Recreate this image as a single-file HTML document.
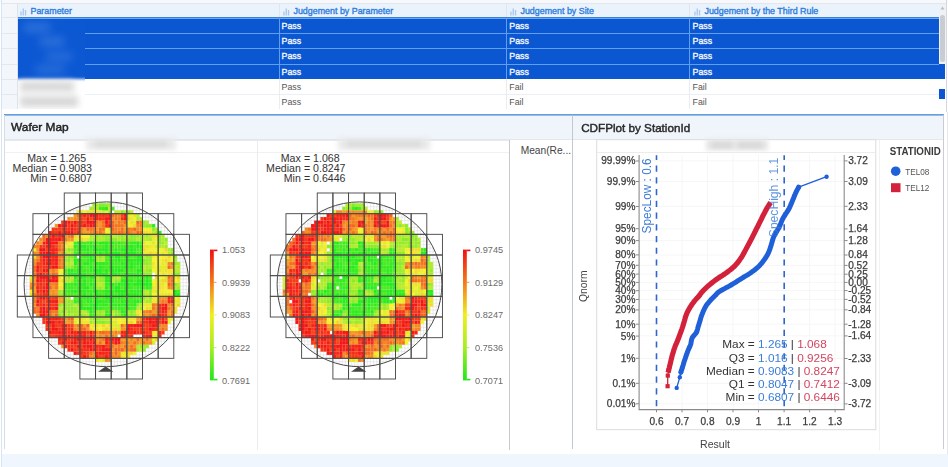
<!DOCTYPE html><html><head><meta charset="utf-8"><style>html,body{margin:0;padding:0;background:#fff;}body{width:948px;height:467px;overflow:hidden;position:relative;font-family:"Liberation Sans", sans-serif;}#wrap{position:absolute;left:0;top:0;width:948px;height:467px;overflow:hidden;filter:blur(0.4px);}</style></head><body><div id="wrap">
<div style="position:absolute;left:0px;top:0px;width:948px;height:3px;background:#f6f8fb;"></div>
<div style="position:absolute;left:1px;top:0px;width:1px;height:467px;background:#d6e4f5;"></div>
<div style="position:absolute;left:2px;top:3px;width:944px;height:1px;background:#e2e7ee;"></div>
<div style="position:absolute;left:2px;top:4px;width:15px;height:105px;background:#f3f6fa;"></div>
<div style="position:absolute;left:2px;top:17px;width:15px;height:1px;background:#e3e8ef;"></div>
<div style="position:absolute;left:2px;top:33px;width:15px;height:1px;background:#e3e8ef;"></div>
<div style="position:absolute;left:2px;top:48px;width:15px;height:1px;background:#e3e8ef;"></div>
<div style="position:absolute;left:2px;top:64px;width:15px;height:1px;background:#e3e8ef;"></div>
<div style="position:absolute;left:2px;top:79px;width:15px;height:1px;background:#e3e8ef;"></div>
<div style="position:absolute;left:2px;top:94px;width:15px;height:1px;background:#e3e8ef;"></div>
<div style="position:absolute;left:17px;top:4px;width:1px;height:105px;background:#dde3ea;"></div>
<div style="position:absolute;left:18px;top:4px;width:921px;height:13px;background:#eaf3fc;"></div>
<div style="position:absolute;left:279px;top:4px;width:1px;height:13px;background:#dfe6ee;"></div>
<div style="position:absolute;left:506px;top:4px;width:1px;height:13px;background:#dfe6ee;"></div>
<div style="position:absolute;left:689px;top:4px;width:1px;height:13px;background:#dfe6ee;"></div>
<div style="position:absolute;left:18px;top:17px;width:921px;height:62px;background:#0b57d2;"></div>
<div style="position:absolute;left:939px;top:64px;width:6px;height:15px;background:#0b57d2;"></div>
<div style="position:absolute;left:18px;top:16.6px;width:921px;height:1px;background:#3f7fd0;"></div>
<div style="position:absolute;left:18px;top:17.6px;width:921px;height:1.2px;background:#64a8f6;"></div>
<div style="position:absolute;left:85px;top:33px;width:854px;height:1px;background:#5f9ff2;"></div>
<div style="position:absolute;left:85px;top:48px;width:854px;height:1px;background:#5f9ff2;"></div>
<div style="position:absolute;left:85px;top:63.5px;width:854px;height:1px;background:#5f9ff2;"></div>
<div style="position:absolute;left:279px;top:18px;width:1px;height:61px;background:#5f9ff2;"></div>
<div style="position:absolute;left:506px;top:18px;width:1px;height:61px;background:#5f9ff2;"></div>
<div style="position:absolute;left:689px;top:18px;width:1px;height:61px;background:#5f9ff2;"></div>
<div style="position:absolute;left:18px;top:79px;width:921px;height:30px;background:#ffffff;"></div>
<div style="position:absolute;left:85px;top:94px;width:854px;height:1px;background:#eceff3;"></div>
<div style="position:absolute;left:279px;top:79px;width:1px;height:30px;background:#e9edf1;"></div>
<div style="position:absolute;left:506px;top:79px;width:1px;height:30px;background:#e9edf1;"></div>
<div style="position:absolute;left:689px;top:79px;width:1px;height:30px;background:#e9edf1;"></div>
<svg style="position:absolute;left:20px;top:8px" width="8" height="8"><rect x="0.3" y="3.5" width="1.3" height="4" fill="#a9c6ea"/><rect x="2.6" y="0.5" width="1.3" height="7" fill="#a9c6ea"/><rect x="4.9" y="2" width="1.3" height="5.5" fill="#a9c6ea"/></svg>
<div style="position:absolute;left:30.5px;top:7.15px;font-size:8.9px;line-height:8.9px;color:#2d7cdc;font-weight:normal;white-space:nowrap;-webkit-text-stroke:0.35px #2d7cdc">Parameter</div>
<svg style="position:absolute;left:283px;top:8px" width="8" height="8"><rect x="0.3" y="3.5" width="1.3" height="4" fill="#a9c6ea"/><rect x="2.6" y="0.5" width="1.3" height="7" fill="#a9c6ea"/><rect x="4.9" y="2" width="1.3" height="5.5" fill="#a9c6ea"/></svg>
<div style="position:absolute;left:293.5px;top:7.15px;font-size:8.9px;line-height:8.9px;color:#2d7cdc;font-weight:normal;white-space:nowrap;-webkit-text-stroke:0.35px #2d7cdc">Judgement by Parameter</div>
<svg style="position:absolute;left:510px;top:8px" width="8" height="8"><rect x="0.3" y="3.5" width="1.3" height="4" fill="#a9c6ea"/><rect x="2.6" y="0.5" width="1.3" height="7" fill="#a9c6ea"/><rect x="4.9" y="2" width="1.3" height="5.5" fill="#a9c6ea"/></svg>
<div style="position:absolute;left:520.5px;top:7.15px;font-size:8.9px;line-height:8.9px;color:#2d7cdc;font-weight:normal;white-space:nowrap;-webkit-text-stroke:0.35px #2d7cdc">Judgement by Site</div>
<svg style="position:absolute;left:694px;top:8px" width="8" height="8"><rect x="0.3" y="3.5" width="1.3" height="4" fill="#a9c6ea"/><rect x="2.6" y="0.5" width="1.3" height="7" fill="#a9c6ea"/><rect x="4.9" y="2" width="1.3" height="5.5" fill="#a9c6ea"/></svg>
<div style="position:absolute;left:704.5px;top:7.15px;font-size:8.9px;line-height:8.9px;color:#2d7cdc;font-weight:normal;white-space:nowrap;-webkit-text-stroke:0.35px #2d7cdc">Judgement by the Third Rule</div>
<div style="position:absolute;left:281.6px;top:22.24px;font-size:8.8px;line-height:8.8px;color:#f4f8ff;font-weight:normal;white-space:nowrap;-webkit-text-stroke:0.35px #f4f8ff">Pass</div>
<div style="position:absolute;left:509.3px;top:22.24px;font-size:8.8px;line-height:8.8px;color:#f4f8ff;font-weight:normal;white-space:nowrap;-webkit-text-stroke:0.35px #f4f8ff">Pass</div>
<div style="position:absolute;left:692.6px;top:22.24px;font-size:8.8px;line-height:8.8px;color:#f4f8ff;font-weight:normal;white-space:nowrap;-webkit-text-stroke:0.35px #f4f8ff">Pass</div>
<div style="position:absolute;left:281.6px;top:37.24px;font-size:8.8px;line-height:8.8px;color:#f4f8ff;font-weight:normal;white-space:nowrap;-webkit-text-stroke:0.35px #f4f8ff">Pass</div>
<div style="position:absolute;left:509.3px;top:37.24px;font-size:8.8px;line-height:8.8px;color:#f4f8ff;font-weight:normal;white-space:nowrap;-webkit-text-stroke:0.35px #f4f8ff">Pass</div>
<div style="position:absolute;left:692.6px;top:37.24px;font-size:8.8px;line-height:8.8px;color:#f4f8ff;font-weight:normal;white-space:nowrap;-webkit-text-stroke:0.35px #f4f8ff">Pass</div>
<div style="position:absolute;left:281.6px;top:52.34px;font-size:8.8px;line-height:8.8px;color:#f4f8ff;font-weight:normal;white-space:nowrap;-webkit-text-stroke:0.35px #f4f8ff">Pass</div>
<div style="position:absolute;left:509.3px;top:52.34px;font-size:8.8px;line-height:8.8px;color:#f4f8ff;font-weight:normal;white-space:nowrap;-webkit-text-stroke:0.35px #f4f8ff">Pass</div>
<div style="position:absolute;left:692.6px;top:52.34px;font-size:8.8px;line-height:8.8px;color:#f4f8ff;font-weight:normal;white-space:nowrap;-webkit-text-stroke:0.35px #f4f8ff">Pass</div>
<div style="position:absolute;left:281.6px;top:67.54px;font-size:8.8px;line-height:8.8px;color:#f4f8ff;font-weight:normal;white-space:nowrap;-webkit-text-stroke:0.35px #f4f8ff">Pass</div>
<div style="position:absolute;left:509.3px;top:67.54px;font-size:8.8px;line-height:8.8px;color:#f4f8ff;font-weight:normal;white-space:nowrap;-webkit-text-stroke:0.35px #f4f8ff">Pass</div>
<div style="position:absolute;left:692.6px;top:67.54px;font-size:8.8px;line-height:8.8px;color:#f4f8ff;font-weight:normal;white-space:nowrap;-webkit-text-stroke:0.35px #f4f8ff">Pass</div>
<div style="position:absolute;left:281.6px;top:82.84px;font-size:8.8px;line-height:8.8px;color:#555555;font-weight:normal;white-space:nowrap;">Pass</div>
<div style="position:absolute;left:509.3px;top:82.84px;font-size:8.8px;line-height:8.8px;color:#555555;font-weight:normal;white-space:nowrap;">Fail</div>
<div style="position:absolute;left:692.6px;top:82.84px;font-size:8.8px;line-height:8.8px;color:#555555;font-weight:normal;white-space:nowrap;">Fail</div>
<div style="position:absolute;left:281.6px;top:97.84px;font-size:8.8px;line-height:8.8px;color:#555555;font-weight:normal;white-space:nowrap;">Pass</div>
<div style="position:absolute;left:509.3px;top:97.84px;font-size:8.8px;line-height:8.8px;color:#555555;font-weight:normal;white-space:nowrap;">Fail</div>
<div style="position:absolute;left:692.6px;top:97.84px;font-size:8.8px;line-height:8.8px;color:#555555;font-weight:normal;white-space:nowrap;">Fail</div>
<div style="position:absolute;left:17.5px;top:18.5px;width:67.5px;height:90px;overflow:hidden;background:#fff"><div style="position:absolute;left:-8px;top:-8px;width:84px;height:68.5px;background:#0c58d3;filter:blur(1.6px)"></div><div style="position:absolute;left:6px;top:4px;width:26px;height:9px;background:#4a86e2;filter:blur(4px);opacity:.55"></div><div style="position:absolute;left:22px;top:18px;width:24px;height:9px;background:#4a86e2;filter:blur(4px);opacity:.55"></div><div style="position:absolute;left:28px;top:33px;width:26px;height:9px;background:#4a86e2;filter:blur(4px);opacity:.45"></div><div style="position:absolute;left:18px;top:46px;width:28px;height:9px;background:#4a86e2;filter:blur(4px);opacity:.45"></div><div style="position:absolute;left:2px;top:62px;width:54px;height:11px;background:#dadada;filter:blur(3px)"></div><div style="position:absolute;left:2px;top:77px;width:58px;height:11px;background:#d8d8d8;filter:blur(3px)"></div></div>
<div style="position:absolute;left:939px;top:4px;width:7px;height:60px;background:#eef1f5;"></div>
<div style="position:absolute;left:939px;top:79px;width:7px;height:30px;background:#ffffff;"></div>
<svg style="position:absolute;left:939px;top:5px" width="7" height="6"><path d="M1.5 4.5 L3.5 1.5 L5.5 4.5 Z" fill="#b9bec6"/></svg>
<div style="position:absolute;left:939.6px;top:14.5px;width:5px;height:47px;background:#c9ccd1;border-radius:2.5px"></div>
<div style="position:absolute;left:939.3px;top:89px;width:5.8px;height:10px;background:#0b57d2;"></div>
<div style="position:absolute;left:946px;top:0px;width:1px;height:112px;background:#d5d9de;"></div>
<div style="position:absolute;left:3.5px;top:115.4px;width:940px;height:24px;background:#f0f5fb;"></div>
<div style="position:absolute;left:3.5px;top:114.3px;width:940.5px;height:1.1px;background:#6e9bd2;"></div>
<div style="position:absolute;left:3.5px;top:115.4px;width:940.5px;height:1px;background:#8cc0f2;"></div>
<div style="position:absolute;left:3.5px;top:138.8px;width:940px;height:0.8px;background:#e3e7ec;"></div>
<div style="position:absolute;left:3.5px;top:115px;width:1px;height:334px;background:#d7dde5;"></div>
<div style="position:absolute;left:572px;top:115px;width:1.4px;height:334px;background:#c3c8ce;"></div>
<div style="position:absolute;left:943.2px;top:115px;width:1px;height:334px;background:#c9cdd3;"></div>
<div style="position:absolute;left:879px;top:140px;width:1px;height:311px;background:#f1f2f3;"></div>
<div style="position:absolute;left:947px;top:112px;width:1px;height:355px;background:#e6e8eb;"></div>
<div style="position:absolute;left:2px;top:453.7px;width:946px;height:14px;background:#f0f6fd;"></div>
<div style="position:absolute;left:4.5px;top:139.5px;width:567.5px;height:310px;background:#ffffff;"></div>
<div style="position:absolute;left:4.5px;top:139.5px;width:505.5px;height:1px;background:#e6eaef;"></div>
<div style="position:absolute;left:4.5px;top:151.8px;width:505px;height:1px;background:#eff1f3;"></div>
<div style="position:absolute;left:257px;top:139.5px;width:1px;height:310px;background:#eaedf0;"></div>
<div style="position:absolute;left:509.3px;top:139.5px;width:1.2px;height:310px;background:#c9c9c9;"></div>
<div style="position:absolute;left:86px;top:138px;width:90px;height:12px;background:#e9e9e9;filter:blur(2.5px)"></div><div style="position:absolute;left:95px;top:141px;width:72px;height:6px;background:#dcdcdc;filter:blur(2px)"></div>
<div style="position:absolute;left:338px;top:138px;width:92px;height:12px;background:#e9e9e9;filter:blur(2.5px)"></div><div style="position:absolute;left:347px;top:141px;width:74px;height:6px;background:#dcdcdc;filter:blur(2px)"></div>
<div style="position:absolute;left:520.7px;top:145.77px;font-size:10.2px;line-height:10.2px;color:#444444;font-weight:normal;white-space:nowrap;">Mean(Re...</div>
<div style="position:absolute;right:900.7px;top:152.81px;font-size:10.6px;line-height:10.6px;color:#333333;font-weight:normal;white-space:nowrap;text-align:right;">Max</div>
<div style="position:absolute;left:47.5px;top:152.81px;font-size:10.6px;line-height:10.6px;color:#333333;font-weight:normal;white-space:nowrap;">&nbsp;=&nbsp;1.265</div>
<div style="position:absolute;right:900.7px;top:162.91px;font-size:10.6px;line-height:10.6px;color:#333333;font-weight:normal;white-space:nowrap;text-align:right;">Median</div>
<div style="position:absolute;left:47.5px;top:162.91px;font-size:10.6px;line-height:10.6px;color:#333333;font-weight:normal;white-space:nowrap;">&nbsp;=&nbsp;0.9083</div>
<div style="position:absolute;right:900.7px;top:173.01px;font-size:10.6px;line-height:10.6px;color:#333333;font-weight:normal;white-space:nowrap;text-align:right;">Min</div>
<div style="position:absolute;left:47.5px;top:173.01px;font-size:10.6px;line-height:10.6px;color:#333333;font-weight:normal;white-space:nowrap;">&nbsp;=&nbsp;0.6807</div>
<div style="position:absolute;right:647.2px;top:152.81px;font-size:10.6px;line-height:10.6px;color:#333333;font-weight:normal;white-space:nowrap;text-align:right;">Max</div>
<div style="position:absolute;left:301.0px;top:152.81px;font-size:10.6px;line-height:10.6px;color:#333333;font-weight:normal;white-space:nowrap;">&nbsp;=&nbsp;1.068</div>
<div style="position:absolute;right:647.2px;top:162.91px;font-size:10.6px;line-height:10.6px;color:#333333;font-weight:normal;white-space:nowrap;text-align:right;">Median</div>
<div style="position:absolute;left:301.0px;top:162.91px;font-size:10.6px;line-height:10.6px;color:#333333;font-weight:normal;white-space:nowrap;">&nbsp;=&nbsp;0.8247</div>
<div style="position:absolute;right:647.2px;top:173.01px;font-size:10.6px;line-height:10.6px;color:#333333;font-weight:normal;white-space:nowrap;text-align:right;">Min</div>
<div style="position:absolute;left:301.0px;top:173.01px;font-size:10.6px;line-height:10.6px;color:#333333;font-weight:normal;white-space:nowrap;">&nbsp;=&nbsp;0.6446</div>
<svg style="position:absolute;left:0;top:0" width="948" height="467"><defs><linearGradient id="cb" x1="0" y1="0" x2="0" y2="1"><stop offset="0" stop-color="#f01010"/><stop offset="0.25" stop-color="#f37a1a"/><stop offset="0.5" stop-color="#f0ee1e"/><stop offset="0.75" stop-color="#a6ee22"/><stop offset="1" stop-color="#1ee81a"/></linearGradient><filter id="bl2" x="-50%" y="-50%" width="200%" height="200%"><feGaussianBlur stdDeviation="2"/></filter></defs><clipPath id="wc11"><circle cx="106.50" cy="284.30" r="82.4"/></clipPath><path clip-path="url(#wc11)" stroke="#cdcdcd" stroke-opacity="0.9" stroke-width="0.45" fill="none" d="M17.30 193.0V379.0M20.43 193.0V379.0M23.56 193.0V379.0M26.69 193.0V379.0M29.82 193.0V379.0M32.95 193.0V379.0M36.08 193.0V379.0M39.21 193.0V379.0M42.34 193.0V379.0M45.47 193.0V379.0M48.60 193.0V379.0M51.73 193.0V379.0M54.86 193.0V379.0M57.99 193.0V379.0M61.12 193.0V379.0M64.25 193.0V379.0M67.38 193.0V379.0M70.51 193.0V379.0M73.64 193.0V379.0M76.77 193.0V379.0M79.90 193.0V379.0M83.03 193.0V379.0M86.16 193.0V379.0M89.29 193.0V379.0M92.42 193.0V379.0M95.55 193.0V379.0M98.68 193.0V379.0M101.81 193.0V379.0M104.94 193.0V379.0M108.07 193.0V379.0M111.20 193.0V379.0M114.33 193.0V379.0M117.46 193.0V379.0M120.59 193.0V379.0M123.72 193.0V379.0M126.85 193.0V379.0M129.98 193.0V379.0M133.11 193.0V379.0M136.24 193.0V379.0M139.37 193.0V379.0M142.50 193.0V379.0M145.63 193.0V379.0M148.76 193.0V379.0M151.89 193.0V379.0M155.02 193.0V379.0M158.15 193.0V379.0M161.28 193.0V379.0M164.41 193.0V379.0M167.54 193.0V379.0M170.67 193.0V379.0M173.80 193.0V379.0M176.93 193.0V379.0M180.06 193.0V379.0M183.19 193.0V379.0M186.32 193.0V379.0M189.45 193.0V379.0M17.3 193.00H189.5M17.3 196.44H189.5M17.3 199.89H189.5M17.3 203.33H189.5M17.3 206.78H189.5M17.3 210.22H189.5M17.3 213.67H189.5M17.3 217.11H189.5M17.3 220.56H189.5M17.3 224.00H189.5M17.3 227.44H189.5M17.3 230.89H189.5M17.3 234.33H189.5M17.3 237.78H189.5M17.3 241.22H189.5M17.3 244.67H189.5M17.3 248.11H189.5M17.3 251.56H189.5M17.3 255.00H189.5M17.3 258.45H189.5M17.3 261.89H189.5M17.3 265.33H189.5M17.3 268.78H189.5M17.3 272.22H189.5M17.3 275.67H189.5M17.3 279.11H189.5M17.3 282.56H189.5M17.3 286.00H189.5M17.3 289.45H189.5M17.3 292.89H189.5M17.3 296.34H189.5M17.3 299.78H189.5M17.3 303.22H189.5M17.3 306.67H189.5M17.3 310.11H189.5M17.3 313.56H189.5M17.3 317.00H189.5M17.3 320.45H189.5M17.3 323.89H189.5M17.3 327.34H189.5M17.3 330.78H189.5M17.3 334.22H189.5M17.3 337.67H189.5M17.3 341.11H189.5M17.3 344.56H189.5M17.3 348.00H189.5M17.3 351.45H189.5M17.3 354.89H189.5M17.3 358.34H189.5M17.3 361.78H189.5M17.3 365.23H189.5M17.3 368.67H189.5M17.3 372.11H189.5M17.3 375.56H189.5M17.3 379.00H189.5"/><path fill="#f4ec24" d="M76.8 210.2h3.35v3.66h-3.35zM104.9 230.9h3.35v3.66h-3.35zM108.1 230.9h3.35v3.66h-3.35zM130.0 213.7h3.35v3.66h-3.35zM126.8 224.0h3.35v3.66h-3.35zM130.0 224.0h3.35v3.66h-3.35zM142.5 227.4h3.35v3.66h-3.35zM148.8 227.4h3.35v3.66h-3.35zM33.0 248.1h3.35v3.66h-3.35zM76.8 237.8h3.35v3.66h-3.35zM67.4 241.2h3.35v3.66h-3.35zM79.9 234.3h3.35v3.66h-3.35zM151.9 244.7h3.35v3.66h-3.35zM145.6 248.1h3.35v3.66h-3.35zM164.4 251.6h3.35v3.66h-3.35zM58.0 268.8h3.35v3.66h-3.35zM151.9 255.0h3.35v3.66h-3.35zM155.0 255.0h3.35v3.66h-3.35zM151.9 265.3h3.35v3.66h-3.35zM161.3 255.0h3.35v3.66h-3.35zM164.4 255.0h3.35v3.66h-3.35zM164.4 272.2h3.35v3.66h-3.35zM164.4 286.0h3.35v3.66h-3.35zM158.2 289.4h3.35v3.66h-3.35zM161.3 289.4h3.35v3.66h-3.35zM173.8 275.7h3.35v3.66h-3.35zM173.8 303.2h3.35v3.66h-3.35zM89.3 323.9h3.35v3.66h-3.35zM92.4 327.3h3.35v3.66h-3.35zM98.7 323.9h3.35v3.66h-3.35zM104.9 323.9h3.35v3.66h-3.35zM111.2 317.0h3.35v3.66h-3.35zM120.6 317.0h3.35v3.66h-3.35zM120.6 320.4h3.35v3.66h-3.35zM151.9 330.8h3.35v3.66h-3.35zM155.0 330.8h3.35v3.66h-3.35zM151.9 334.2h3.35v3.66h-3.35zM170.7 317.0h3.35v3.66h-3.35zM123.7 354.9h3.35v3.66h-3.35z"/><path fill="#9cec24" d="M92.4 203.3h3.35v3.66h-3.35zM108.1 203.3h3.35v3.66h-3.35zM108.1 210.2h3.35v3.66h-3.35zM70.5 248.1h3.35v3.66h-3.35zM92.4 237.8h3.35v3.66h-3.35zM101.8 234.3h3.35v3.66h-3.35zM145.6 234.3h3.35v3.66h-3.35zM161.3 241.2h3.35v3.66h-3.35zM164.4 244.7h3.35v3.66h-3.35zM98.7 258.4h3.35v3.66h-3.35zM148.8 255.0h3.35v3.66h-3.35zM145.6 258.4h3.35v3.66h-3.35zM148.8 258.4h3.35v3.66h-3.35zM145.6 268.8h3.35v3.66h-3.35zM58.0 289.4h3.35v3.66h-3.35zM58.0 292.9h3.35v3.66h-3.35zM95.5 286.0h3.35v3.66h-3.35zM111.2 275.7h3.35v3.66h-3.35zM117.5 279.1h3.35v3.66h-3.35zM142.5 292.9h3.35v3.66h-3.35zM73.6 310.1h3.35v3.66h-3.35zM76.8 310.1h3.35v3.66h-3.35zM67.4 313.6h3.35v3.66h-3.35zM76.8 313.6h3.35v3.66h-3.35zM148.8 296.3h3.35v3.66h-3.35zM89.3 320.4h3.35v3.66h-3.35zM104.9 320.4h3.35v3.66h-3.35zM142.5 344.6h3.35v3.66h-3.35zM145.6 344.6h3.35v3.66h-3.35z"/><path fill="#a4ec24" d="M89.3 206.8h3.35v3.66h-3.35zM92.4 206.8h3.35v3.66h-3.35zM95.5 203.3h3.35v3.66h-3.35zM70.5 251.6h3.35v3.66h-3.35zM89.3 234.3h3.35v3.66h-3.35zM95.5 237.8h3.35v3.66h-3.35zM117.5 234.3h3.35v3.66h-3.35zM123.7 237.8h3.35v3.66h-3.35zM126.8 234.3h3.35v3.66h-3.35zM139.4 234.3h3.35v3.66h-3.35zM148.8 237.8h3.35v3.66h-3.35zM158.2 244.7h3.35v3.66h-3.35zM64.2 255.0h3.35v3.66h-3.35zM67.4 261.9h3.35v3.66h-3.35zM95.5 255.0h3.35v3.66h-3.35zM95.5 258.4h3.35v3.66h-3.35zM148.8 261.9h3.35v3.66h-3.35zM145.6 265.3h3.35v3.66h-3.35zM176.9 261.9h3.35v3.66h-3.35zM61.1 289.4h3.35v3.66h-3.35zM70.5 279.1h3.35v3.66h-3.35zM95.5 279.1h3.35v3.66h-3.35zM142.5 289.4h3.35v3.66h-3.35zM176.9 286.0h3.35v3.66h-3.35zM61.1 303.2h3.35v3.66h-3.35zM58.0 310.1h3.35v3.66h-3.35zM64.2 296.3h3.35v3.66h-3.35zM83.0 313.6h3.35v3.66h-3.35zM95.5 310.1h3.35v3.66h-3.35zM101.8 313.6h3.35v3.66h-3.35zM126.8 310.1h3.35v3.66h-3.35zM133.1 310.1h3.35v3.66h-3.35zM145.6 299.8h3.35v3.66h-3.35zM148.8 299.8h3.35v3.66h-3.35zM98.7 317.0h3.35v3.66h-3.35zM136.2 348.0h3.35v3.66h-3.35z"/><path fill="#f4dc24" d="M79.9 210.2h3.35v3.66h-3.35zM86.2 210.2h3.35v3.66h-3.35zM133.1 213.7h3.35v3.66h-3.35zM130.0 220.6h3.35v3.66h-3.35zM142.5 230.9h3.35v3.66h-3.35zM145.6 230.9h3.35v3.66h-3.35zM76.8 234.3h3.35v3.66h-3.35zM151.9 234.3h3.35v3.66h-3.35zM155.0 234.3h3.35v3.66h-3.35zM142.5 244.7h3.35v3.66h-3.35zM142.5 248.1h3.35v3.66h-3.35zM155.0 251.6h3.35v3.66h-3.35zM158.2 268.8h3.35v3.66h-3.35zM164.4 268.8h3.35v3.66h-3.35zM161.3 272.2h3.35v3.66h-3.35zM170.7 272.2h3.35v3.66h-3.35zM29.8 292.9h3.35v3.66h-3.35zM58.0 275.7h3.35v3.66h-3.35zM158.2 282.6h3.35v3.66h-3.35zM158.2 286.0h3.35v3.66h-3.35zM167.5 292.9h3.35v3.66h-3.35zM145.6 306.7h3.35v3.66h-3.35zM173.8 306.7h3.35v3.66h-3.35zM79.9 317.0h3.35v3.66h-3.35zM79.9 320.4h3.35v3.66h-3.35zM92.4 323.9h3.35v3.66h-3.35zM95.5 323.9h3.35v3.66h-3.35zM108.1 323.9h3.35v3.66h-3.35zM111.2 327.3h3.35v3.66h-3.35zM126.8 320.4h3.35v3.66h-3.35zM130.0 351.4h3.35v3.66h-3.35zM126.8 354.9h3.35v3.66h-3.35z"/><path fill="#ecf424" d="M83.0 210.2h3.35v3.66h-3.35zM104.9 210.2h3.35v3.66h-3.35zM104.9 227.4h3.35v3.66h-3.35zM133.1 217.1h3.35v3.66h-3.35zM126.8 220.6h3.35v3.66h-3.35zM145.6 227.4h3.35v3.66h-3.35zM70.5 241.2h3.35v3.66h-3.35zM64.2 244.7h3.35v3.66h-3.35zM155.0 237.8h3.35v3.66h-3.35zM148.8 241.2h3.35v3.66h-3.35zM148.8 248.1h3.35v3.66h-3.35zM151.9 248.1h3.35v3.66h-3.35zM155.0 248.1h3.35v3.66h-3.35zM158.2 248.1h3.35v3.66h-3.35zM161.3 248.1h3.35v3.66h-3.35zM158.2 251.6h3.35v3.66h-3.35zM61.1 268.8h3.35v3.66h-3.35zM58.0 272.2h3.35v3.66h-3.35zM155.0 265.3h3.35v3.66h-3.35zM155.0 268.8h3.35v3.66h-3.35zM155.0 272.2h3.35v3.66h-3.35zM170.7 255.0h3.35v3.66h-3.35zM158.2 258.4h3.35v3.66h-3.35zM158.2 261.9h3.35v3.66h-3.35zM158.2 272.2h3.35v3.66h-3.35zM29.8 289.4h3.35v3.66h-3.35zM61.1 275.7h3.35v3.66h-3.35zM58.0 282.6h3.35v3.66h-3.35zM61.1 282.6h3.35v3.66h-3.35zM151.9 282.6h3.35v3.66h-3.35zM155.0 292.9h3.35v3.66h-3.35zM161.3 275.7h3.35v3.66h-3.35zM164.4 282.6h3.35v3.66h-3.35zM164.4 289.4h3.35v3.66h-3.35zM170.7 289.4h3.35v3.66h-3.35zM139.4 313.6h3.35v3.66h-3.35zM173.8 296.3h3.35v3.66h-3.35zM76.8 320.4h3.35v3.66h-3.35zM86.2 317.0h3.35v3.66h-3.35zM133.1 320.4h3.35v3.66h-3.35zM167.5 320.4h3.35v3.66h-3.35zM133.1 351.4h3.35v3.66h-3.35zM151.9 337.7h3.35v3.66h-3.35z"/><path fill="#dcec24" d="M89.3 210.2h3.35v3.66h-3.35zM101.8 210.2h3.35v3.66h-3.35zM108.1 227.4h3.35v3.66h-3.35zM126.8 213.7h3.35v3.66h-3.35zM86.2 237.8h3.35v3.66h-3.35zM142.5 241.2h3.35v3.66h-3.35zM151.9 241.2h3.35v3.66h-3.35zM161.3 251.6h3.35v3.66h-3.35zM158.2 265.3h3.35v3.66h-3.35zM161.3 265.3h3.35v3.66h-3.35zM164.4 265.3h3.35v3.66h-3.35zM164.4 275.7h3.35v3.66h-3.35zM158.2 279.1h3.35v3.66h-3.35zM161.3 282.6h3.35v3.66h-3.35zM155.0 299.8h3.35v3.66h-3.35zM148.8 306.7h3.35v3.66h-3.35zM73.6 320.4h3.35v3.66h-3.35zM108.1 327.3h3.35v3.66h-3.35zM111.2 320.4h3.35v3.66h-3.35zM114.3 320.4h3.35v3.66h-3.35zM111.2 323.9h3.35v3.66h-3.35zM114.3 323.9h3.35v3.66h-3.35zM117.5 323.9h3.35v3.66h-3.35zM117.5 327.3h3.35v3.66h-3.35zM126.8 317.0h3.35v3.66h-3.35zM151.9 341.1h3.35v3.66h-3.35z"/><path fill="#f4d424" d="M92.4 210.2h3.35v3.66h-3.35zM126.8 217.1h3.35v3.66h-3.35zM133.1 224.0h3.35v3.66h-3.35zM73.6 234.3h3.35v3.66h-3.35zM64.2 241.2h3.35v3.66h-3.35zM79.9 237.8h3.35v3.66h-3.35zM148.8 251.6h3.35v3.66h-3.35zM164.4 248.1h3.35v3.66h-3.35zM33.0 255.0h3.35v3.66h-3.35zM167.5 255.0h3.35v3.66h-3.35zM164.4 258.4h3.35v3.66h-3.35zM29.8 279.1h3.35v3.66h-3.35zM61.1 279.1h3.35v3.66h-3.35zM155.0 275.7h3.35v3.66h-3.35zM161.3 279.1h3.35v3.66h-3.35zM164.4 279.1h3.35v3.66h-3.35zM176.9 275.7h3.35v3.66h-3.35zM136.2 313.6h3.35v3.66h-3.35zM176.9 303.2h3.35v3.66h-3.35zM101.8 323.9h3.35v3.66h-3.35zM104.9 327.3h3.35v3.66h-3.35zM114.3 327.3h3.35v3.66h-3.35zM130.0 320.4h3.35v3.66h-3.35zM126.8 351.4h3.35v3.66h-3.35zM155.0 337.7h3.35v3.66h-3.35z"/><path fill="#84ec24" d="M98.7 203.3h3.35v3.66h-3.35zM101.8 203.3h3.35v3.66h-3.35zM120.6 210.2h3.35v3.66h-3.35zM67.4 248.1h3.35v3.66h-3.35zM108.1 234.3h3.35v3.66h-3.35zM108.1 237.8h3.35v3.66h-3.35zM130.0 234.3h3.35v3.66h-3.35zM170.7 248.1h3.35v3.66h-3.35zM67.4 258.4h3.35v3.66h-3.35zM98.7 255.0h3.35v3.66h-3.35zM142.5 258.4h3.35v3.66h-3.35zM148.8 268.8h3.35v3.66h-3.35zM173.8 272.2h3.35v3.66h-3.35zM114.3 279.1h3.35v3.66h-3.35zM148.8 289.4h3.35v3.66h-3.35zM148.8 292.9h3.35v3.66h-3.35zM58.0 303.2h3.35v3.66h-3.35zM58.0 313.6h3.35v3.66h-3.35zM67.4 299.8h3.35v3.66h-3.35zM67.4 310.1h3.35v3.66h-3.35zM117.5 310.1h3.35v3.66h-3.35zM114.3 313.6h3.35v3.66h-3.35zM130.0 310.1h3.35v3.66h-3.35zM130.0 313.6h3.35v3.66h-3.35zM95.5 320.4h3.35v3.66h-3.35zM101.8 320.4h3.35v3.66h-3.35z"/><path fill="#94ec24" d="M104.9 203.3h3.35v3.66h-3.35zM142.5 224.0h3.35v3.66h-3.35zM155.0 230.9h3.35v3.66h-3.35zM95.5 234.3h3.35v3.66h-3.35zM120.6 237.8h3.35v3.66h-3.35zM136.2 234.3h3.35v3.66h-3.35zM133.1 237.8h3.35v3.66h-3.35zM139.4 237.8h3.35v3.66h-3.35zM64.2 258.4h3.35v3.66h-3.35zM67.4 265.3h3.35v3.66h-3.35zM142.5 261.9h3.35v3.66h-3.35zM145.6 261.9h3.35v3.66h-3.35zM145.6 272.2h3.35v3.66h-3.35zM148.8 272.2h3.35v3.66h-3.35zM61.1 292.9h3.35v3.66h-3.35zM67.4 275.7h3.35v3.66h-3.35zM98.7 275.7h3.35v3.66h-3.35zM98.7 279.1h3.35v3.66h-3.35zM101.8 279.1h3.35v3.66h-3.35zM98.7 286.0h3.35v3.66h-3.35zM64.2 299.8h3.35v3.66h-3.35zM70.5 299.8h3.35v3.66h-3.35zM64.2 303.2h3.35v3.66h-3.35zM70.5 303.2h3.35v3.66h-3.35zM76.8 303.2h3.35v3.66h-3.35zM64.2 306.7h3.35v3.66h-3.35zM67.4 306.7h3.35v3.66h-3.35zM73.6 306.7h3.35v3.66h-3.35zM70.5 310.1h3.35v3.66h-3.35zM73.6 313.6h3.35v3.66h-3.35zM86.2 310.1h3.35v3.66h-3.35zM98.7 310.1h3.35v3.66h-3.35zM98.7 313.6h3.35v3.66h-3.35zM114.3 310.1h3.35v3.66h-3.35zM139.4 306.7h3.35v3.66h-3.35zM126.8 313.6h3.35v3.66h-3.35zM133.1 313.6h3.35v3.66h-3.35zM142.5 296.3h3.35v3.66h-3.35zM92.4 317.0h3.35v3.66h-3.35zM95.5 317.0h3.35v3.66h-3.35zM108.1 320.4h3.35v3.66h-3.35zM139.4 344.6h3.35v3.66h-3.35zM142.5 348.0h3.35v3.66h-3.35z"/><path fill="#b4ec24" d="M95.5 206.8h3.35v3.66h-3.35zM123.7 210.2h3.35v3.66h-3.35zM139.4 217.1h3.35v3.66h-3.35zM92.4 234.3h3.35v3.66h-3.35zM89.3 237.8h3.35v3.66h-3.35zM101.8 237.8h3.35v3.66h-3.35zM114.3 234.3h3.35v3.66h-3.35zM136.2 237.8h3.35v3.66h-3.35zM145.6 237.8h3.35v3.66h-3.35zM161.3 237.8h3.35v3.66h-3.35zM161.3 244.7h3.35v3.66h-3.35zM167.5 251.6h3.35v3.66h-3.35zM70.5 258.4h3.35v3.66h-3.35zM64.2 261.9h3.35v3.66h-3.35zM101.8 258.4h3.35v3.66h-3.35zM148.8 265.3h3.35v3.66h-3.35zM142.5 268.8h3.35v3.66h-3.35zM176.9 282.6h3.35v3.66h-3.35zM67.4 296.3h3.35v3.66h-3.35zM73.6 303.2h3.35v3.66h-3.35zM64.2 310.1h3.35v3.66h-3.35zM70.5 313.6h3.35v3.66h-3.35zM86.2 313.6h3.35v3.66h-3.35zM111.2 310.1h3.35v3.66h-3.35zM89.3 317.0h3.35v3.66h-3.35zM92.4 320.4h3.35v3.66h-3.35zM104.9 317.0h3.35v3.66h-3.35zM136.2 344.6h3.35v3.66h-3.35z"/><path fill="#3cec1c" d="M98.7 206.8h3.35v3.66h-3.35zM101.8 206.8h3.35v3.66h-3.35zM73.6 241.2h3.35v3.66h-3.35zM73.6 251.6h3.35v3.66h-3.35zM79.9 241.2h3.35v3.66h-3.35zM83.0 241.2h3.35v3.66h-3.35zM86.2 244.7h3.35v3.66h-3.35zM92.4 251.6h3.35v3.66h-3.35zM108.1 241.2h3.35v3.66h-3.35zM133.1 244.7h3.35v3.66h-3.35zM126.8 248.1h3.35v3.66h-3.35zM139.4 248.1h3.35v3.66h-3.35zM76.8 265.3h3.35v3.66h-3.35zM83.0 255.0h3.35v3.66h-3.35zM86.2 255.0h3.35v3.66h-3.35zM92.4 255.0h3.35v3.66h-3.35zM79.9 258.4h3.35v3.66h-3.35zM92.4 265.3h3.35v3.66h-3.35zM79.9 268.8h3.35v3.66h-3.35zM108.1 261.9h3.35v3.66h-3.35zM101.8 265.3h3.35v3.66h-3.35zM111.2 258.4h3.35v3.66h-3.35zM120.6 258.4h3.35v3.66h-3.35zM123.7 258.4h3.35v3.66h-3.35zM120.6 265.3h3.35v3.66h-3.35zM126.8 261.9h3.35v3.66h-3.35zM133.1 261.9h3.35v3.66h-3.35zM133.1 265.3h3.35v3.66h-3.35zM130.0 268.8h3.35v3.66h-3.35zM67.4 282.6h3.35v3.66h-3.35zM70.5 282.6h3.35v3.66h-3.35zM76.8 282.6h3.35v3.66h-3.35zM67.4 286.0h3.35v3.66h-3.35zM70.5 286.0h3.35v3.66h-3.35zM79.9 286.0h3.35v3.66h-3.35zM86.2 289.4h3.35v3.66h-3.35zM89.3 289.4h3.35v3.66h-3.35zM79.9 292.9h3.35v3.66h-3.35zM101.8 289.4h3.35v3.66h-3.35zM98.7 292.9h3.35v3.66h-3.35zM120.6 282.6h3.35v3.66h-3.35zM130.0 282.6h3.35v3.66h-3.35zM130.0 286.0h3.35v3.66h-3.35zM142.5 279.1h3.35v3.66h-3.35zM148.8 279.1h3.35v3.66h-3.35zM76.8 299.8h3.35v3.66h-3.35zM79.9 296.3h3.35v3.66h-3.35zM98.7 303.2h3.35v3.66h-3.35zM104.9 310.1h3.35v3.66h-3.35zM114.3 296.3h3.35v3.66h-3.35zM117.5 306.7h3.35v3.66h-3.35zM120.6 306.7h3.35v3.66h-3.35zM123.7 310.1h3.35v3.66h-3.35zM130.0 296.3h3.35v3.66h-3.35zM130.0 299.8h3.35v3.66h-3.35zM126.8 303.2h3.35v3.66h-3.35zM130.0 303.2h3.35v3.66h-3.35z"/><path fill="#24ec1c" d="M104.9 206.8h3.35v3.66h-3.35zM151.9 224.0h3.35v3.66h-3.35zM158.2 230.9h3.35v3.66h-3.35zM76.8 241.2h3.35v3.66h-3.35zM76.8 251.6h3.35v3.66h-3.35zM89.3 241.2h3.35v3.66h-3.35zM79.9 244.7h3.35v3.66h-3.35zM83.0 244.7h3.35v3.66h-3.35zM92.4 244.7h3.35v3.66h-3.35zM86.2 248.1h3.35v3.66h-3.35zM92.4 248.1h3.35v3.66h-3.35zM98.7 241.2h3.35v3.66h-3.35zM95.5 248.1h3.35v3.66h-3.35zM104.9 248.1h3.35v3.66h-3.35zM98.7 251.6h3.35v3.66h-3.35zM104.9 251.6h3.35v3.66h-3.35zM123.7 248.1h3.35v3.66h-3.35zM111.2 251.6h3.35v3.66h-3.35zM114.3 251.6h3.35v3.66h-3.35zM117.5 251.6h3.35v3.66h-3.35zM123.7 251.6h3.35v3.66h-3.35zM136.2 241.2h3.35v3.66h-3.35zM130.0 244.7h3.35v3.66h-3.35zM136.2 244.7h3.35v3.66h-3.35zM130.0 248.1h3.35v3.66h-3.35zM126.8 251.6h3.35v3.66h-3.35zM130.0 251.6h3.35v3.66h-3.35zM133.1 251.6h3.35v3.66h-3.35zM139.4 251.6h3.35v3.66h-3.35zM76.8 258.4h3.35v3.66h-3.35zM73.6 261.9h3.35v3.66h-3.35zM67.4 268.8h3.35v3.66h-3.35zM76.8 268.8h3.35v3.66h-3.35zM67.4 272.2h3.35v3.66h-3.35zM70.5 272.2h3.35v3.66h-3.35zM73.6 272.2h3.35v3.66h-3.35zM76.8 272.2h3.35v3.66h-3.35zM89.3 255.0h3.35v3.66h-3.35zM89.3 258.4h3.35v3.66h-3.35zM92.4 258.4h3.35v3.66h-3.35zM83.0 261.9h3.35v3.66h-3.35zM86.2 261.9h3.35v3.66h-3.35zM79.9 265.3h3.35v3.66h-3.35zM89.3 265.3h3.35v3.66h-3.35zM92.4 268.8h3.35v3.66h-3.35zM79.9 272.2h3.35v3.66h-3.35zM83.0 272.2h3.35v3.66h-3.35zM108.1 255.0h3.35v3.66h-3.35zM95.5 261.9h3.35v3.66h-3.35zM98.7 265.3h3.35v3.66h-3.35zM95.5 268.8h3.35v3.66h-3.35zM98.7 268.8h3.35v3.66h-3.35zM104.9 268.8h3.35v3.66h-3.35zM95.5 272.2h3.35v3.66h-3.35zM98.7 272.2h3.35v3.66h-3.35zM101.8 272.2h3.35v3.66h-3.35zM104.9 272.2h3.35v3.66h-3.35zM114.3 255.0h3.35v3.66h-3.35zM117.5 255.0h3.35v3.66h-3.35zM117.5 258.4h3.35v3.66h-3.35zM111.2 265.3h3.35v3.66h-3.35zM123.7 265.3h3.35v3.66h-3.35zM111.2 268.8h3.35v3.66h-3.35zM117.5 268.8h3.35v3.66h-3.35zM120.6 268.8h3.35v3.66h-3.35zM111.2 272.2h3.35v3.66h-3.35zM114.3 272.2h3.35v3.66h-3.35zM123.7 272.2h3.35v3.66h-3.35zM136.2 255.0h3.35v3.66h-3.35zM139.4 255.0h3.35v3.66h-3.35zM126.8 258.4h3.35v3.66h-3.35zM130.0 258.4h3.35v3.66h-3.35zM136.2 258.4h3.35v3.66h-3.35zM139.4 258.4h3.35v3.66h-3.35zM130.0 261.9h3.35v3.66h-3.35zM139.4 261.9h3.35v3.66h-3.35zM130.0 265.3h3.35v3.66h-3.35zM139.4 265.3h3.35v3.66h-3.35zM136.2 268.8h3.35v3.66h-3.35zM139.4 268.8h3.35v3.66h-3.35zM136.2 272.2h3.35v3.66h-3.35zM73.6 275.7h3.35v3.66h-3.35zM64.2 282.6h3.35v3.66h-3.35zM73.6 289.4h3.35v3.66h-3.35zM79.9 275.7h3.35v3.66h-3.35zM89.3 275.7h3.35v3.66h-3.35zM92.4 275.7h3.35v3.66h-3.35zM83.0 279.1h3.35v3.66h-3.35zM83.0 282.6h3.35v3.66h-3.35zM89.3 282.6h3.35v3.66h-3.35zM83.0 286.0h3.35v3.66h-3.35zM86.2 286.0h3.35v3.66h-3.35zM92.4 286.0h3.35v3.66h-3.35zM92.4 289.4h3.35v3.66h-3.35zM83.0 292.9h3.35v3.66h-3.35zM104.9 279.1h3.35v3.66h-3.35zM108.1 279.1h3.35v3.66h-3.35zM104.9 289.4h3.35v3.66h-3.35zM108.1 289.4h3.35v3.66h-3.35zM104.9 292.9h3.35v3.66h-3.35zM120.6 279.1h3.35v3.66h-3.35zM123.7 279.1h3.35v3.66h-3.35zM111.2 282.6h3.35v3.66h-3.35zM117.5 282.6h3.35v3.66h-3.35zM123.7 282.6h3.35v3.66h-3.35zM114.3 286.0h3.35v3.66h-3.35zM117.5 286.0h3.35v3.66h-3.35zM123.7 286.0h3.35v3.66h-3.35zM114.3 289.4h3.35v3.66h-3.35zM117.5 289.4h3.35v3.66h-3.35zM120.6 289.4h3.35v3.66h-3.35zM123.7 289.4h3.35v3.66h-3.35zM120.6 292.9h3.35v3.66h-3.35zM130.0 279.1h3.35v3.66h-3.35zM136.2 279.1h3.35v3.66h-3.35zM139.4 279.1h3.35v3.66h-3.35zM126.8 282.6h3.35v3.66h-3.35zM133.1 282.6h3.35v3.66h-3.35zM136.2 282.6h3.35v3.66h-3.35zM139.4 282.6h3.35v3.66h-3.35zM139.4 289.4h3.35v3.66h-3.35zM126.8 292.9h3.35v3.66h-3.35zM133.1 292.9h3.35v3.66h-3.35zM145.6 275.7h3.35v3.66h-3.35zM145.6 279.1h3.35v3.66h-3.35zM142.5 282.6h3.35v3.66h-3.35zM145.6 282.6h3.35v3.66h-3.35zM173.8 289.4h3.35v3.66h-3.35zM173.8 292.9h3.35v3.66h-3.35zM176.9 292.9h3.35v3.66h-3.35zM86.2 296.3h3.35v3.66h-3.35zM79.9 299.8h3.35v3.66h-3.35zM89.3 299.8h3.35v3.66h-3.35zM79.9 303.2h3.35v3.66h-3.35zM92.4 303.2h3.35v3.66h-3.35zM79.9 306.7h3.35v3.66h-3.35zM86.2 306.7h3.35v3.66h-3.35zM89.3 306.7h3.35v3.66h-3.35zM95.5 296.3h3.35v3.66h-3.35zM104.9 296.3h3.35v3.66h-3.35zM108.1 296.3h3.35v3.66h-3.35zM95.5 299.8h3.35v3.66h-3.35zM98.7 299.8h3.35v3.66h-3.35zM108.1 299.8h3.35v3.66h-3.35zM95.5 303.2h3.35v3.66h-3.35zM108.1 313.6h3.35v3.66h-3.35zM111.2 296.3h3.35v3.66h-3.35zM117.5 296.3h3.35v3.66h-3.35zM120.6 299.8h3.35v3.66h-3.35zM117.5 303.2h3.35v3.66h-3.35zM123.7 303.2h3.35v3.66h-3.35zM123.7 313.6h3.35v3.66h-3.35zM136.2 299.8h3.35v3.66h-3.35z"/><path fill="#bcec24" d="M108.1 206.8h3.35v3.66h-3.35zM114.3 210.2h3.35v3.66h-3.35zM117.5 210.2h3.35v3.66h-3.35zM130.0 210.2h3.35v3.66h-3.35zM136.2 213.7h3.35v3.66h-3.35zM151.9 230.9h3.35v3.66h-3.35zM64.2 248.1h3.35v3.66h-3.35zM67.4 251.6h3.35v3.66h-3.35zM111.2 234.3h3.35v3.66h-3.35zM148.8 234.3h3.35v3.66h-3.35zM142.5 237.8h3.35v3.66h-3.35zM164.4 241.2h3.35v3.66h-3.35zM70.5 261.9h3.35v3.66h-3.35zM142.5 265.3h3.35v3.66h-3.35zM173.8 265.3h3.35v3.66h-3.35zM176.9 268.8h3.35v3.66h-3.35zM70.5 275.7h3.35v3.66h-3.35zM98.7 282.6h3.35v3.66h-3.35zM117.5 275.7h3.35v3.66h-3.35zM145.6 289.4h3.35v3.66h-3.35zM145.6 292.9h3.35v3.66h-3.35zM58.0 306.7h3.35v3.66h-3.35zM61.1 306.7h3.35v3.66h-3.35zM64.2 313.6h3.35v3.66h-3.35zM83.0 310.1h3.35v3.66h-3.35zM111.2 313.6h3.35v3.66h-3.35zM136.2 306.7h3.35v3.66h-3.35zM145.6 296.3h3.35v3.66h-3.35zM142.5 299.8h3.35v3.66h-3.35zM139.4 348.0h3.35v3.66h-3.35z"/><path fill="#f4e424" d="M95.5 210.2h3.35v3.66h-3.35zM148.8 230.9h3.35v3.66h-3.35zM83.0 237.8h3.35v3.66h-3.35zM148.8 244.7h3.35v3.66h-3.35zM145.6 251.6h3.35v3.66h-3.35zM151.9 251.6h3.35v3.66h-3.35zM151.9 261.9h3.35v3.66h-3.35zM161.3 258.4h3.35v3.66h-3.35zM161.3 261.9h3.35v3.66h-3.35zM167.5 268.8h3.35v3.66h-3.35zM170.7 268.8h3.35v3.66h-3.35zM167.5 272.2h3.35v3.66h-3.35zM58.0 279.1h3.35v3.66h-3.35zM58.0 286.0h3.35v3.66h-3.35zM61.1 286.0h3.35v3.66h-3.35zM155.0 279.1h3.35v3.66h-3.35zM155.0 282.6h3.35v3.66h-3.35zM151.9 286.0h3.35v3.66h-3.35zM155.0 286.0h3.35v3.66h-3.35zM151.9 289.4h3.35v3.66h-3.35zM161.3 286.0h3.35v3.66h-3.35zM161.3 292.9h3.35v3.66h-3.35zM170.7 292.9h3.35v3.66h-3.35zM136.2 310.1h3.35v3.66h-3.35zM151.9 296.3h3.35v3.66h-3.35zM155.0 296.3h3.35v3.66h-3.35zM151.9 299.8h3.35v3.66h-3.35zM145.6 303.2h3.35v3.66h-3.35zM148.8 303.2h3.35v3.66h-3.35zM176.9 296.3h3.35v3.66h-3.35zM173.8 299.8h3.35v3.66h-3.35zM173.8 310.1h3.35v3.66h-3.35zM83.0 320.4h3.35v3.66h-3.35zM86.2 320.4h3.35v3.66h-3.35zM89.3 327.3h3.35v3.66h-3.35zM95.5 327.3h3.35v3.66h-3.35zM123.7 320.4h3.35v3.66h-3.35zM130.0 317.0h3.35v3.66h-3.35zM133.1 317.0h3.35v3.66h-3.35zM155.0 334.2h3.35v3.66h-3.35zM123.7 351.4h3.35v3.66h-3.35zM120.6 354.9h3.35v3.66h-3.35zM95.5 358.3h3.35v3.66h-3.35z"/><path fill="#e4ec24" d="M98.7 210.2h3.35v3.66h-3.35zM130.0 217.1h3.35v3.66h-3.35zM133.1 220.6h3.35v3.66h-3.35zM73.6 237.8h3.35v3.66h-3.35zM67.4 244.7h3.35v3.66h-3.35zM70.5 244.7h3.35v3.66h-3.35zM151.9 237.8h3.35v3.66h-3.35zM142.5 251.6h3.35v3.66h-3.35zM61.1 272.2h3.35v3.66h-3.35zM167.5 258.4h3.35v3.66h-3.35zM164.4 261.9h3.35v3.66h-3.35zM161.3 268.8h3.35v3.66h-3.35zM158.2 292.9h3.35v3.66h-3.35zM164.4 292.9h3.35v3.66h-3.35zM176.9 279.1h3.35v3.66h-3.35zM139.4 310.1h3.35v3.66h-3.35zM142.5 303.2h3.35v3.66h-3.35zM176.9 299.8h3.35v3.66h-3.35zM73.6 317.0h3.35v3.66h-3.35zM76.8 317.0h3.35v3.66h-3.35zM83.0 317.0h3.35v3.66h-3.35zM101.8 327.3h3.35v3.66h-3.35zM114.3 317.0h3.35v3.66h-3.35zM123.7 317.0h3.35v3.66h-3.35zM167.5 317.0h3.35v3.66h-3.35zM120.6 351.4h3.35v3.66h-3.35zM101.8 358.3h3.35v3.66h-3.35z"/><path fill="#44ec1c" d="M111.2 206.8h3.35v3.66h-3.35zM76.8 244.7h3.35v3.66h-3.35zM86.2 241.2h3.35v3.66h-3.35zM89.3 248.1h3.35v3.66h-3.35zM79.9 251.6h3.35v3.66h-3.35zM83.0 251.6h3.35v3.66h-3.35zM89.3 251.6h3.35v3.66h-3.35zM95.5 241.2h3.35v3.66h-3.35zM101.8 244.7h3.35v3.66h-3.35zM108.1 248.1h3.35v3.66h-3.35zM95.5 251.6h3.35v3.66h-3.35zM120.6 241.2h3.35v3.66h-3.35zM111.2 244.7h3.35v3.66h-3.35zM117.5 244.7h3.35v3.66h-3.35zM111.2 248.1h3.35v3.66h-3.35zM117.5 248.1h3.35v3.66h-3.35zM120.6 251.6h3.35v3.66h-3.35zM139.4 241.2h3.35v3.66h-3.35zM136.2 251.6h3.35v3.66h-3.35zM79.9 255.0h3.35v3.66h-3.35zM79.9 261.9h3.35v3.66h-3.35zM83.0 265.3h3.35v3.66h-3.35zM86.2 268.8h3.35v3.66h-3.35zM86.2 272.2h3.35v3.66h-3.35zM89.3 272.2h3.35v3.66h-3.35zM95.5 265.3h3.35v3.66h-3.35zM104.9 265.3h3.35v3.66h-3.35zM101.8 268.8h3.35v3.66h-3.35zM108.1 268.8h3.35v3.66h-3.35zM111.2 255.0h3.35v3.66h-3.35zM114.3 261.9h3.35v3.66h-3.35zM117.5 261.9h3.35v3.66h-3.35zM120.6 272.2h3.35v3.66h-3.35zM133.1 255.0h3.35v3.66h-3.35zM136.2 265.3h3.35v3.66h-3.35zM64.2 289.4h3.35v3.66h-3.35zM67.4 289.4h3.35v3.66h-3.35zM64.2 292.9h3.35v3.66h-3.35zM70.5 292.9h3.35v3.66h-3.35zM79.9 279.1h3.35v3.66h-3.35zM92.4 279.1h3.35v3.66h-3.35zM98.7 289.4h3.35v3.66h-3.35zM123.7 275.7h3.35v3.66h-3.35zM114.3 282.6h3.35v3.66h-3.35zM111.2 286.0h3.35v3.66h-3.35zM114.3 292.9h3.35v3.66h-3.35zM126.8 275.7h3.35v3.66h-3.35zM130.0 275.7h3.35v3.66h-3.35zM133.1 279.1h3.35v3.66h-3.35zM126.8 289.4h3.35v3.66h-3.35zM142.5 275.7h3.35v3.66h-3.35zM148.8 286.0h3.35v3.66h-3.35zM176.9 289.4h3.35v3.66h-3.35zM73.6 296.3h3.35v3.66h-3.35zM76.8 296.3h3.35v3.66h-3.35zM92.4 313.6h3.35v3.66h-3.35zM101.8 296.3h3.35v3.66h-3.35zM114.3 299.8h3.35v3.66h-3.35zM117.5 299.8h3.35v3.66h-3.35zM111.2 306.7h3.35v3.66h-3.35zM123.7 306.7h3.35v3.66h-3.35zM126.8 296.3h3.35v3.66h-3.35zM133.1 296.3h3.35v3.66h-3.35zM139.4 296.3h3.35v3.66h-3.35zM139.4 299.8h3.35v3.66h-3.35z"/><path fill="#8cec24" d="M126.8 210.2h3.35v3.66h-3.35zM142.5 220.6h3.35v3.66h-3.35zM145.6 224.0h3.35v3.66h-3.35zM148.8 224.0h3.35v3.66h-3.35zM151.9 227.4h3.35v3.66h-3.35zM104.9 234.3h3.35v3.66h-3.35zM104.9 237.8h3.35v3.66h-3.35zM120.6 234.3h3.35v3.66h-3.35zM111.2 237.8h3.35v3.66h-3.35zM114.3 237.8h3.35v3.66h-3.35zM133.1 234.3h3.35v3.66h-3.35zM126.8 237.8h3.35v3.66h-3.35zM130.0 237.8h3.35v3.66h-3.35zM158.2 234.3h3.35v3.66h-3.35zM158.2 237.8h3.35v3.66h-3.35zM164.4 237.8h3.35v3.66h-3.35zM158.2 241.2h3.35v3.66h-3.35zM170.7 251.6h3.35v3.66h-3.35zM67.4 255.0h3.35v3.66h-3.35zM70.5 255.0h3.35v3.66h-3.35zM64.2 265.3h3.35v3.66h-3.35zM70.5 265.3h3.35v3.66h-3.35zM145.6 255.0h3.35v3.66h-3.35zM142.5 272.2h3.35v3.66h-3.35zM173.8 255.0h3.35v3.66h-3.35zM173.8 261.9h3.35v3.66h-3.35zM176.9 272.2h3.35v3.66h-3.35zM101.8 275.7h3.35v3.66h-3.35zM173.8 282.6h3.35v3.66h-3.35zM61.1 310.1h3.35v3.66h-3.35zM67.4 303.2h3.35v3.66h-3.35zM70.5 306.7h3.35v3.66h-3.35zM79.9 313.6h3.35v3.66h-3.35zM95.5 313.6h3.35v3.66h-3.35zM117.5 313.6h3.35v3.66h-3.35zM136.2 303.2h3.35v3.66h-3.35zM98.7 320.4h3.35v3.66h-3.35z"/><path fill="#f43c14" d="M61.1 220.6h3.35v3.66h-3.35zM54.9 227.4h3.35v3.66h-3.35zM58.0 227.4h3.35v3.66h-3.35zM61.1 230.9h3.35v3.66h-3.35zM76.8 224.0h3.35v3.66h-3.35zM76.8 227.4h3.35v3.66h-3.35zM79.9 217.1h3.35v3.66h-3.35zM83.0 220.6h3.35v3.66h-3.35zM42.3 244.7h3.35v3.66h-3.35zM45.5 248.1h3.35v3.66h-3.35zM39.2 255.0h3.35v3.66h-3.35zM39.2 258.4h3.35v3.66h-3.35zM36.1 261.9h3.35v3.66h-3.35zM39.2 261.9h3.35v3.66h-3.35zM39.2 265.3h3.35v3.66h-3.35zM45.5 272.2h3.35v3.66h-3.35zM42.3 282.6h3.35v3.66h-3.35zM39.2 292.9h3.35v3.66h-3.35zM36.1 296.3h3.35v3.66h-3.35zM45.5 303.2h3.35v3.66h-3.35zM45.5 313.6h3.35v3.66h-3.35zM48.6 296.3h3.35v3.66h-3.35zM51.7 296.3h3.35v3.66h-3.35zM61.1 317.0h3.35v3.66h-3.35zM48.6 323.9h3.35v3.66h-3.35zM58.0 323.9h3.35v3.66h-3.35zM51.7 334.2h3.35v3.66h-3.35zM67.4 323.9h3.35v3.66h-3.35zM92.4 334.2h3.35v3.66h-3.35zM133.1 327.3h3.35v3.66h-3.35zM136.2 327.3h3.35v3.66h-3.35zM145.6 323.9h3.35v3.66h-3.35zM142.5 327.3h3.35v3.66h-3.35zM145.6 327.3h3.35v3.66h-3.35zM148.8 330.8h3.35v3.66h-3.35zM158.2 320.4h3.35v3.66h-3.35zM161.3 330.8h3.35v3.66h-3.35zM67.4 337.7h3.35v3.66h-3.35zM64.2 341.1h3.35v3.66h-3.35zM67.4 341.1h3.35v3.66h-3.35zM73.6 344.6h3.35v3.66h-3.35zM73.6 348.0h3.35v3.66h-3.35zM76.8 348.0h3.35v3.66h-3.35zM79.9 341.1h3.35v3.66h-3.35zM79.9 344.6h3.35v3.66h-3.35zM86.2 351.4h3.35v3.66h-3.35zM79.9 354.9h3.35v3.66h-3.35zM108.1 341.1h3.35v3.66h-3.35zM104.9 344.6h3.35v3.66h-3.35zM108.1 344.6h3.35v3.66h-3.35zM95.5 348.0h3.35v3.66h-3.35zM98.7 354.9h3.35v3.66h-3.35zM101.8 354.9h3.35v3.66h-3.35zM111.2 341.1h3.35v3.66h-3.35z"/><path fill="#f4941c" d="M54.9 224.0h3.35v3.66h-3.35zM73.6 213.7h3.35v3.66h-3.35zM98.7 220.6h3.35v3.66h-3.35zM98.7 224.0h3.35v3.66h-3.35zM101.8 230.9h3.35v3.66h-3.35zM114.3 220.6h3.35v3.66h-3.35zM123.7 224.0h3.35v3.66h-3.35zM139.4 227.4h3.35v3.66h-3.35zM133.1 230.9h3.35v3.66h-3.35zM36.1 248.1h3.35v3.66h-3.35zM70.5 237.8h3.35v3.66h-3.35zM33.0 258.4h3.35v3.66h-3.35zM48.6 268.8h3.35v3.66h-3.35zM170.7 265.3h3.35v3.66h-3.35zM33.0 279.1h3.35v3.66h-3.35zM51.7 286.0h3.35v3.66h-3.35zM48.6 289.4h3.35v3.66h-3.35zM48.6 292.9h3.35v3.66h-3.35zM54.9 292.9h3.35v3.66h-3.35zM61.1 299.8h3.35v3.66h-3.35zM51.7 313.6h3.35v3.66h-3.35zM155.0 306.7h3.35v3.66h-3.35zM155.0 310.1h3.35v3.66h-3.35zM161.3 296.3h3.35v3.66h-3.35zM164.4 296.3h3.35v3.66h-3.35zM64.2 317.0h3.35v3.66h-3.35zM73.6 323.9h3.35v3.66h-3.35zM86.2 327.3h3.35v3.66h-3.35zM120.6 327.3h3.35v3.66h-3.35zM123.7 327.3h3.35v3.66h-3.35zM111.2 330.8h3.35v3.66h-3.35zM117.5 330.8h3.35v3.66h-3.35zM61.1 344.6h3.35v3.66h-3.35zM95.5 337.7h3.35v3.66h-3.35zM95.5 341.1h3.35v3.66h-3.35zM123.7 337.7h3.35v3.66h-3.35zM114.3 344.6h3.35v3.66h-3.35zM111.2 348.0h3.35v3.66h-3.35zM123.7 348.0h3.35v3.66h-3.35zM117.5 351.4h3.35v3.66h-3.35zM130.0 341.1h3.35v3.66h-3.35zM136.2 341.1h3.35v3.66h-3.35zM133.1 344.6h3.35v3.66h-3.35zM142.5 337.7h3.35v3.66h-3.35zM108.1 358.3h3.35v3.66h-3.35z"/><path fill="#f41414" d="M58.0 224.0h3.35v3.66h-3.35zM48.6 230.9h3.35v3.66h-3.35zM58.0 230.9h3.35v3.66h-3.35zM64.2 220.6h3.35v3.66h-3.35zM73.6 220.6h3.35v3.66h-3.35zM64.2 224.0h3.35v3.66h-3.35zM70.5 224.0h3.35v3.66h-3.35zM70.5 230.9h3.35v3.66h-3.35zM89.3 213.7h3.35v3.66h-3.35zM92.4 213.7h3.35v3.66h-3.35zM86.2 217.1h3.35v3.66h-3.35zM86.2 220.6h3.35v3.66h-3.35zM89.3 220.6h3.35v3.66h-3.35zM92.4 220.6h3.35v3.66h-3.35zM83.0 224.0h3.35v3.66h-3.35zM89.3 224.0h3.35v3.66h-3.35zM108.1 213.7h3.35v3.66h-3.35zM104.9 217.1h3.35v3.66h-3.35zM108.1 217.1h3.35v3.66h-3.35zM104.9 220.6h3.35v3.66h-3.35zM108.1 224.0h3.35v3.66h-3.35zM123.7 213.7h3.35v3.66h-3.35zM123.7 217.1h3.35v3.66h-3.35zM45.5 237.8h3.35v3.66h-3.35zM45.5 241.2h3.35v3.66h-3.35zM39.2 248.1h3.35v3.66h-3.35zM42.3 248.1h3.35v3.66h-3.35zM45.5 251.6h3.35v3.66h-3.35zM51.7 234.3h3.35v3.66h-3.35zM61.1 234.3h3.35v3.66h-3.35zM48.6 237.8h3.35v3.66h-3.35zM58.0 237.8h3.35v3.66h-3.35zM48.6 241.2h3.35v3.66h-3.35zM51.7 241.2h3.35v3.66h-3.35zM54.9 241.2h3.35v3.66h-3.35zM48.6 244.7h3.35v3.66h-3.35zM48.6 251.6h3.35v3.66h-3.35zM42.3 255.0h3.35v3.66h-3.35zM45.5 255.0h3.35v3.66h-3.35zM36.1 265.3h3.35v3.66h-3.35zM42.3 268.8h3.35v3.66h-3.35zM39.2 272.2h3.35v3.66h-3.35zM48.6 258.4h3.35v3.66h-3.35zM48.6 261.9h3.35v3.66h-3.35zM51.7 265.3h3.35v3.66h-3.35zM54.9 265.3h3.35v3.66h-3.35zM39.2 275.7h3.35v3.66h-3.35zM42.3 275.7h3.35v3.66h-3.35zM45.5 275.7h3.35v3.66h-3.35zM36.1 279.1h3.35v3.66h-3.35zM45.5 282.6h3.35v3.66h-3.35zM45.5 286.0h3.35v3.66h-3.35zM42.3 289.4h3.35v3.66h-3.35zM51.7 275.7h3.35v3.66h-3.35zM48.6 279.1h3.35v3.66h-3.35zM51.7 279.1h3.35v3.66h-3.35zM54.9 279.1h3.35v3.66h-3.35zM42.3 296.3h3.35v3.66h-3.35zM36.1 299.8h3.35v3.66h-3.35zM42.3 306.7h3.35v3.66h-3.35zM42.3 310.1h3.35v3.66h-3.35zM39.2 313.6h3.35v3.66h-3.35zM42.3 313.6h3.35v3.66h-3.35zM54.9 299.8h3.35v3.66h-3.35zM54.9 306.7h3.35v3.66h-3.35zM164.4 303.2h3.35v3.66h-3.35zM161.3 306.7h3.35v3.66h-3.35zM164.4 306.7h3.35v3.66h-3.35zM45.5 320.4h3.35v3.66h-3.35zM48.6 320.4h3.35v3.66h-3.35zM51.7 320.4h3.35v3.66h-3.35zM51.7 323.9h3.35v3.66h-3.35zM61.1 323.9h3.35v3.66h-3.35zM51.7 327.3h3.35v3.66h-3.35zM54.9 327.3h3.35v3.66h-3.35zM61.1 327.3h3.35v3.66h-3.35zM48.6 330.8h3.35v3.66h-3.35zM61.1 330.8h3.35v3.66h-3.35zM61.1 334.2h3.35v3.66h-3.35zM70.5 330.8h3.35v3.66h-3.35zM76.8 330.8h3.35v3.66h-3.35zM67.4 334.2h3.35v3.66h-3.35zM89.3 330.8h3.35v3.66h-3.35zM126.8 323.9h3.35v3.66h-3.35zM133.1 323.9h3.35v3.66h-3.35zM136.2 323.9h3.35v3.66h-3.35zM139.4 323.9h3.35v3.66h-3.35zM126.8 327.3h3.35v3.66h-3.35zM133.1 330.8h3.35v3.66h-3.35zM148.8 317.0h3.35v3.66h-3.35zM155.0 317.0h3.35v3.66h-3.35zM148.8 320.4h3.35v3.66h-3.35zM155.0 320.4h3.35v3.66h-3.35zM151.9 323.9h3.35v3.66h-3.35zM148.8 327.3h3.35v3.66h-3.35zM148.8 334.2h3.35v3.66h-3.35zM164.4 320.4h3.35v3.66h-3.35zM61.1 341.1h3.35v3.66h-3.35zM64.2 337.7h3.35v3.66h-3.35zM76.8 337.7h3.35v3.66h-3.35zM73.6 341.1h3.35v3.66h-3.35zM76.8 344.6h3.35v3.66h-3.35zM70.5 348.0h3.35v3.66h-3.35zM73.6 351.4h3.35v3.66h-3.35zM83.0 337.7h3.35v3.66h-3.35zM89.3 337.7h3.35v3.66h-3.35zM83.0 341.1h3.35v3.66h-3.35zM92.4 341.1h3.35v3.66h-3.35zM86.2 344.6h3.35v3.66h-3.35zM89.3 344.6h3.35v3.66h-3.35zM89.3 348.0h3.35v3.66h-3.35zM83.0 354.9h3.35v3.66h-3.35zM101.8 344.6h3.35v3.66h-3.35zM101.8 348.0h3.35v3.66h-3.35zM104.9 348.0h3.35v3.66h-3.35zM108.1 348.0h3.35v3.66h-3.35zM95.5 354.9h3.35v3.66h-3.35zM104.9 354.9h3.35v3.66h-3.35zM114.3 337.7h3.35v3.66h-3.35zM117.5 337.7h3.35v3.66h-3.35zM114.3 341.1h3.35v3.66h-3.35z"/><path fill="#f41c14" d="M61.1 224.0h3.35v3.66h-3.35zM67.4 220.6h3.35v3.66h-3.35zM70.5 227.4h3.35v3.66h-3.35zM64.2 230.9h3.35v3.66h-3.35zM67.4 230.9h3.35v3.66h-3.35zM83.0 213.7h3.35v3.66h-3.35zM92.4 224.0h3.35v3.66h-3.35zM95.5 213.7h3.35v3.66h-3.35zM42.3 241.2h3.35v3.66h-3.35zM42.3 251.6h3.35v3.66h-3.35zM51.7 237.8h3.35v3.66h-3.35zM54.9 237.8h3.35v3.66h-3.35zM48.6 248.1h3.35v3.66h-3.35zM51.7 248.1h3.35v3.66h-3.35zM51.7 251.6h3.35v3.66h-3.35zM42.3 258.4h3.35v3.66h-3.35zM45.5 261.9h3.35v3.66h-3.35zM45.5 268.8h3.35v3.66h-3.35zM48.6 255.0h3.35v3.66h-3.35zM54.9 255.0h3.35v3.66h-3.35zM54.9 258.4h3.35v3.66h-3.35zM54.9 261.9h3.35v3.66h-3.35zM36.1 275.7h3.35v3.66h-3.35zM45.5 279.1h3.35v3.66h-3.35zM36.1 289.4h3.35v3.66h-3.35zM39.2 296.3h3.35v3.66h-3.35zM48.6 299.8h3.35v3.66h-3.35zM51.7 299.8h3.35v3.66h-3.35zM48.6 306.7h3.35v3.66h-3.35zM170.7 299.8h3.35v3.66h-3.35zM158.2 313.6h3.35v3.66h-3.35zM48.6 317.0h3.35v3.66h-3.35zM54.9 317.0h3.35v3.66h-3.35zM58.0 330.8h3.35v3.66h-3.35zM64.2 323.9h3.35v3.66h-3.35zM64.2 334.2h3.35v3.66h-3.35zM83.0 330.8h3.35v3.66h-3.35zM83.0 334.2h3.35v3.66h-3.35zM89.3 334.2h3.35v3.66h-3.35zM120.6 334.2h3.35v3.66h-3.35zM130.0 323.9h3.35v3.66h-3.35zM126.8 330.8h3.35v3.66h-3.35zM145.6 317.0h3.35v3.66h-3.35zM151.9 320.4h3.35v3.66h-3.35zM155.0 323.9h3.35v3.66h-3.35zM142.5 330.8h3.35v3.66h-3.35zM145.6 334.2h3.35v3.66h-3.35zM161.3 317.0h3.35v3.66h-3.35zM161.3 320.4h3.35v3.66h-3.35zM158.2 330.8h3.35v3.66h-3.35zM158.2 334.2h3.35v3.66h-3.35zM73.6 337.7h3.35v3.66h-3.35zM70.5 341.1h3.35v3.66h-3.35zM64.2 344.6h3.35v3.66h-3.35zM86.2 341.1h3.35v3.66h-3.35zM83.0 344.6h3.35v3.66h-3.35zM92.4 348.0h3.35v3.66h-3.35zM104.9 337.7h3.35v3.66h-3.35zM104.9 341.1h3.35v3.66h-3.35zM98.7 351.4h3.35v3.66h-3.35zM108.1 351.4h3.35v3.66h-3.35zM111.2 337.7h3.35v3.66h-3.35zM117.5 341.1h3.35v3.66h-3.35z"/><path fill="#f43414" d="M51.7 227.4h3.35v3.66h-3.35zM61.1 227.4h3.35v3.66h-3.35zM54.9 230.9h3.35v3.66h-3.35zM70.5 220.6h3.35v3.66h-3.35zM76.8 220.6h3.35v3.66h-3.35zM67.4 224.0h3.35v3.66h-3.35zM64.2 227.4h3.35v3.66h-3.35zM67.4 227.4h3.35v3.66h-3.35zM73.6 227.4h3.35v3.66h-3.35zM79.9 213.7h3.35v3.66h-3.35zM98.7 213.7h3.35v3.66h-3.35zM104.9 213.7h3.35v3.66h-3.35zM101.8 217.1h3.35v3.66h-3.35zM108.1 220.6h3.35v3.66h-3.35zM39.2 244.7h3.35v3.66h-3.35zM48.6 234.3h3.35v3.66h-3.35zM54.9 234.3h3.35v3.66h-3.35zM61.1 237.8h3.35v3.66h-3.35zM54.9 251.6h3.35v3.66h-3.35zM42.3 265.3h3.35v3.66h-3.35zM45.5 265.3h3.35v3.66h-3.35zM42.3 272.2h3.35v3.66h-3.35zM36.1 282.6h3.35v3.66h-3.35zM39.2 286.0h3.35v3.66h-3.35zM39.2 289.4h3.35v3.66h-3.35zM39.2 299.8h3.35v3.66h-3.35zM45.5 299.8h3.35v3.66h-3.35zM39.2 303.2h3.35v3.66h-3.35zM45.5 306.7h3.35v3.66h-3.35zM51.7 303.2h3.35v3.66h-3.35zM158.2 310.1h3.35v3.66h-3.35zM164.4 313.6h3.35v3.66h-3.35zM42.3 317.0h3.35v3.66h-3.35zM42.3 320.4h3.35v3.66h-3.35zM45.5 323.9h3.35v3.66h-3.35zM54.9 320.4h3.35v3.66h-3.35zM54.9 323.9h3.35v3.66h-3.35zM48.6 327.3h3.35v3.66h-3.35zM58.0 327.3h3.35v3.66h-3.35zM48.6 334.2h3.35v3.66h-3.35zM67.4 327.3h3.35v3.66h-3.35zM67.4 330.8h3.35v3.66h-3.35zM86.2 330.8h3.35v3.66h-3.35zM92.4 330.8h3.35v3.66h-3.35zM139.4 327.3h3.35v3.66h-3.35zM139.4 330.8h3.35v3.66h-3.35zM126.8 334.2h3.35v3.66h-3.35zM142.5 317.0h3.35v3.66h-3.35zM142.5 323.9h3.35v3.66h-3.35zM145.6 330.8h3.35v3.66h-3.35zM158.2 317.0h3.35v3.66h-3.35zM58.0 341.1h3.35v3.66h-3.35zM70.5 337.7h3.35v3.66h-3.35zM76.8 341.1h3.35v3.66h-3.35zM70.5 344.6h3.35v3.66h-3.35zM76.8 351.4h3.35v3.66h-3.35zM83.0 351.4h3.35v3.66h-3.35zM86.2 354.9h3.35v3.66h-3.35z"/><path fill="#f42c14" d="M51.7 230.9h3.35v3.66h-3.35zM73.6 224.0h3.35v3.66h-3.35zM86.2 213.7h3.35v3.66h-3.35zM79.9 220.6h3.35v3.66h-3.35zM79.9 224.0h3.35v3.66h-3.35zM86.2 224.0h3.35v3.66h-3.35zM101.8 213.7h3.35v3.66h-3.35zM98.7 217.1h3.35v3.66h-3.35zM104.9 224.0h3.35v3.66h-3.35zM120.6 217.1h3.35v3.66h-3.35zM51.7 244.7h3.35v3.66h-3.35zM45.5 258.4h3.35v3.66h-3.35zM36.1 272.2h3.35v3.66h-3.35zM51.7 261.9h3.35v3.66h-3.35zM48.6 265.3h3.35v3.66h-3.35zM42.3 279.1h3.35v3.66h-3.35zM39.2 282.6h3.35v3.66h-3.35zM42.3 292.9h3.35v3.66h-3.35zM45.5 292.9h3.35v3.66h-3.35zM45.5 296.3h3.35v3.66h-3.35zM54.9 296.3h3.35v3.66h-3.35zM48.6 303.2h3.35v3.66h-3.35zM54.9 303.2h3.35v3.66h-3.35zM51.7 306.7h3.35v3.66h-3.35zM170.7 296.3h3.35v3.66h-3.35zM158.2 303.2h3.35v3.66h-3.35zM158.2 306.7h3.35v3.66h-3.35zM164.4 310.1h3.35v3.66h-3.35zM161.3 313.6h3.35v3.66h-3.35zM45.5 327.3h3.35v3.66h-3.35zM58.0 317.0h3.35v3.66h-3.35zM61.1 320.4h3.35v3.66h-3.35zM54.9 334.2h3.35v3.66h-3.35zM64.2 327.3h3.35v3.66h-3.35zM70.5 327.3h3.35v3.66h-3.35zM64.2 330.8h3.35v3.66h-3.35zM70.5 334.2h3.35v3.66h-3.35zM130.0 327.3h3.35v3.66h-3.35zM136.2 330.8h3.35v3.66h-3.35zM130.0 334.2h3.35v3.66h-3.35zM142.5 320.4h3.35v3.66h-3.35zM145.6 320.4h3.35v3.66h-3.35zM148.8 323.9h3.35v3.66h-3.35zM155.0 327.3h3.35v3.66h-3.35zM142.5 334.2h3.35v3.66h-3.35zM61.1 337.7h3.35v3.66h-3.35zM67.4 344.6h3.35v3.66h-3.35zM67.4 348.0h3.35v3.66h-3.35zM79.9 337.7h3.35v3.66h-3.35zM86.2 337.7h3.35v3.66h-3.35zM89.3 341.1h3.35v3.66h-3.35zM92.4 344.6h3.35v3.66h-3.35zM79.9 348.0h3.35v3.66h-3.35zM83.0 348.0h3.35v3.66h-3.35zM86.2 348.0h3.35v3.66h-3.35zM79.9 351.4h3.35v3.66h-3.35zM108.1 337.7h3.35v3.66h-3.35zM95.5 344.6h3.35v3.66h-3.35zM98.7 344.6h3.35v3.66h-3.35zM98.7 348.0h3.35v3.66h-3.35z"/><path fill="#f46c1c" d="M76.8 213.7h3.35v3.66h-3.35zM101.8 220.6h3.35v3.66h-3.35zM98.7 227.4h3.35v3.66h-3.35zM98.7 230.9h3.35v3.66h-3.35zM111.2 213.7h3.35v3.66h-3.35zM120.6 227.4h3.35v3.66h-3.35zM117.5 230.9h3.35v3.66h-3.35zM120.6 230.9h3.35v3.66h-3.35zM126.8 230.9h3.35v3.66h-3.35zM139.4 230.9h3.35v3.66h-3.35zM42.3 237.8h3.35v3.66h-3.35zM61.1 241.2h3.35v3.66h-3.35zM33.0 268.8h3.35v3.66h-3.35zM58.0 258.4h3.35v3.66h-3.35zM58.0 265.3h3.35v3.66h-3.35zM167.5 265.3h3.35v3.66h-3.35zM167.5 275.7h3.35v3.66h-3.35zM170.7 279.1h3.35v3.66h-3.35zM33.0 306.7h3.35v3.66h-3.35zM36.1 310.1h3.35v3.66h-3.35zM170.7 310.1h3.35v3.66h-3.35zM170.7 313.6h3.35v3.66h-3.35zM98.7 330.8h3.35v3.66h-3.35zM120.6 323.9h3.35v3.66h-3.35zM136.2 320.4h3.35v3.66h-3.35zM98.7 341.1h3.35v3.66h-3.35zM123.7 344.6h3.35v3.66h-3.35zM117.5 348.0h3.35v3.66h-3.35zM133.1 341.1h3.35v3.66h-3.35zM130.0 344.6h3.35v3.66h-3.35zM130.0 348.0h3.35v3.66h-3.35zM133.1 348.0h3.35v3.66h-3.35zM145.6 337.7h3.35v3.66h-3.35zM142.5 341.1h3.35v3.66h-3.35z"/><path fill="#f48c1c" d="M67.4 217.1h3.35v3.66h-3.35zM73.6 217.1h3.35v3.66h-3.35zM111.2 217.1h3.35v3.66h-3.35zM117.5 227.4h3.35v3.66h-3.35zM123.7 230.9h3.35v3.66h-3.35zM136.2 227.4h3.35v3.66h-3.35zM45.5 234.3h3.35v3.66h-3.35zM39.2 237.8h3.35v3.66h-3.35zM36.1 251.6h3.35v3.66h-3.35zM61.1 244.7h3.35v3.66h-3.35zM64.2 234.3h3.35v3.66h-3.35zM36.1 255.0h3.35v3.66h-3.35zM48.6 272.2h3.35v3.66h-3.35zM167.5 261.9h3.35v3.66h-3.35zM29.8 282.6h3.35v3.66h-3.35zM33.0 275.7h3.35v3.66h-3.35zM51.7 289.4h3.35v3.66h-3.35zM51.7 292.9h3.35v3.66h-3.35zM167.5 286.0h3.35v3.66h-3.35zM170.7 286.0h3.35v3.66h-3.35zM33.0 303.2h3.35v3.66h-3.35zM36.1 313.6h3.35v3.66h-3.35zM158.2 296.3h3.35v3.66h-3.35zM158.2 299.8h3.35v3.66h-3.35zM73.6 327.3h3.35v3.66h-3.35zM76.8 327.3h3.35v3.66h-3.35zM95.5 330.8h3.35v3.66h-3.35zM108.1 334.2h3.35v3.66h-3.35zM114.3 334.2h3.35v3.66h-3.35zM139.4 317.0h3.35v3.66h-3.35zM89.3 354.9h3.35v3.66h-3.35zM92.4 354.9h3.35v3.66h-3.35zM111.2 351.4h3.35v3.66h-3.35zM126.8 344.6h3.35v3.66h-3.35zM145.6 341.1h3.35v3.66h-3.35zM148.8 341.1h3.35v3.66h-3.35zM104.9 358.3h3.35v3.66h-3.35z"/><path fill="#f49c1c" d="M70.5 217.1h3.35v3.66h-3.35zM83.0 227.4h3.35v3.66h-3.35zM83.0 230.9h3.35v3.66h-3.35zM86.2 230.9h3.35v3.66h-3.35zM95.5 227.4h3.35v3.66h-3.35zM123.7 227.4h3.35v3.66h-3.35zM39.2 241.2h3.35v3.66h-3.35zM58.0 251.6h3.35v3.66h-3.35zM67.4 237.8h3.35v3.66h-3.35zM54.9 268.8h3.35v3.66h-3.35zM33.0 286.0h3.35v3.66h-3.35zM33.0 289.4h3.35v3.66h-3.35zM54.9 289.4h3.35v3.66h-3.35zM58.0 296.3h3.35v3.66h-3.35zM61.1 296.3h3.35v3.66h-3.35zM58.0 299.8h3.35v3.66h-3.35zM151.9 310.1h3.35v3.66h-3.35zM145.6 313.6h3.35v3.66h-3.35zM167.5 310.1h3.35v3.66h-3.35zM167.5 313.6h3.35v3.66h-3.35zM64.2 320.4h3.35v3.66h-3.35zM67.4 320.4h3.35v3.66h-3.35zM83.0 323.9h3.35v3.66h-3.35zM95.5 334.2h3.35v3.66h-3.35zM101.8 334.2h3.35v3.66h-3.35zM123.7 323.9h3.35v3.66h-3.35zM136.2 317.0h3.35v3.66h-3.35zM101.8 341.1h3.35v3.66h-3.35zM120.6 337.7h3.35v3.66h-3.35zM120.6 344.6h3.35v3.66h-3.35zM126.8 337.7h3.35v3.66h-3.35zM133.1 337.7h3.35v3.66h-3.35zM139.4 337.7h3.35v3.66h-3.35zM139.4 341.1h3.35v3.66h-3.35zM148.8 337.7h3.35v3.66h-3.35z"/><path fill="#f4841c" d="M76.8 217.1h3.35v3.66h-3.35zM79.9 230.9h3.35v3.66h-3.35zM89.3 230.9h3.35v3.66h-3.35zM95.5 224.0h3.35v3.66h-3.35zM95.5 230.9h3.35v3.66h-3.35zM117.5 213.7h3.35v3.66h-3.35zM120.6 220.6h3.35v3.66h-3.35zM136.2 224.0h3.35v3.66h-3.35zM130.0 230.9h3.35v3.66h-3.35zM36.1 241.2h3.35v3.66h-3.35zM33.0 251.6h3.35v3.66h-3.35zM61.1 251.6h3.35v3.66h-3.35zM33.0 261.9h3.35v3.66h-3.35zM61.1 258.4h3.35v3.66h-3.35zM61.1 261.9h3.35v3.66h-3.35zM51.7 282.6h3.35v3.66h-3.35zM167.5 279.1h3.35v3.66h-3.35zM155.0 303.2h3.35v3.66h-3.35zM145.6 310.1h3.35v3.66h-3.35zM142.5 313.6h3.35v3.66h-3.35zM148.8 313.6h3.35v3.66h-3.35zM164.4 299.8h3.35v3.66h-3.35zM167.5 303.2h3.35v3.66h-3.35zM170.7 306.7h3.35v3.66h-3.35zM98.7 334.2h3.35v3.66h-3.35zM161.3 323.9h3.35v3.66h-3.35zM164.4 323.9h3.35v3.66h-3.35zM158.2 327.3h3.35v3.66h-3.35zM164.4 327.3h3.35v3.66h-3.35zM92.4 351.4h3.35v3.66h-3.35zM98.7 337.7h3.35v3.66h-3.35zM123.7 341.1h3.35v3.66h-3.35zM111.2 354.9h3.35v3.66h-3.35zM114.3 354.9h3.35v3.66h-3.35zM117.5 354.9h3.35v3.66h-3.35zM130.0 337.7h3.35v3.66h-3.35zM126.8 341.1h3.35v3.66h-3.35zM126.8 348.0h3.35v3.66h-3.35z"/><path fill="#f44414" d="M73.6 230.9h3.35v3.66h-3.35zM83.0 217.1h3.35v3.66h-3.35zM89.3 217.1h3.35v3.66h-3.35zM120.6 213.7h3.35v3.66h-3.35zM54.9 244.7h3.35v3.66h-3.35zM39.2 268.8h3.35v3.66h-3.35zM36.1 292.9h3.35v3.66h-3.35zM48.6 275.7h3.35v3.66h-3.35zM42.3 299.8h3.35v3.66h-3.35zM70.5 323.9h3.35v3.66h-3.35zM86.2 334.2h3.35v3.66h-3.35zM164.4 317.0h3.35v3.66h-3.35z"/><path fill="#f42414" d="M76.8 230.9h3.35v3.66h-3.35zM92.4 217.1h3.35v3.66h-3.35zM95.5 217.1h3.35v3.66h-3.35zM45.5 244.7h3.35v3.66h-3.35zM39.2 251.6h3.35v3.66h-3.35zM58.0 234.3h3.35v3.66h-3.35zM54.9 248.1h3.35v3.66h-3.35zM42.3 261.9h3.35v3.66h-3.35zM36.1 268.8h3.35v3.66h-3.35zM51.7 255.0h3.35v3.66h-3.35zM51.7 258.4h3.35v3.66h-3.35zM39.2 279.1h3.35v3.66h-3.35zM36.1 286.0h3.35v3.66h-3.35zM42.3 286.0h3.35v3.66h-3.35zM45.5 289.4h3.35v3.66h-3.35zM54.9 275.7h3.35v3.66h-3.35zM36.1 303.2h3.35v3.66h-3.35zM42.3 303.2h3.35v3.66h-3.35zM39.2 306.7h3.35v3.66h-3.35zM39.2 310.1h3.35v3.66h-3.35zM45.5 310.1h3.35v3.66h-3.35zM167.5 296.3h3.35v3.66h-3.35zM167.5 299.8h3.35v3.66h-3.35zM161.3 303.2h3.35v3.66h-3.35zM161.3 310.1h3.35v3.66h-3.35zM45.5 317.0h3.35v3.66h-3.35zM51.7 317.0h3.35v3.66h-3.35zM58.0 320.4h3.35v3.66h-3.35zM51.7 330.8h3.35v3.66h-3.35zM54.9 330.8h3.35v3.66h-3.35zM58.0 334.2h3.35v3.66h-3.35zM73.6 330.8h3.35v3.66h-3.35zM73.6 334.2h3.35v3.66h-3.35zM76.8 334.2h3.35v3.66h-3.35zM79.9 330.8h3.35v3.66h-3.35zM79.9 334.2h3.35v3.66h-3.35zM120.6 330.8h3.35v3.66h-3.35zM123.7 330.8h3.35v3.66h-3.35zM123.7 334.2h3.35v3.66h-3.35zM130.0 330.8h3.35v3.66h-3.35zM151.9 317.0h3.35v3.66h-3.35zM151.9 327.3h3.35v3.66h-3.35zM58.0 337.7h3.35v3.66h-3.35zM92.4 337.7h3.35v3.66h-3.35zM95.5 351.4h3.35v3.66h-3.35zM101.8 351.4h3.35v3.66h-3.35zM104.9 351.4h3.35v3.66h-3.35zM108.1 354.9h3.35v3.66h-3.35z"/><path fill="#f47c1c" d="M79.9 227.4h3.35v3.66h-3.35zM95.5 220.6h3.35v3.66h-3.35zM117.5 217.1h3.35v3.66h-3.35zM114.3 227.4h3.35v3.66h-3.35zM111.2 230.9h3.35v3.66h-3.35zM114.3 230.9h3.35v3.66h-3.35zM139.4 220.6h3.35v3.66h-3.35zM139.4 224.0h3.35v3.66h-3.35zM130.0 227.4h3.35v3.66h-3.35zM33.0 244.7h3.35v3.66h-3.35zM36.1 244.7h3.35v3.66h-3.35zM67.4 234.3h3.35v3.66h-3.35zM64.2 237.8h3.35v3.66h-3.35zM58.0 261.9h3.35v3.66h-3.35zM61.1 265.3h3.35v3.66h-3.35zM51.7 268.8h3.35v3.66h-3.35zM170.7 261.9h3.35v3.66h-3.35zM29.8 286.0h3.35v3.66h-3.35zM48.6 282.6h3.35v3.66h-3.35zM170.7 275.7h3.35v3.66h-3.35zM33.0 296.3h3.35v3.66h-3.35zM36.1 306.7h3.35v3.66h-3.35zM51.7 310.1h3.35v3.66h-3.35zM142.5 310.1h3.35v3.66h-3.35zM155.0 313.6h3.35v3.66h-3.35zM70.5 320.4h3.35v3.66h-3.35zM114.3 330.8h3.35v3.66h-3.35zM111.2 334.2h3.35v3.66h-3.35zM158.2 323.9h3.35v3.66h-3.35zM120.6 341.1h3.35v3.66h-3.35zM117.5 344.6h3.35v3.66h-3.35z"/><path fill="#f4641c" d="M86.2 227.4h3.35v3.66h-3.35zM111.2 220.6h3.35v3.66h-3.35zM123.7 220.6h3.35v3.66h-3.35zM111.2 224.0h3.35v3.66h-3.35zM111.2 227.4h3.35v3.66h-3.35zM136.2 220.6h3.35v3.66h-3.35zM133.1 227.4h3.35v3.66h-3.35zM136.2 230.9h3.35v3.66h-3.35zM42.3 234.3h3.35v3.66h-3.35zM58.0 248.1h3.35v3.66h-3.35zM70.5 234.3h3.35v3.66h-3.35zM33.0 265.3h3.35v3.66h-3.35zM51.7 272.2h3.35v3.66h-3.35zM48.6 286.0h3.35v3.66h-3.35zM167.5 282.6h3.35v3.66h-3.35zM33.0 310.1h3.35v3.66h-3.35zM48.6 310.1h3.35v3.66h-3.35zM48.6 313.6h3.35v3.66h-3.35zM54.9 313.6h3.35v3.66h-3.35zM151.9 313.6h3.35v3.66h-3.35zM170.7 303.2h3.35v3.66h-3.35zM70.5 317.0h3.35v3.66h-3.35zM79.9 323.9h3.35v3.66h-3.35zM86.2 323.9h3.35v3.66h-3.35zM79.9 327.3h3.35v3.66h-3.35zM83.0 327.3h3.35v3.66h-3.35zM101.8 330.8h3.35v3.66h-3.35zM104.9 334.2h3.35v3.66h-3.35zM139.4 320.4h3.35v3.66h-3.35zM161.3 327.3h3.35v3.66h-3.35zM89.3 351.4h3.35v3.66h-3.35zM114.3 348.0h3.35v3.66h-3.35zM120.6 348.0h3.35v3.66h-3.35zM114.3 351.4h3.35v3.66h-3.35zM136.2 337.7h3.35v3.66h-3.35z"/><path fill="#f4741c" d="M89.3 227.4h3.35v3.66h-3.35zM92.4 227.4h3.35v3.66h-3.35zM92.4 230.9h3.35v3.66h-3.35zM101.8 224.0h3.35v3.66h-3.35zM101.8 227.4h3.35v3.66h-3.35zM114.3 213.7h3.35v3.66h-3.35zM114.3 217.1h3.35v3.66h-3.35zM117.5 220.6h3.35v3.66h-3.35zM114.3 224.0h3.35v3.66h-3.35zM117.5 224.0h3.35v3.66h-3.35zM120.6 224.0h3.35v3.66h-3.35zM126.8 227.4h3.35v3.66h-3.35zM58.0 241.2h3.35v3.66h-3.35zM58.0 244.7h3.35v3.66h-3.35zM61.1 248.1h3.35v3.66h-3.35zM36.1 258.4h3.35v3.66h-3.35zM33.0 272.2h3.35v3.66h-3.35zM58.0 255.0h3.35v3.66h-3.35zM61.1 255.0h3.35v3.66h-3.35zM54.9 272.2h3.35v3.66h-3.35zM33.0 282.6h3.35v3.66h-3.35zM33.0 292.9h3.35v3.66h-3.35zM54.9 282.6h3.35v3.66h-3.35zM54.9 286.0h3.35v3.66h-3.35zM170.7 282.6h3.35v3.66h-3.35zM33.0 299.8h3.35v3.66h-3.35zM54.9 310.1h3.35v3.66h-3.35zM151.9 303.2h3.35v3.66h-3.35zM151.9 306.7h3.35v3.66h-3.35zM148.8 310.1h3.35v3.66h-3.35zM161.3 299.8h3.35v3.66h-3.35zM167.5 306.7h3.35v3.66h-3.35zM67.4 317.0h3.35v3.66h-3.35zM76.8 323.9h3.35v3.66h-3.35zM104.9 330.8h3.35v3.66h-3.35zM108.1 330.8h3.35v3.66h-3.35zM101.8 337.7h3.35v3.66h-3.35zM111.2 344.6h3.35v3.66h-3.35z"/><path fill="#acec24" d="M136.2 217.1h3.35v3.66h-3.35zM145.6 220.6h3.35v3.66h-3.35zM155.0 227.4h3.35v3.66h-3.35zM64.2 251.6h3.35v3.66h-3.35zM98.7 234.3h3.35v3.66h-3.35zM98.7 237.8h3.35v3.66h-3.35zM123.7 234.3h3.35v3.66h-3.35zM117.5 237.8h3.35v3.66h-3.35zM142.5 234.3h3.35v3.66h-3.35zM161.3 234.3h3.35v3.66h-3.35zM167.5 248.1h3.35v3.66h-3.35zM101.8 255.0h3.35v3.66h-3.35zM142.5 255.0h3.35v3.66h-3.35zM173.8 258.4h3.35v3.66h-3.35zM176.9 265.3h3.35v3.66h-3.35zM173.8 268.8h3.35v3.66h-3.35zM64.2 275.7h3.35v3.66h-3.35zM64.2 279.1h3.35v3.66h-3.35zM67.4 279.1h3.35v3.66h-3.35zM95.5 275.7h3.35v3.66h-3.35zM95.5 282.6h3.35v3.66h-3.35zM101.8 282.6h3.35v3.66h-3.35zM101.8 286.0h3.35v3.66h-3.35zM114.3 275.7h3.35v3.66h-3.35zM111.2 279.1h3.35v3.66h-3.35zM173.8 286.0h3.35v3.66h-3.35zM61.1 313.6h3.35v3.66h-3.35zM76.8 306.7h3.35v3.66h-3.35zM79.9 310.1h3.35v3.66h-3.35zM101.8 310.1h3.35v3.66h-3.35zM139.4 303.2h3.35v3.66h-3.35zM101.8 317.0h3.35v3.66h-3.35zM108.1 317.0h3.35v3.66h-3.35z"/><path fill="#2cec1c" d="M73.6 244.7h3.35v3.66h-3.35zM83.0 248.1h3.35v3.66h-3.35zM86.2 251.6h3.35v3.66h-3.35zM101.8 241.2h3.35v3.66h-3.35zM104.9 241.2h3.35v3.66h-3.35zM104.9 244.7h3.35v3.66h-3.35zM98.7 248.1h3.35v3.66h-3.35zM101.8 248.1h3.35v3.66h-3.35zM111.2 241.2h3.35v3.66h-3.35zM114.3 248.1h3.35v3.66h-3.35zM120.6 248.1h3.35v3.66h-3.35zM139.4 244.7h3.35v3.66h-3.35zM133.1 248.1h3.35v3.66h-3.35zM73.6 258.4h3.35v3.66h-3.35zM70.5 268.8h3.35v3.66h-3.35zM98.7 261.9h3.35v3.66h-3.35zM101.8 261.9h3.35v3.66h-3.35zM108.1 265.3h3.35v3.66h-3.35zM123.7 255.0h3.35v3.66h-3.35zM114.3 258.4h3.35v3.66h-3.35zM120.6 261.9h3.35v3.66h-3.35zM114.3 268.8h3.35v3.66h-3.35zM117.5 272.2h3.35v3.66h-3.35zM126.8 255.0h3.35v3.66h-3.35zM133.1 258.4h3.35v3.66h-3.35zM136.2 261.9h3.35v3.66h-3.35zM126.8 265.3h3.35v3.66h-3.35zM126.8 272.2h3.35v3.66h-3.35zM130.0 272.2h3.35v3.66h-3.35zM73.6 282.6h3.35v3.66h-3.35zM70.5 289.4h3.35v3.66h-3.35zM79.9 282.6h3.35v3.66h-3.35zM92.4 282.6h3.35v3.66h-3.35zM79.9 289.4h3.35v3.66h-3.35zM83.0 289.4h3.35v3.66h-3.35zM89.3 292.9h3.35v3.66h-3.35zM104.9 275.7h3.35v3.66h-3.35zM108.1 275.7h3.35v3.66h-3.35zM108.1 282.6h3.35v3.66h-3.35zM104.9 286.0h3.35v3.66h-3.35zM95.5 289.4h3.35v3.66h-3.35zM95.5 292.9h3.35v3.66h-3.35zM117.5 292.9h3.35v3.66h-3.35zM136.2 275.7h3.35v3.66h-3.35zM126.8 279.1h3.35v3.66h-3.35zM126.8 286.0h3.35v3.66h-3.35zM139.4 286.0h3.35v3.66h-3.35zM130.0 289.4h3.35v3.66h-3.35zM136.2 289.4h3.35v3.66h-3.35zM136.2 292.9h3.35v3.66h-3.35zM148.8 282.6h3.35v3.66h-3.35zM145.6 286.0h3.35v3.66h-3.35zM89.3 296.3h3.35v3.66h-3.35zM86.2 299.8h3.35v3.66h-3.35zM89.3 303.2h3.35v3.66h-3.35zM83.0 306.7h3.35v3.66h-3.35zM89.3 310.1h3.35v3.66h-3.35zM104.9 303.2h3.35v3.66h-3.35zM95.5 306.7h3.35v3.66h-3.35zM111.2 299.8h3.35v3.66h-3.35zM120.6 310.1h3.35v3.66h-3.35zM133.1 299.8h3.35v3.66h-3.35zM133.1 303.2h3.35v3.66h-3.35zM126.8 306.7h3.35v3.66h-3.35z"/><path fill="#4cec1c" d="M73.6 248.1h3.35v3.66h-3.35zM92.4 241.2h3.35v3.66h-3.35zM95.5 244.7h3.35v3.66h-3.35zM98.7 244.7h3.35v3.66h-3.35zM108.1 244.7h3.35v3.66h-3.35zM101.8 251.6h3.35v3.66h-3.35zM114.3 241.2h3.35v3.66h-3.35zM123.7 241.2h3.35v3.66h-3.35zM114.3 244.7h3.35v3.66h-3.35zM120.6 244.7h3.35v3.66h-3.35zM126.8 241.2h3.35v3.66h-3.35zM136.2 248.1h3.35v3.66h-3.35zM73.6 255.0h3.35v3.66h-3.35zM76.8 261.9h3.35v3.66h-3.35zM64.2 268.8h3.35v3.66h-3.35zM73.6 268.8h3.35v3.66h-3.35zM64.2 272.2h3.35v3.66h-3.35zM83.0 258.4h3.35v3.66h-3.35zM92.4 261.9h3.35v3.66h-3.35zM86.2 265.3h3.35v3.66h-3.35zM104.9 255.0h3.35v3.66h-3.35zM104.9 258.4h3.35v3.66h-3.35zM120.6 255.0h3.35v3.66h-3.35zM123.7 268.8h3.35v3.66h-3.35zM130.0 255.0h3.35v3.66h-3.35zM126.8 268.8h3.35v3.66h-3.35zM133.1 268.8h3.35v3.66h-3.35zM73.6 279.1h3.35v3.66h-3.35zM73.6 286.0h3.35v3.66h-3.35zM67.4 292.9h3.35v3.66h-3.35zM76.8 292.9h3.35v3.66h-3.35zM86.2 275.7h3.35v3.66h-3.35zM86.2 279.1h3.35v3.66h-3.35zM86.2 282.6h3.35v3.66h-3.35zM89.3 286.0h3.35v3.66h-3.35zM86.2 292.9h3.35v3.66h-3.35zM108.1 286.0h3.35v3.66h-3.35zM101.8 292.9h3.35v3.66h-3.35zM120.6 286.0h3.35v3.66h-3.35zM133.1 275.7h3.35v3.66h-3.35zM139.4 275.7h3.35v3.66h-3.35zM133.1 286.0h3.35v3.66h-3.35zM148.8 275.7h3.35v3.66h-3.35zM142.5 286.0h3.35v3.66h-3.35zM92.4 296.3h3.35v3.66h-3.35zM83.0 299.8h3.35v3.66h-3.35zM92.4 299.8h3.35v3.66h-3.35zM83.0 303.2h3.35v3.66h-3.35zM86.2 303.2h3.35v3.66h-3.35zM92.4 310.1h3.35v3.66h-3.35zM98.7 296.3h3.35v3.66h-3.35zM108.1 303.2h3.35v3.66h-3.35zM101.8 306.7h3.35v3.66h-3.35zM104.9 306.7h3.35v3.66h-3.35zM108.1 306.7h3.35v3.66h-3.35zM108.1 310.1h3.35v3.66h-3.35zM123.7 296.3h3.35v3.66h-3.35zM114.3 306.7h3.35v3.66h-3.35zM120.6 313.6h3.35v3.66h-3.35zM136.2 296.3h3.35v3.66h-3.35zM130.0 306.7h3.35v3.66h-3.35zM133.1 306.7h3.35v3.66h-3.35z"/><path fill="#34ec1c" d="M76.8 248.1h3.35v3.66h-3.35zM89.3 244.7h3.35v3.66h-3.35zM79.9 248.1h3.35v3.66h-3.35zM108.1 251.6h3.35v3.66h-3.35zM117.5 241.2h3.35v3.66h-3.35zM123.7 244.7h3.35v3.66h-3.35zM130.0 241.2h3.35v3.66h-3.35zM133.1 241.2h3.35v3.66h-3.35zM126.8 244.7h3.35v3.66h-3.35zM86.2 258.4h3.35v3.66h-3.35zM89.3 261.9h3.35v3.66h-3.35zM83.0 268.8h3.35v3.66h-3.35zM89.3 268.8h3.35v3.66h-3.35zM92.4 272.2h3.35v3.66h-3.35zM108.1 258.4h3.35v3.66h-3.35zM104.9 261.9h3.35v3.66h-3.35zM111.2 261.9h3.35v3.66h-3.35zM123.7 261.9h3.35v3.66h-3.35zM114.3 265.3h3.35v3.66h-3.35zM117.5 265.3h3.35v3.66h-3.35zM133.1 272.2h3.35v3.66h-3.35zM139.4 272.2h3.35v3.66h-3.35zM76.8 279.1h3.35v3.66h-3.35zM64.2 286.0h3.35v3.66h-3.35zM76.8 286.0h3.35v3.66h-3.35zM76.8 289.4h3.35v3.66h-3.35zM83.0 275.7h3.35v3.66h-3.35zM89.3 279.1h3.35v3.66h-3.35zM104.9 282.6h3.35v3.66h-3.35zM108.1 292.9h3.35v3.66h-3.35zM111.2 289.4h3.35v3.66h-3.35zM111.2 292.9h3.35v3.66h-3.35zM123.7 292.9h3.35v3.66h-3.35zM136.2 286.0h3.35v3.66h-3.35zM133.1 289.4h3.35v3.66h-3.35zM130.0 292.9h3.35v3.66h-3.35zM139.4 292.9h3.35v3.66h-3.35zM73.6 299.8h3.35v3.66h-3.35zM83.0 296.3h3.35v3.66h-3.35zM92.4 306.7h3.35v3.66h-3.35zM89.3 313.6h3.35v3.66h-3.35zM101.8 299.8h3.35v3.66h-3.35zM104.9 299.8h3.35v3.66h-3.35zM101.8 303.2h3.35v3.66h-3.35zM98.7 306.7h3.35v3.66h-3.35zM104.9 313.6h3.35v3.66h-3.35zM120.6 296.3h3.35v3.66h-3.35zM123.7 299.8h3.35v3.66h-3.35zM111.2 303.2h3.35v3.66h-3.35zM114.3 303.2h3.35v3.66h-3.35zM120.6 303.2h3.35v3.66h-3.35zM126.8 299.8h3.35v3.66h-3.35z"/><path fill="#f4f424" d="M83.0 234.3h3.35v3.66h-3.35zM86.2 234.3h3.35v3.66h-3.35zM145.6 241.2h3.35v3.66h-3.35zM155.0 241.2h3.35v3.66h-3.35zM151.9 258.4h3.35v3.66h-3.35zM155.0 258.4h3.35v3.66h-3.35zM155.0 261.9h3.35v3.66h-3.35zM151.9 268.8h3.35v3.66h-3.35zM158.2 255.0h3.35v3.66h-3.35zM170.7 258.4h3.35v3.66h-3.35zM151.9 279.1h3.35v3.66h-3.35zM151.9 292.9h3.35v3.66h-3.35zM158.2 275.7h3.35v3.66h-3.35zM167.5 289.4h3.35v3.66h-3.35zM173.8 279.1h3.35v3.66h-3.35zM142.5 306.7h3.35v3.66h-3.35zM98.7 327.3h3.35v3.66h-3.35zM117.5 317.0h3.35v3.66h-3.35zM117.5 320.4h3.35v3.66h-3.35zM98.7 358.3h3.35v3.66h-3.35z"/><path fill="#d4ec24" d="M145.6 244.7h3.35v3.66h-3.35zM155.0 244.7h3.35v3.66h-3.35zM155.0 289.4h3.35v3.66h-3.35z"/><path fill="#54ec1c" d="M73.6 265.3h3.35v3.66h-3.35zM108.1 272.2h3.35v3.66h-3.35zM76.8 275.7h3.35v3.66h-3.35zM73.6 292.9h3.35v3.66h-3.35zM92.4 292.9h3.35v3.66h-3.35zM120.6 275.7h3.35v3.66h-3.35z"/><path fill="#e4f424" d="M29.8 275.7h3.35v3.66h-3.35z"/><path clip-path="url(#wc11)" stroke="#ffffff" stroke-opacity="0.28" stroke-width="0.4" fill="none" d="M17.30 193.0V379.0M20.43 193.0V379.0M23.56 193.0V379.0M26.69 193.0V379.0M29.82 193.0V379.0M32.95 193.0V379.0M36.08 193.0V379.0M39.21 193.0V379.0M42.34 193.0V379.0M45.47 193.0V379.0M48.60 193.0V379.0M51.73 193.0V379.0M54.86 193.0V379.0M57.99 193.0V379.0M61.12 193.0V379.0M64.25 193.0V379.0M67.38 193.0V379.0M70.51 193.0V379.0M73.64 193.0V379.0M76.77 193.0V379.0M79.90 193.0V379.0M83.03 193.0V379.0M86.16 193.0V379.0M89.29 193.0V379.0M92.42 193.0V379.0M95.55 193.0V379.0M98.68 193.0V379.0M101.81 193.0V379.0M104.94 193.0V379.0M108.07 193.0V379.0M111.20 193.0V379.0M114.33 193.0V379.0M117.46 193.0V379.0M120.59 193.0V379.0M123.72 193.0V379.0M126.85 193.0V379.0M129.98 193.0V379.0M133.11 193.0V379.0M136.24 193.0V379.0M139.37 193.0V379.0M142.50 193.0V379.0M145.63 193.0V379.0M148.76 193.0V379.0M151.89 193.0V379.0M155.02 193.0V379.0M158.15 193.0V379.0M161.28 193.0V379.0M164.41 193.0V379.0M167.54 193.0V379.0M170.67 193.0V379.0M173.80 193.0V379.0M176.93 193.0V379.0M180.06 193.0V379.0M183.19 193.0V379.0M186.32 193.0V379.0M189.45 193.0V379.0M17.3 193.00H189.5M17.3 196.44H189.5M17.3 199.89H189.5M17.3 203.33H189.5M17.3 206.78H189.5M17.3 210.22H189.5M17.3 213.67H189.5M17.3 217.11H189.5M17.3 220.56H189.5M17.3 224.00H189.5M17.3 227.44H189.5M17.3 230.89H189.5M17.3 234.33H189.5M17.3 237.78H189.5M17.3 241.22H189.5M17.3 244.67H189.5M17.3 248.11H189.5M17.3 251.56H189.5M17.3 255.00H189.5M17.3 258.45H189.5M17.3 261.89H189.5M17.3 265.33H189.5M17.3 268.78H189.5M17.3 272.22H189.5M17.3 275.67H189.5M17.3 279.11H189.5M17.3 282.56H189.5M17.3 286.00H189.5M17.3 289.45H189.5M17.3 292.89H189.5M17.3 296.34H189.5M17.3 299.78H189.5M17.3 303.22H189.5M17.3 306.67H189.5M17.3 310.11H189.5M17.3 313.56H189.5M17.3 317.00H189.5M17.3 320.45H189.5M17.3 323.89H189.5M17.3 327.34H189.5M17.3 330.78H189.5M17.3 334.22H189.5M17.3 337.67H189.5M17.3 341.11H189.5M17.3 344.56H189.5M17.3 348.00H189.5M17.3 351.45H189.5M17.3 354.89H189.5M17.3 358.34H189.5M17.3 361.78H189.5M17.3 365.23H189.5M17.3 368.67H189.5M17.3 372.11H189.5M17.3 375.56H189.5M17.3 379.00H189.5"/><g fill="none" stroke="#4c4c4c" stroke-width="0.95"><rect x="64.25" y="193.00" width="15.65" height="20.67"/><rect x="79.90" y="193.00" width="15.65" height="20.67"/><rect x="95.55" y="193.00" width="15.65" height="20.67"/><rect x="111.20" y="193.00" width="15.65" height="20.67"/><rect x="126.85" y="193.00" width="15.65" height="20.67"/><rect x="32.95" y="213.67" width="15.65" height="20.67"/><rect x="48.60" y="213.67" width="15.65" height="20.67"/><rect x="64.25" y="213.67" width="15.65" height="20.67"/><rect x="79.90" y="213.67" width="15.65" height="20.67"/><rect x="95.55" y="213.67" width="15.65" height="20.67"/><rect x="111.20" y="213.67" width="15.65" height="20.67"/><rect x="126.85" y="213.67" width="15.65" height="20.67"/><rect x="142.50" y="213.67" width="15.65" height="20.67"/><rect x="158.15" y="213.67" width="15.65" height="20.67"/><rect x="32.95" y="234.33" width="15.65" height="20.67"/><rect x="48.60" y="234.33" width="15.65" height="20.67"/><rect x="64.25" y="234.33" width="15.65" height="20.67"/><rect x="79.90" y="234.33" width="15.65" height="20.67"/><rect x="95.55" y="234.33" width="15.65" height="20.67"/><rect x="111.20" y="234.33" width="15.65" height="20.67"/><rect x="126.85" y="234.33" width="15.65" height="20.67"/><rect x="142.50" y="234.33" width="15.65" height="20.67"/><rect x="158.15" y="234.33" width="15.65" height="20.67"/><rect x="173.80" y="234.33" width="15.65" height="20.67"/><rect x="17.30" y="255.00" width="15.65" height="20.67"/><rect x="32.95" y="255.00" width="15.65" height="20.67"/><rect x="48.60" y="255.00" width="15.65" height="20.67"/><rect x="64.25" y="255.00" width="15.65" height="20.67"/><rect x="79.90" y="255.00" width="15.65" height="20.67"/><rect x="95.55" y="255.00" width="15.65" height="20.67"/><rect x="111.20" y="255.00" width="15.65" height="20.67"/><rect x="126.85" y="255.00" width="15.65" height="20.67"/><rect x="142.50" y="255.00" width="15.65" height="20.67"/><rect x="158.15" y="255.00" width="15.65" height="20.67"/><rect x="173.80" y="255.00" width="15.65" height="20.67"/><rect x="17.30" y="275.67" width="15.65" height="20.67"/><rect x="32.95" y="275.67" width="15.65" height="20.67"/><rect x="48.60" y="275.67" width="15.65" height="20.67"/><rect x="64.25" y="275.67" width="15.65" height="20.67"/><rect x="79.90" y="275.67" width="15.65" height="20.67"/><rect x="95.55" y="275.67" width="15.65" height="20.67"/><rect x="111.20" y="275.67" width="15.65" height="20.67"/><rect x="126.85" y="275.67" width="15.65" height="20.67"/><rect x="142.50" y="275.67" width="15.65" height="20.67"/><rect x="158.15" y="275.67" width="15.65" height="20.67"/><rect x="173.80" y="275.67" width="15.65" height="20.67"/><rect x="17.30" y="296.34" width="15.65" height="20.67"/><rect x="32.95" y="296.34" width="15.65" height="20.67"/><rect x="48.60" y="296.34" width="15.65" height="20.67"/><rect x="64.25" y="296.34" width="15.65" height="20.67"/><rect x="79.90" y="296.34" width="15.65" height="20.67"/><rect x="95.55" y="296.34" width="15.65" height="20.67"/><rect x="111.20" y="296.34" width="15.65" height="20.67"/><rect x="126.85" y="296.34" width="15.65" height="20.67"/><rect x="142.50" y="296.34" width="15.65" height="20.67"/><rect x="158.15" y="296.34" width="15.65" height="20.67"/><rect x="173.80" y="296.34" width="15.65" height="20.67"/><rect x="32.95" y="317.00" width="15.65" height="20.67"/><rect x="48.60" y="317.00" width="15.65" height="20.67"/><rect x="64.25" y="317.00" width="15.65" height="20.67"/><rect x="79.90" y="317.00" width="15.65" height="20.67"/><rect x="95.55" y="317.00" width="15.65" height="20.67"/><rect x="111.20" y="317.00" width="15.65" height="20.67"/><rect x="126.85" y="317.00" width="15.65" height="20.67"/><rect x="142.50" y="317.00" width="15.65" height="20.67"/><rect x="158.15" y="317.00" width="15.65" height="20.67"/><rect x="173.80" y="317.00" width="15.65" height="20.67"/><rect x="48.60" y="337.67" width="15.65" height="20.67"/><rect x="64.25" y="337.67" width="15.65" height="20.67"/><rect x="79.90" y="337.67" width="15.65" height="20.67"/><rect x="95.55" y="337.67" width="15.65" height="20.67"/><rect x="111.20" y="337.67" width="15.65" height="20.67"/><rect x="126.85" y="337.67" width="15.65" height="20.67"/><rect x="142.50" y="337.67" width="15.65" height="20.67"/><rect x="158.15" y="337.67" width="15.65" height="20.67"/><rect x="79.90" y="358.34" width="15.65" height="20.67"/><rect x="95.55" y="358.34" width="15.65" height="20.67"/><rect x="111.20" y="358.34" width="15.65" height="20.67"/><rect x="126.85" y="358.34" width="15.65" height="20.67"/></g><circle cx="106.50" cy="284.30" r="82.4" fill="none" stroke="#4a4a4a" stroke-width="1"/><path d="M98.00 371.8 L105.70 366.4 L113.40 371.8 Z" fill="#444"/><rect x="210" y="249.6" width="3.8" height="130.8" fill="url(#cb)"/><rect x="213.8" y="249.6" width="3.6" height="1.6" fill="#f01010"/><rect x="213.8" y="378.8" width="3.6" height="1.6" fill="#1ee81a"/><text x="222" y="252.9" font-size="9.2" fill="#6a6a6a" font-family="Liberation Sans, sans-serif">1.053</text><rect x="213.8" y="281.8" width="2.6" height="1" fill="#f37a1a" opacity="0.8"/><text x="222" y="285.6" font-size="9.2" fill="#6a6a6a" font-family="Liberation Sans, sans-serif">0.9939</text><rect x="213.8" y="314.5" width="2.6" height="1" fill="#f0ee1e" opacity="0.8"/><text x="222" y="318.3" font-size="9.2" fill="#6a6a6a" font-family="Liberation Sans, sans-serif">0.9083</text><rect x="213.8" y="347.2" width="2.6" height="1" fill="#a6ee22" opacity="0.8"/><text x="222" y="351.0" font-size="9.2" fill="#6a6a6a" font-family="Liberation Sans, sans-serif">0.8222</text><text x="222" y="383.7" font-size="9.2" fill="#6a6a6a" font-family="Liberation Sans, sans-serif">0.7691</text><clipPath id="wc23"><circle cx="359.50" cy="284.30" r="82.4"/></clipPath><path clip-path="url(#wc23)" stroke="#cdcdcd" stroke-opacity="0.9" stroke-width="0.45" fill="none" d="M270.30 193.0V379.0M273.43 193.0V379.0M276.56 193.0V379.0M279.69 193.0V379.0M282.82 193.0V379.0M285.95 193.0V379.0M289.08 193.0V379.0M292.21 193.0V379.0M295.34 193.0V379.0M298.47 193.0V379.0M301.60 193.0V379.0M304.73 193.0V379.0M307.86 193.0V379.0M310.99 193.0V379.0M314.12 193.0V379.0M317.25 193.0V379.0M320.38 193.0V379.0M323.51 193.0V379.0M326.64 193.0V379.0M329.77 193.0V379.0M332.90 193.0V379.0M336.03 193.0V379.0M339.16 193.0V379.0M342.29 193.0V379.0M345.42 193.0V379.0M348.55 193.0V379.0M351.68 193.0V379.0M354.81 193.0V379.0M357.94 193.0V379.0M361.07 193.0V379.0M364.20 193.0V379.0M367.33 193.0V379.0M370.46 193.0V379.0M373.59 193.0V379.0M376.72 193.0V379.0M379.85 193.0V379.0M382.98 193.0V379.0M386.11 193.0V379.0M389.24 193.0V379.0M392.37 193.0V379.0M395.50 193.0V379.0M398.63 193.0V379.0M401.76 193.0V379.0M404.89 193.0V379.0M408.02 193.0V379.0M411.15 193.0V379.0M414.28 193.0V379.0M417.41 193.0V379.0M420.54 193.0V379.0M423.67 193.0V379.0M426.80 193.0V379.0M429.93 193.0V379.0M433.06 193.0V379.0M436.19 193.0V379.0M439.32 193.0V379.0M442.45 193.0V379.0M270.3 193.00H442.5M270.3 196.44H442.5M270.3 199.89H442.5M270.3 203.33H442.5M270.3 206.78H442.5M270.3 210.22H442.5M270.3 213.67H442.5M270.3 217.11H442.5M270.3 220.56H442.5M270.3 224.00H442.5M270.3 227.44H442.5M270.3 230.89H442.5M270.3 234.33H442.5M270.3 237.78H442.5M270.3 241.22H442.5M270.3 244.67H442.5M270.3 248.11H442.5M270.3 251.56H442.5M270.3 255.00H442.5M270.3 258.45H442.5M270.3 261.89H442.5M270.3 265.33H442.5M270.3 268.78H442.5M270.3 272.22H442.5M270.3 275.67H442.5M270.3 279.11H442.5M270.3 282.56H442.5M270.3 286.00H442.5M270.3 289.45H442.5M270.3 292.89H442.5M270.3 296.34H442.5M270.3 299.78H442.5M270.3 303.22H442.5M270.3 306.67H442.5M270.3 310.11H442.5M270.3 313.56H442.5M270.3 317.00H442.5M270.3 320.45H442.5M270.3 323.89H442.5M270.3 327.34H442.5M270.3 330.78H442.5M270.3 334.22H442.5M270.3 337.67H442.5M270.3 341.11H442.5M270.3 344.56H442.5M270.3 348.00H442.5M270.3 351.45H442.5M270.3 354.89H442.5M270.3 358.34H442.5M270.3 361.78H442.5M270.3 365.23H442.5M270.3 368.67H442.5M270.3 372.11H442.5M270.3 375.56H442.5M270.3 379.00H442.5"/><path fill="#bcec24" d="M345.4 203.3h3.35v3.66h-3.35zM398.6 220.6h3.35v3.66h-3.35zM401.8 224.0h3.35v3.66h-3.35zM408.0 227.4h3.35v3.66h-3.35zM329.8 241.2h3.35v3.66h-3.35zM351.7 234.3h3.35v3.66h-3.35zM357.9 237.8h3.35v3.66h-3.35zM361.1 237.8h3.35v3.66h-3.35zM379.9 251.6h3.35v3.66h-3.35zM401.8 244.7h3.35v3.66h-3.35zM398.6 248.1h3.35v3.66h-3.35zM401.8 248.1h3.35v3.66h-3.35zM417.4 237.8h3.35v3.66h-3.35zM320.4 265.3h3.35v3.66h-3.35zM357.9 261.9h3.35v3.66h-3.35zM401.8 265.3h3.35v3.66h-3.35zM317.2 282.6h3.35v3.66h-3.35zM320.4 286.0h3.35v3.66h-3.35zM364.2 292.9h3.35v3.66h-3.35zM398.6 275.7h3.35v3.66h-3.35zM401.8 282.6h3.35v3.66h-3.35zM398.6 286.0h3.35v3.66h-3.35zM401.8 286.0h3.35v3.66h-3.35zM326.6 303.2h3.35v3.66h-3.35zM332.9 306.7h3.35v3.66h-3.35zM342.3 320.4h3.35v3.66h-3.35zM361.1 317.0h3.35v3.66h-3.35zM361.1 320.4h3.35v3.66h-3.35zM392.4 348.0h3.35v3.66h-3.35z"/><path fill="#8cec24" d="M342.3 206.8h3.35v3.66h-3.35zM373.6 210.2h3.35v3.66h-3.35zM398.6 224.0h3.35v3.66h-3.35zM404.9 224.0h3.35v3.66h-3.35zM326.6 244.7h3.35v3.66h-3.35zM329.8 244.7h3.35v3.66h-3.35zM329.8 251.6h3.35v3.66h-3.35zM348.6 234.3h3.35v3.66h-3.35zM348.6 241.2h3.35v3.66h-3.35zM367.3 244.7h3.35v3.66h-3.35zM370.5 244.7h3.35v3.66h-3.35zM373.6 244.7h3.35v3.66h-3.35zM376.7 244.7h3.35v3.66h-3.35zM395.5 251.6h3.35v3.66h-3.35zM398.6 251.6h3.35v3.66h-3.35zM401.8 251.6h3.35v3.66h-3.35zM329.8 255.0h3.35v3.66h-3.35zM317.2 265.3h3.35v3.66h-3.35zM323.5 265.3h3.35v3.66h-3.35zM317.2 272.2h3.35v3.66h-3.35zM323.5 272.2h3.35v3.66h-3.35zM395.5 265.3h3.35v3.66h-3.35zM395.5 268.8h3.35v3.66h-3.35zM398.6 272.2h3.35v3.66h-3.35zM314.1 292.9h3.35v3.66h-3.35zM317.2 275.7h3.35v3.66h-3.35zM326.6 275.7h3.35v3.66h-3.35zM348.6 286.0h3.35v3.66h-3.35zM348.6 289.4h3.35v3.66h-3.35zM354.8 292.9h3.35v3.66h-3.35zM370.5 289.4h3.35v3.66h-3.35zM401.8 279.1h3.35v3.66h-3.35zM426.8 282.6h3.35v3.66h-3.35zM329.8 296.3h3.35v3.66h-3.35zM326.6 299.8h3.35v3.66h-3.35zM329.8 299.8h3.35v3.66h-3.35zM326.6 306.7h3.35v3.66h-3.35zM339.2 306.7h3.35v3.66h-3.35zM351.7 299.8h3.35v3.66h-3.35zM373.6 310.1h3.35v3.66h-3.35zM389.2 344.6h3.35v3.66h-3.35zM389.2 348.0h3.35v3.66h-3.35z"/><path fill="#9cec24" d="M345.4 206.8h3.35v3.66h-3.35zM361.1 203.3h3.35v3.66h-3.35zM348.6 206.8h3.35v3.66h-3.35zM361.1 206.8h3.35v3.66h-3.35zM411.1 230.9h3.35v3.66h-3.35zM364.2 244.7h3.35v3.66h-3.35zM392.4 241.2h3.35v3.66h-3.35zM386.1 251.6h3.35v3.66h-3.35zM395.5 237.8h3.35v3.66h-3.35zM408.0 237.8h3.35v3.66h-3.35zM395.5 241.2h3.35v3.66h-3.35zM395.5 244.7h3.35v3.66h-3.35zM411.1 244.7h3.35v3.66h-3.35zM326.6 261.9h3.35v3.66h-3.35zM329.8 265.3h3.35v3.66h-3.35zM320.4 268.8h3.35v3.66h-3.35zM357.9 265.3h3.35v3.66h-3.35zM398.6 258.4h3.35v3.66h-3.35zM426.8 258.4h3.35v3.66h-3.35zM311.0 292.9h3.35v3.66h-3.35zM323.5 275.7h3.35v3.66h-3.35zM326.6 279.1h3.35v3.66h-3.35zM354.8 289.4h3.35v3.66h-3.35zM373.6 275.7h3.35v3.66h-3.35zM395.5 275.7h3.35v3.66h-3.35zM398.6 279.1h3.35v3.66h-3.35zM395.5 282.6h3.35v3.66h-3.35zM395.5 286.0h3.35v3.66h-3.35zM429.9 282.6h3.35v3.66h-3.35zM329.8 306.7h3.35v3.66h-3.35zM329.8 310.1h3.35v3.66h-3.35zM348.6 299.8h3.35v3.66h-3.35zM342.3 317.0h3.35v3.66h-3.35zM345.4 317.0h3.35v3.66h-3.35zM354.8 317.0h3.35v3.66h-3.35z"/><path fill="#dcec24" d="M332.9 210.2h3.35v3.66h-3.35zM320.4 241.2h3.35v3.66h-3.35zM323.5 251.6h3.35v3.66h-3.35zM339.2 234.3h3.35v3.66h-3.35zM332.9 237.8h3.35v3.66h-3.35zM379.9 244.7h3.35v3.66h-3.35zM414.3 251.6h3.35v3.66h-3.35zM314.1 258.4h3.35v3.66h-3.35zM317.2 258.4h3.35v3.66h-3.35zM417.4 258.4h3.35v3.66h-3.35zM282.8 279.1h3.35v3.66h-3.35zM282.8 286.0h3.35v3.66h-3.35zM408.0 282.6h3.35v3.66h-3.35zM404.9 286.0h3.35v3.66h-3.35zM408.0 286.0h3.35v3.66h-3.35zM404.9 292.9h3.35v3.66h-3.35zM417.4 286.0h3.35v3.66h-3.35zM417.4 289.4h3.35v3.66h-3.35zM420.5 289.4h3.35v3.66h-3.35zM414.3 292.9h3.35v3.66h-3.35zM417.4 292.9h3.35v3.66h-3.35zM423.7 292.9h3.35v3.66h-3.35zM429.9 275.7h3.35v3.66h-3.35zM320.4 313.6h3.35v3.66h-3.35zM323.5 313.6h3.35v3.66h-3.35zM379.9 313.6h3.35v3.66h-3.35zM401.8 296.3h3.35v3.66h-3.35zM395.5 299.8h3.35v3.66h-3.35zM429.9 299.8h3.35v3.66h-3.35zM426.8 306.7h3.35v3.66h-3.35zM329.8 317.0h3.35v3.66h-3.35zM339.2 320.4h3.35v3.66h-3.35zM342.3 327.3h3.35v3.66h-3.35zM351.7 323.9h3.35v3.66h-3.35zM357.9 327.3h3.35v3.66h-3.35zM361.1 327.3h3.35v3.66h-3.35zM370.5 327.3h3.35v3.66h-3.35zM383.0 317.0h3.35v3.66h-3.35zM404.9 330.8h3.35v3.66h-3.35zM408.0 334.2h3.35v3.66h-3.35zM420.5 317.0h3.35v3.66h-3.35zM383.0 351.4h3.35v3.66h-3.35z"/><path fill="#f4841c" d="M336.0 210.2h3.35v3.66h-3.35zM339.2 210.2h3.35v3.66h-3.35zM345.4 210.2h3.35v3.66h-3.35zM364.2 210.2h3.35v3.66h-3.35zM304.7 227.4h3.35v3.66h-3.35zM307.9 230.9h3.35v3.66h-3.35zM345.4 224.0h3.35v3.66h-3.35zM345.4 227.4h3.35v3.66h-3.35zM354.8 220.6h3.35v3.66h-3.35zM354.8 224.0h3.35v3.66h-3.35zM364.2 213.7h3.35v3.66h-3.35zM367.3 217.1h3.35v3.66h-3.35zM379.9 230.9h3.35v3.66h-3.35zM311.0 244.7h3.35v3.66h-3.35zM423.7 258.4h3.35v3.66h-3.35zM301.6 286.0h3.35v3.66h-3.35zM307.9 289.4h3.35v3.66h-3.35zM301.6 292.9h3.35v3.66h-3.35zM414.3 275.7h3.35v3.66h-3.35zM314.1 310.1h3.35v3.66h-3.35zM404.9 299.8h3.35v3.66h-3.35zM398.6 306.7h3.35v3.66h-3.35zM404.9 310.1h3.35v3.66h-3.35zM326.6 327.3h3.35v3.66h-3.35zM357.9 330.8h3.35v3.66h-3.35zM364.2 330.8h3.35v3.66h-3.35zM367.3 330.8h3.35v3.66h-3.35zM364.2 334.2h3.35v3.66h-3.35zM367.3 334.2h3.35v3.66h-3.35zM392.4 320.4h3.35v3.66h-3.35zM414.3 327.3h3.35v3.66h-3.35zM417.4 327.3h3.35v3.66h-3.35zM314.1 344.6h3.35v3.66h-3.35zM342.3 351.4h3.35v3.66h-3.35zM342.3 354.9h3.35v3.66h-3.35zM351.7 337.7h3.35v3.66h-3.35zM351.7 341.1h3.35v3.66h-3.35zM373.6 341.1h3.35v3.66h-3.35zM376.7 348.0h3.35v3.66h-3.35zM383.0 341.1h3.35v3.66h-3.35z"/><path fill="#f49c1c" d="M342.3 210.2h3.35v3.66h-3.35zM342.3 230.9h3.35v3.66h-3.35zM357.9 217.1h3.35v3.66h-3.35zM354.8 227.4h3.35v3.66h-3.35zM364.2 217.1h3.35v3.66h-3.35zM364.2 220.6h3.35v3.66h-3.35zM370.5 227.4h3.35v3.66h-3.35zM376.7 230.9h3.35v3.66h-3.35zM392.4 217.1h3.35v3.66h-3.35zM311.0 241.2h3.35v3.66h-3.35zM314.1 251.6h3.35v3.66h-3.35zM329.8 234.3h3.35v3.66h-3.35zM383.0 234.3h3.35v3.66h-3.35zM386.1 237.8h3.35v3.66h-3.35zM285.9 258.4h3.35v3.66h-3.35zM292.2 258.4h3.35v3.66h-3.35zM285.9 261.9h3.35v3.66h-3.35zM292.2 265.3h3.35v3.66h-3.35zM304.7 272.2h3.35v3.66h-3.35zM417.4 275.7h3.35v3.66h-3.35zM285.9 310.1h3.35v3.66h-3.35zM289.1 310.1h3.35v3.66h-3.35zM314.1 299.8h3.35v3.66h-3.35zM311.0 313.6h3.35v3.66h-3.35zM395.5 303.2h3.35v3.66h-3.35zM317.2 320.4h3.35v3.66h-3.35zM323.5 320.4h3.35v3.66h-3.35zM326.6 323.9h3.35v3.66h-3.35zM329.8 323.9h3.35v3.66h-3.35zM339.2 327.3h3.35v3.66h-3.35zM351.7 330.8h3.35v3.66h-3.35zM361.1 334.2h3.35v3.66h-3.35zM373.6 323.9h3.35v3.66h-3.35zM392.4 317.0h3.35v3.66h-3.35zM411.1 323.9h3.35v3.66h-3.35zM345.4 354.9h3.35v3.66h-3.35zM354.8 341.1h3.35v3.66h-3.35zM364.2 354.9h3.35v3.66h-3.35z"/><path fill="#acec24" d="M348.6 203.3h3.35v3.66h-3.35zM376.7 210.2h3.35v3.66h-3.35zM395.5 220.6h3.35v3.66h-3.35zM329.8 248.1h3.35v3.66h-3.35zM357.9 234.3h3.35v3.66h-3.35zM361.1 234.3h3.35v3.66h-3.35zM351.7 244.7h3.35v3.66h-3.35zM364.2 241.2h3.35v3.66h-3.35zM389.2 244.7h3.35v3.66h-3.35zM379.9 248.1h3.35v3.66h-3.35zM386.1 248.1h3.35v3.66h-3.35zM398.6 234.3h3.35v3.66h-3.35zM408.0 234.3h3.35v3.66h-3.35zM398.6 237.8h3.35v3.66h-3.35zM398.6 244.7h3.35v3.66h-3.35zM411.1 241.2h3.35v3.66h-3.35zM326.6 258.4h3.35v3.66h-3.35zM323.5 261.9h3.35v3.66h-3.35zM317.2 268.8h3.35v3.66h-3.35zM361.1 272.2h3.35v3.66h-3.35zM395.5 258.4h3.35v3.66h-3.35zM429.9 261.9h3.35v3.66h-3.35zM429.9 265.3h3.35v3.66h-3.35zM320.4 279.1h3.35v3.66h-3.35zM320.4 282.6h3.35v3.66h-3.35zM354.8 279.1h3.35v3.66h-3.35zM351.7 282.6h3.35v3.66h-3.35zM354.8 286.0h3.35v3.66h-3.35zM364.2 289.4h3.35v3.66h-3.35zM370.5 292.9h3.35v3.66h-3.35zM395.5 279.1h3.35v3.66h-3.35zM320.4 296.3h3.35v3.66h-3.35zM329.8 303.2h3.35v3.66h-3.35zM326.6 310.1h3.35v3.66h-3.35zM332.9 303.2h3.35v3.66h-3.35zM342.3 313.6h3.35v3.66h-3.35zM376.7 310.1h3.35v3.66h-3.35zM379.9 303.2h3.35v3.66h-3.35zM386.1 303.2h3.35v3.66h-3.35zM386.1 306.7h3.35v3.66h-3.35zM348.6 317.0h3.35v3.66h-3.35zM351.7 317.0h3.35v3.66h-3.35zM398.6 344.6h3.35v3.66h-3.35z"/><path fill="#84ec24" d="M351.7 203.3h3.35v3.66h-3.35zM404.9 227.4h3.35v3.66h-3.35zM404.9 230.9h3.35v3.66h-3.35zM345.4 237.8h3.35v3.66h-3.35zM351.7 241.2h3.35v3.66h-3.35zM401.8 237.8h3.35v3.66h-3.35zM404.9 237.8h3.35v3.66h-3.35zM408.0 241.2h3.35v3.66h-3.35zM408.0 244.7h3.35v3.66h-3.35zM411.1 234.3h3.35v3.66h-3.35zM414.3 237.8h3.35v3.66h-3.35zM329.8 258.4h3.35v3.66h-3.35zM357.9 268.8h3.35v3.66h-3.35zM395.5 261.9h3.35v3.66h-3.35zM398.6 261.9h3.35v3.66h-3.35zM311.0 289.4h3.35v3.66h-3.35zM351.7 279.1h3.35v3.66h-3.35zM357.9 286.0h3.35v3.66h-3.35zM329.8 313.6h3.35v3.66h-3.35zM342.3 310.1h3.35v3.66h-3.35zM345.4 310.1h3.35v3.66h-3.35zM345.4 313.6h3.35v3.66h-3.35zM395.5 348.0h3.35v3.66h-3.35z"/><path fill="#a4ec24" d="M354.8 203.3h3.35v3.66h-3.35zM357.9 203.3h3.35v3.66h-3.35zM395.5 217.1h3.35v3.66h-3.35zM395.5 224.0h3.35v3.66h-3.35zM342.3 234.3h3.35v3.66h-3.35zM345.4 234.3h3.35v3.66h-3.35zM342.3 237.8h3.35v3.66h-3.35zM354.8 241.2h3.35v3.66h-3.35zM348.6 244.7h3.35v3.66h-3.35zM367.3 241.2h3.35v3.66h-3.35zM370.5 241.2h3.35v3.66h-3.35zM373.6 241.2h3.35v3.66h-3.35zM383.0 248.1h3.35v3.66h-3.35zM395.5 234.3h3.35v3.66h-3.35zM401.8 234.3h3.35v3.66h-3.35zM404.9 241.2h3.35v3.66h-3.35zM411.1 237.8h3.35v3.66h-3.35zM326.6 255.0h3.35v3.66h-3.35zM329.8 261.9h3.35v3.66h-3.35zM326.6 265.3h3.35v3.66h-3.35zM323.5 268.8h3.35v3.66h-3.35zM361.1 265.3h3.35v3.66h-3.35zM361.1 268.8h3.35v3.66h-3.35zM357.9 272.2h3.35v3.66h-3.35zM401.8 255.0h3.35v3.66h-3.35zM401.8 258.4h3.35v3.66h-3.35zM401.8 268.8h3.35v3.66h-3.35zM426.8 255.0h3.35v3.66h-3.35zM426.8 261.9h3.35v3.66h-3.35zM426.8 265.3h3.35v3.66h-3.35zM429.9 272.2h3.35v3.66h-3.35zM323.5 279.1h3.35v3.66h-3.35zM329.8 279.1h3.35v3.66h-3.35zM351.7 275.7h3.35v3.66h-3.35zM354.8 275.7h3.35v3.66h-3.35zM348.6 279.1h3.35v3.66h-3.35zM348.6 282.6h3.35v3.66h-3.35zM361.1 286.0h3.35v3.66h-3.35zM348.6 292.9h3.35v3.66h-3.35zM351.7 292.9h3.35v3.66h-3.35zM323.5 296.3h3.35v3.66h-3.35zM320.4 299.8h3.35v3.66h-3.35zM323.5 299.8h3.35v3.66h-3.35zM336.0 303.2h3.35v3.66h-3.35zM336.0 306.7h3.35v3.66h-3.35zM348.6 296.3h3.35v3.66h-3.35zM354.8 296.3h3.35v3.66h-3.35zM354.8 299.8h3.35v3.66h-3.35zM373.6 313.6h3.35v3.66h-3.35zM376.7 313.6h3.35v3.66h-3.35zM345.4 320.4h3.35v3.66h-3.35zM357.9 320.4h3.35v3.66h-3.35zM392.4 344.6h3.35v3.66h-3.35z"/><path fill="#3cec1c" d="M351.7 206.8h3.35v3.66h-3.35zM342.3 241.2h3.35v3.66h-3.35zM339.2 244.7h3.35v3.66h-3.35zM361.1 248.1h3.35v3.66h-3.35zM364.2 248.1h3.35v3.66h-3.35zM392.4 248.1h3.35v3.66h-3.35zM329.8 268.8h3.35v3.66h-3.35zM342.3 255.0h3.35v3.66h-3.35zM342.3 258.4h3.35v3.66h-3.35zM351.7 258.4h3.35v3.66h-3.35zM373.6 255.0h3.35v3.66h-3.35zM364.2 261.9h3.35v3.66h-3.35zM373.6 265.3h3.35v3.66h-3.35zM373.6 268.8h3.35v3.66h-3.35zM376.7 268.8h3.35v3.66h-3.35zM383.0 255.0h3.35v3.66h-3.35zM386.1 255.0h3.35v3.66h-3.35zM389.2 258.4h3.35v3.66h-3.35zM379.9 272.2h3.35v3.66h-3.35zM326.6 282.6h3.35v3.66h-3.35zM317.2 289.4h3.35v3.66h-3.35zM326.6 289.4h3.35v3.66h-3.35zM326.6 292.9h3.35v3.66h-3.35zM329.8 292.9h3.35v3.66h-3.35zM345.4 282.6h3.35v3.66h-3.35zM332.9 286.0h3.35v3.66h-3.35zM332.9 289.4h3.35v3.66h-3.35zM332.9 292.9h3.35v3.66h-3.35zM339.2 292.9h3.35v3.66h-3.35zM345.4 292.9h3.35v3.66h-3.35zM357.9 275.7h3.35v3.66h-3.35zM361.1 279.1h3.35v3.66h-3.35zM361.1 289.4h3.35v3.66h-3.35zM361.1 292.9h3.35v3.66h-3.35zM370.5 279.1h3.35v3.66h-3.35zM367.3 282.6h3.35v3.66h-3.35zM370.5 282.6h3.35v3.66h-3.35zM376.7 282.6h3.35v3.66h-3.35zM386.1 275.7h3.35v3.66h-3.35zM389.2 275.7h3.35v3.66h-3.35zM392.4 279.1h3.35v3.66h-3.35zM383.0 289.4h3.35v3.66h-3.35zM379.9 292.9h3.35v3.66h-3.35zM392.4 292.9h3.35v3.66h-3.35zM395.5 289.4h3.35v3.66h-3.35zM398.6 289.4h3.35v3.66h-3.35zM401.8 289.4h3.35v3.66h-3.35zM336.0 296.3h3.35v3.66h-3.35zM336.0 299.8h3.35v3.66h-3.35zM351.7 306.7h3.35v3.66h-3.35zM357.9 306.7h3.35v3.66h-3.35zM348.6 310.1h3.35v3.66h-3.35zM357.9 310.1h3.35v3.66h-3.35zM364.2 299.8h3.35v3.66h-3.35zM376.7 299.8h3.35v3.66h-3.35zM364.2 306.7h3.35v3.66h-3.35z"/><path fill="#24ec1c" d="M354.8 206.8h3.35v3.66h-3.35zM336.0 241.2h3.35v3.66h-3.35zM332.9 248.1h3.35v3.66h-3.35zM332.9 251.6h3.35v3.66h-3.35zM336.0 251.6h3.35v3.66h-3.35zM339.2 251.6h3.35v3.66h-3.35zM345.4 251.6h3.35v3.66h-3.35zM357.9 241.2h3.35v3.66h-3.35zM357.9 251.6h3.35v3.66h-3.35zM361.1 251.6h3.35v3.66h-3.35zM370.5 251.6h3.35v3.66h-3.35zM376.7 251.6h3.35v3.66h-3.35zM389.2 251.6h3.35v3.66h-3.35zM420.5 251.6h3.35v3.66h-3.35zM423.7 251.6h3.35v3.66h-3.35zM326.6 272.2h3.35v3.66h-3.35zM339.2 255.0h3.35v3.66h-3.35zM345.4 255.0h3.35v3.66h-3.35zM332.9 258.4h3.35v3.66h-3.35zM345.4 258.4h3.35v3.66h-3.35zM336.0 261.9h3.35v3.66h-3.35zM336.0 265.3h3.35v3.66h-3.35zM332.9 268.8h3.35v3.66h-3.35zM342.3 268.8h3.35v3.66h-3.35zM351.7 255.0h3.35v3.66h-3.35zM348.6 258.4h3.35v3.66h-3.35zM354.8 258.4h3.35v3.66h-3.35zM357.9 258.4h3.35v3.66h-3.35zM354.8 261.9h3.35v3.66h-3.35zM348.6 265.3h3.35v3.66h-3.35zM351.7 265.3h3.35v3.66h-3.35zM367.3 255.0h3.35v3.66h-3.35zM367.3 258.4h3.35v3.66h-3.35zM370.5 258.4h3.35v3.66h-3.35zM373.6 261.9h3.35v3.66h-3.35zM364.2 265.3h3.35v3.66h-3.35zM370.5 272.2h3.35v3.66h-3.35zM373.6 272.2h3.35v3.66h-3.35zM392.4 255.0h3.35v3.66h-3.35zM392.4 258.4h3.35v3.66h-3.35zM379.9 261.9h3.35v3.66h-3.35zM379.9 265.3h3.35v3.66h-3.35zM392.4 265.3h3.35v3.66h-3.35zM389.2 272.2h3.35v3.66h-3.35zM326.6 286.0h3.35v3.66h-3.35zM323.5 289.4h3.35v3.66h-3.35zM320.4 292.9h3.35v3.66h-3.35zM342.3 275.7h3.35v3.66h-3.35zM345.4 275.7h3.35v3.66h-3.35zM332.9 282.6h3.35v3.66h-3.35zM336.0 292.9h3.35v3.66h-3.35zM342.3 292.9h3.35v3.66h-3.35zM364.2 275.7h3.35v3.66h-3.35zM364.2 282.6h3.35v3.66h-3.35zM364.2 286.0h3.35v3.66h-3.35zM370.5 286.0h3.35v3.66h-3.35zM373.6 289.4h3.35v3.66h-3.35zM379.9 275.7h3.35v3.66h-3.35zM383.0 275.7h3.35v3.66h-3.35zM379.9 279.1h3.35v3.66h-3.35zM383.0 279.1h3.35v3.66h-3.35zM379.9 282.6h3.35v3.66h-3.35zM386.1 282.6h3.35v3.66h-3.35zM389.2 282.6h3.35v3.66h-3.35zM392.4 282.6h3.35v3.66h-3.35zM392.4 286.0h3.35v3.66h-3.35zM389.2 289.4h3.35v3.66h-3.35zM389.2 292.9h3.35v3.66h-3.35zM398.6 292.9h3.35v3.66h-3.35zM401.8 292.9h3.35v3.66h-3.35zM426.8 289.4h3.35v3.66h-3.35zM429.9 289.4h3.35v3.66h-3.35zM429.9 292.9h3.35v3.66h-3.35zM332.9 296.3h3.35v3.66h-3.35zM342.3 296.3h3.35v3.66h-3.35zM345.4 296.3h3.35v3.66h-3.35zM342.3 299.8h3.35v3.66h-3.35zM345.4 303.2h3.35v3.66h-3.35zM339.2 310.1h3.35v3.66h-3.35zM336.0 313.6h3.35v3.66h-3.35zM357.9 299.8h3.35v3.66h-3.35zM361.1 299.8h3.35v3.66h-3.35zM351.7 303.2h3.35v3.66h-3.35zM354.8 303.2h3.35v3.66h-3.35zM357.9 303.2h3.35v3.66h-3.35zM361.1 310.1h3.35v3.66h-3.35zM361.1 313.6h3.35v3.66h-3.35zM367.3 296.3h3.35v3.66h-3.35zM370.5 296.3h3.35v3.66h-3.35zM373.6 296.3h3.35v3.66h-3.35zM376.7 296.3h3.35v3.66h-3.35zM370.5 299.8h3.35v3.66h-3.35zM367.3 303.2h3.35v3.66h-3.35zM370.5 310.1h3.35v3.66h-3.35zM383.0 296.3h3.35v3.66h-3.35zM386.1 296.3h3.35v3.66h-3.35zM392.4 296.3h3.35v3.66h-3.35zM386.1 299.8h3.35v3.66h-3.35zM392.4 299.8h3.35v3.66h-3.35z"/><path fill="#44ec1c" d="M357.9 206.8h3.35v3.66h-3.35zM345.4 241.2h3.35v3.66h-3.35zM336.0 244.7h3.35v3.66h-3.35zM357.9 244.7h3.35v3.66h-3.35zM370.5 248.1h3.35v3.66h-3.35zM376.7 248.1h3.35v3.66h-3.35zM367.3 251.6h3.35v3.66h-3.35zM339.2 258.4h3.35v3.66h-3.35zM332.9 261.9h3.35v3.66h-3.35zM345.4 261.9h3.35v3.66h-3.35zM342.3 265.3h3.35v3.66h-3.35zM336.0 268.8h3.35v3.66h-3.35zM339.2 272.2h3.35v3.66h-3.35zM342.3 272.2h3.35v3.66h-3.35zM354.8 255.0h3.35v3.66h-3.35zM357.9 255.0h3.35v3.66h-3.35zM354.8 265.3h3.35v3.66h-3.35zM370.5 255.0h3.35v3.66h-3.35zM364.2 268.8h3.35v3.66h-3.35zM367.3 268.8h3.35v3.66h-3.35zM389.2 255.0h3.35v3.66h-3.35zM383.0 261.9h3.35v3.66h-3.35zM379.9 268.8h3.35v3.66h-3.35zM383.0 268.8h3.35v3.66h-3.35zM392.4 268.8h3.35v3.66h-3.35zM329.8 286.0h3.35v3.66h-3.35zM332.9 275.7h3.35v3.66h-3.35zM342.3 282.6h3.35v3.66h-3.35zM339.2 286.0h3.35v3.66h-3.35zM342.3 289.4h3.35v3.66h-3.35zM367.3 275.7h3.35v3.66h-3.35zM367.3 279.1h3.35v3.66h-3.35zM376.7 289.4h3.35v3.66h-3.35zM373.6 292.9h3.35v3.66h-3.35zM379.9 286.0h3.35v3.66h-3.35zM426.8 292.9h3.35v3.66h-3.35zM339.2 296.3h3.35v3.66h-3.35zM332.9 299.8h3.35v3.66h-3.35zM339.2 313.6h3.35v3.66h-3.35zM361.1 303.2h3.35v3.66h-3.35zM364.2 303.2h3.35v3.66h-3.35zM370.5 303.2h3.35v3.66h-3.35zM376.7 303.2h3.35v3.66h-3.35zM364.2 310.1h3.35v3.66h-3.35zM367.3 310.1h3.35v3.66h-3.35zM370.5 313.6h3.35v3.66h-3.35z"/><path fill="#f4941c" d="M348.6 210.2h3.35v3.66h-3.35zM354.8 210.2h3.35v3.66h-3.35zM357.9 210.2h3.35v3.66h-3.35zM342.3 224.0h3.35v3.66h-3.35zM351.7 213.7h3.35v3.66h-3.35zM361.1 217.1h3.35v3.66h-3.35zM351.7 227.4h3.35v3.66h-3.35zM354.8 230.9h3.35v3.66h-3.35zM370.5 220.6h3.35v3.66h-3.35zM370.5 224.0h3.35v3.66h-3.35zM376.7 227.4h3.35v3.66h-3.35zM367.3 230.9h3.35v3.66h-3.35zM389.2 217.1h3.35v3.66h-3.35zM383.0 227.4h3.35v3.66h-3.35zM389.2 227.4h3.35v3.66h-3.35zM285.9 251.6h3.35v3.66h-3.35zM329.8 237.8h3.35v3.66h-3.35zM379.9 234.3h3.35v3.66h-3.35zM285.9 268.8h3.35v3.66h-3.35zM311.0 261.9h3.35v3.66h-3.35zM314.1 265.3h3.35v3.66h-3.35zM301.6 268.8h3.35v3.66h-3.35zM314.1 268.8h3.35v3.66h-3.35zM301.6 272.2h3.35v3.66h-3.35zM408.0 265.3h3.35v3.66h-3.35zM423.7 255.0h3.35v3.66h-3.35zM411.1 265.3h3.35v3.66h-3.35zM282.8 292.9h3.35v3.66h-3.35zM285.9 292.9h3.35v3.66h-3.35zM301.6 282.6h3.35v3.66h-3.35zM420.5 286.0h3.35v3.66h-3.35zM314.1 296.3h3.35v3.66h-3.35zM311.0 299.8h3.35v3.66h-3.35zM401.8 306.7h3.35v3.66h-3.35zM336.0 323.9h3.35v3.66h-3.35zM339.2 323.9h3.35v3.66h-3.35zM332.9 327.3h3.35v3.66h-3.35zM336.0 327.3h3.35v3.66h-3.35zM354.8 330.8h3.35v3.66h-3.35zM373.6 327.3h3.35v3.66h-3.35zM389.2 320.4h3.35v3.66h-3.35zM411.1 327.3h3.35v3.66h-3.35zM354.8 337.7h3.35v3.66h-3.35zM348.6 341.1h3.35v3.66h-3.35zM373.6 344.6h3.35v3.66h-3.35zM376.7 344.6h3.35v3.66h-3.35zM386.1 348.0h3.35v3.66h-3.35zM401.8 337.7h3.35v3.66h-3.35z"/><path fill="#f48c1c" d="M351.7 210.2h3.35v3.66h-3.35zM361.1 210.2h3.35v3.66h-3.35zM304.7 230.9h3.35v3.66h-3.35zM345.4 220.6h3.35v3.66h-3.35zM354.8 217.1h3.35v3.66h-3.35zM348.6 220.6h3.35v3.66h-3.35zM348.6 230.9h3.35v3.66h-3.35zM367.3 227.4h3.35v3.66h-3.35zM392.4 224.0h3.35v3.66h-3.35zM314.1 241.2h3.35v3.66h-3.35zM323.5 234.3h3.35v3.66h-3.35zM326.6 237.8h3.35v3.66h-3.35zM373.6 234.3h3.35v3.66h-3.35zM373.6 237.8h3.35v3.66h-3.35zM383.0 237.8h3.35v3.66h-3.35zM292.2 255.0h3.35v3.66h-3.35zM289.1 258.4h3.35v3.66h-3.35zM307.9 268.8h3.35v3.66h-3.35zM311.0 268.8h3.35v3.66h-3.35zM311.0 272.2h3.35v3.66h-3.35zM404.9 261.9h3.35v3.66h-3.35zM408.0 261.9h3.35v3.66h-3.35zM420.5 265.3h3.35v3.66h-3.35zM423.7 265.3h3.35v3.66h-3.35zM285.9 306.7h3.35v3.66h-3.35zM314.1 303.2h3.35v3.66h-3.35zM311.0 306.7h3.35v3.66h-3.35zM314.1 306.7h3.35v3.66h-3.35zM408.0 299.8h3.35v3.66h-3.35zM401.8 303.2h3.35v3.66h-3.35zM404.9 313.6h3.35v3.66h-3.35zM320.4 320.4h3.35v3.66h-3.35zM329.8 327.3h3.35v3.66h-3.35zM332.9 323.9h3.35v3.66h-3.35zM348.6 330.8h3.35v3.66h-3.35zM354.8 334.2h3.35v3.66h-3.35zM370.5 330.8h3.35v3.66h-3.35zM389.2 317.0h3.35v3.66h-3.35zM414.3 323.9h3.35v3.66h-3.35zM417.4 323.9h3.35v3.66h-3.35zM364.2 344.6h3.35v3.66h-3.35zM367.3 354.9h3.35v3.66h-3.35zM370.5 354.9h3.35v3.66h-3.35zM389.2 337.7h3.35v3.66h-3.35zM392.4 337.7h3.35v3.66h-3.35zM383.0 344.6h3.35v3.66h-3.35zM379.9 348.0h3.35v3.66h-3.35zM395.5 341.1h3.35v3.66h-3.35zM361.1 358.3h3.35v3.66h-3.35z"/><path fill="#b4ec24" d="M364.2 206.8h3.35v3.66h-3.35zM354.8 234.3h3.35v3.66h-3.35zM354.8 237.8h3.35v3.66h-3.35zM354.8 244.7h3.35v3.66h-3.35zM376.7 241.2h3.35v3.66h-3.35zM389.2 241.2h3.35v3.66h-3.35zM383.0 251.6h3.35v3.66h-3.35zM404.9 234.3h3.35v3.66h-3.35zM404.9 244.7h3.35v3.66h-3.35zM395.5 248.1h3.35v3.66h-3.35zM417.4 244.7h3.35v3.66h-3.35zM317.2 261.9h3.35v3.66h-3.35zM361.1 261.9h3.35v3.66h-3.35zM395.5 255.0h3.35v3.66h-3.35zM398.6 255.0h3.35v3.66h-3.35zM426.8 268.8h3.35v3.66h-3.35zM426.8 272.2h3.35v3.66h-3.35zM329.8 275.7h3.35v3.66h-3.35zM323.5 282.6h3.35v3.66h-3.35zM354.8 282.6h3.35v3.66h-3.35zM357.9 282.6h3.35v3.66h-3.35zM351.7 286.0h3.35v3.66h-3.35zM373.6 279.1h3.35v3.66h-3.35zM367.3 292.9h3.35v3.66h-3.35zM398.6 282.6h3.35v3.66h-3.35zM426.8 286.0h3.35v3.66h-3.35zM429.9 286.0h3.35v3.66h-3.35zM317.2 299.8h3.35v3.66h-3.35zM326.6 313.6h3.35v3.66h-3.35zM339.2 303.2h3.35v3.66h-3.35zM379.9 306.7h3.35v3.66h-3.35zM351.7 320.4h3.35v3.66h-3.35z"/><path fill="#ecf424" d="M367.3 210.2h3.35v3.66h-3.35zM395.5 227.4h3.35v3.66h-3.35zM323.5 241.2h3.35v3.66h-3.35zM317.2 251.6h3.35v3.66h-3.35zM364.2 237.8h3.35v3.66h-3.35zM370.5 237.8h3.35v3.66h-3.35zM386.1 244.7h3.35v3.66h-3.35zM404.9 248.1h3.35v3.66h-3.35zM404.9 251.6h3.35v3.66h-3.35zM320.4 255.0h3.35v3.66h-3.35zM404.9 255.0h3.35v3.66h-3.35zM404.9 268.8h3.35v3.66h-3.35zM404.9 272.2h3.35v3.66h-3.35zM414.3 255.0h3.35v3.66h-3.35zM417.4 255.0h3.35v3.66h-3.35zM417.4 272.2h3.35v3.66h-3.35zM420.5 272.2h3.35v3.66h-3.35zM282.8 275.7h3.35v3.66h-3.35zM314.1 282.6h3.35v3.66h-3.35zM408.0 275.7h3.35v3.66h-3.35zM404.9 279.1h3.35v3.66h-3.35zM404.9 282.6h3.35v3.66h-3.35zM414.3 286.0h3.35v3.66h-3.35zM320.4 303.2h3.35v3.66h-3.35zM389.2 306.7h3.35v3.66h-3.35zM326.6 317.0h3.35v3.66h-3.35zM329.8 320.4h3.35v3.66h-3.35zM332.9 317.0h3.35v3.66h-3.35zM376.7 317.0h3.35v3.66h-3.35zM364.2 320.4h3.35v3.66h-3.35zM354.8 358.3h3.35v3.66h-3.35z"/><path fill="#f4ec24" d="M370.5 210.2h3.35v3.66h-3.35zM361.1 227.4h3.35v3.66h-3.35zM357.9 230.9h3.35v3.66h-3.35zM361.1 230.9h3.35v3.66h-3.35zM401.8 227.4h3.35v3.66h-3.35zM398.6 230.9h3.35v3.66h-3.35zM323.5 244.7h3.35v3.66h-3.35zM320.4 248.1h3.35v3.66h-3.35zM408.0 248.1h3.35v3.66h-3.35zM317.2 255.0h3.35v3.66h-3.35zM404.9 258.4h3.35v3.66h-3.35zM408.0 258.4h3.35v3.66h-3.35zM420.5 268.8h3.35v3.66h-3.35zM404.9 289.4h3.35v3.66h-3.35zM320.4 306.7h3.35v3.66h-3.35zM323.5 306.7h3.35v3.66h-3.35zM317.2 310.1h3.35v3.66h-3.35zM392.4 303.2h3.35v3.66h-3.35zM386.1 310.1h3.35v3.66h-3.35zM326.6 320.4h3.35v3.66h-3.35zM345.4 323.9h3.35v3.66h-3.35zM348.6 327.3h3.35v3.66h-3.35zM364.2 323.9h3.35v3.66h-3.35zM404.9 334.2h3.35v3.66h-3.35zM376.7 351.4h3.35v3.66h-3.35zM376.7 354.9h3.35v3.66h-3.35z"/><path fill="#94ec24" d="M379.9 210.2h3.35v3.66h-3.35zM408.0 230.9h3.35v3.66h-3.35zM326.6 251.6h3.35v3.66h-3.35zM348.6 237.8h3.35v3.66h-3.35zM351.7 237.8h3.35v3.66h-3.35zM392.4 244.7h3.35v3.66h-3.35zM398.6 241.2h3.35v3.66h-3.35zM401.8 241.2h3.35v3.66h-3.35zM414.3 234.3h3.35v3.66h-3.35zM414.3 241.2h3.35v3.66h-3.35zM417.4 241.2h3.35v3.66h-3.35zM414.3 244.7h3.35v3.66h-3.35zM320.4 261.9h3.35v3.66h-3.35zM401.8 261.9h3.35v3.66h-3.35zM398.6 265.3h3.35v3.66h-3.35zM398.6 268.8h3.35v3.66h-3.35zM395.5 272.2h3.35v3.66h-3.35zM401.8 272.2h3.35v3.66h-3.35zM429.9 268.8h3.35v3.66h-3.35zM314.1 289.4h3.35v3.66h-3.35zM320.4 275.7h3.35v3.66h-3.35zM317.2 286.0h3.35v3.66h-3.35zM323.5 286.0h3.35v3.66h-3.35zM348.6 275.7h3.35v3.66h-3.35zM361.1 282.6h3.35v3.66h-3.35zM351.7 289.4h3.35v3.66h-3.35zM376.7 275.7h3.35v3.66h-3.35zM376.7 279.1h3.35v3.66h-3.35zM367.3 289.4h3.35v3.66h-3.35zM401.8 275.7h3.35v3.66h-3.35zM317.2 296.3h3.35v3.66h-3.35zM326.6 296.3h3.35v3.66h-3.35zM351.7 296.3h3.35v3.66h-3.35zM383.0 303.2h3.35v3.66h-3.35zM383.0 306.7h3.35v3.66h-3.35zM357.9 317.0h3.35v3.66h-3.35zM348.6 320.4h3.35v3.66h-3.35zM354.8 320.4h3.35v3.66h-3.35zM395.5 344.6h3.35v3.66h-3.35z"/><path fill="#f41414" d="M314.1 220.6h3.35v3.66h-3.35zM311.0 224.0h3.35v3.66h-3.35zM314.1 224.0h3.35v3.66h-3.35zM311.0 227.4h3.35v3.66h-3.35zM314.1 227.4h3.35v3.66h-3.35zM326.6 213.7h3.35v3.66h-3.35zM323.5 217.1h3.35v3.66h-3.35zM317.2 220.6h3.35v3.66h-3.35zM320.4 220.6h3.35v3.66h-3.35zM326.6 220.6h3.35v3.66h-3.35zM323.5 224.0h3.35v3.66h-3.35zM320.4 230.9h3.35v3.66h-3.35zM323.5 230.9h3.35v3.66h-3.35zM345.4 213.7h3.35v3.66h-3.35zM332.9 217.1h3.35v3.66h-3.35zM332.9 220.6h3.35v3.66h-3.35zM339.2 220.6h3.35v3.66h-3.35zM336.0 224.0h3.35v3.66h-3.35zM332.9 230.9h3.35v3.66h-3.35zM336.0 230.9h3.35v3.66h-3.35zM361.1 220.6h3.35v3.66h-3.35zM357.9 224.0h3.35v3.66h-3.35zM373.6 224.0h3.35v3.66h-3.35zM379.9 213.7h3.35v3.66h-3.35zM379.9 217.1h3.35v3.66h-3.35zM383.0 217.1h3.35v3.66h-3.35zM386.1 220.6h3.35v3.66h-3.35zM379.9 224.0h3.35v3.66h-3.35zM386.1 224.0h3.35v3.66h-3.35zM298.5 237.8h3.35v3.66h-3.35zM295.3 241.2h3.35v3.66h-3.35zM292.2 248.1h3.35v3.66h-3.35zM295.3 248.1h3.35v3.66h-3.35zM298.5 251.6h3.35v3.66h-3.35zM301.6 234.3h3.35v3.66h-3.35zM307.9 237.8h3.35v3.66h-3.35zM311.0 237.8h3.35v3.66h-3.35zM301.6 241.2h3.35v3.66h-3.35zM304.7 251.6h3.35v3.66h-3.35zM307.9 251.6h3.35v3.66h-3.35zM295.3 258.4h3.35v3.66h-3.35zM298.5 265.3h3.35v3.66h-3.35zM295.3 268.8h3.35v3.66h-3.35zM289.1 272.2h3.35v3.66h-3.35zM295.3 272.2h3.35v3.66h-3.35zM298.5 272.2h3.35v3.66h-3.35zM304.7 255.0h3.35v3.66h-3.35zM295.3 275.7h3.35v3.66h-3.35zM295.3 282.6h3.35v3.66h-3.35zM289.1 292.9h3.35v3.66h-3.35zM298.5 292.9h3.35v3.66h-3.35zM307.9 275.7h3.35v3.66h-3.35zM292.2 296.3h3.35v3.66h-3.35zM292.2 299.8h3.35v3.66h-3.35zM295.3 299.8h3.35v3.66h-3.35zM295.3 310.1h3.35v3.66h-3.35zM292.2 313.6h3.35v3.66h-3.35zM307.9 296.3h3.35v3.66h-3.35zM304.7 299.8h3.35v3.66h-3.35zM307.9 299.8h3.35v3.66h-3.35zM307.9 306.7h3.35v3.66h-3.35zM304.7 310.1h3.35v3.66h-3.35zM301.6 313.6h3.35v3.66h-3.35zM307.9 313.6h3.35v3.66h-3.35zM395.5 310.1h3.35v3.66h-3.35zM411.1 296.3h3.35v3.66h-3.35zM420.5 299.8h3.35v3.66h-3.35zM411.1 303.2h3.35v3.66h-3.35zM414.3 303.2h3.35v3.66h-3.35zM420.5 303.2h3.35v3.66h-3.35zM423.7 303.2h3.35v3.66h-3.35zM411.1 306.7h3.35v3.66h-3.35zM414.3 313.6h3.35v3.66h-3.35zM295.3 317.0h3.35v3.66h-3.35zM295.3 320.4h3.35v3.66h-3.35zM298.5 327.3h3.35v3.66h-3.35zM301.6 317.0h3.35v3.66h-3.35zM301.6 320.4h3.35v3.66h-3.35zM301.6 323.9h3.35v3.66h-3.35zM304.7 323.9h3.35v3.66h-3.35zM314.1 323.9h3.35v3.66h-3.35zM301.6 327.3h3.35v3.66h-3.35zM307.9 327.3h3.35v3.66h-3.35zM304.7 330.8h3.35v3.66h-3.35zM307.9 334.2h3.35v3.66h-3.35zM311.0 334.2h3.35v3.66h-3.35zM314.1 334.2h3.35v3.66h-3.35zM323.5 327.3h3.35v3.66h-3.35zM323.5 334.2h3.35v3.66h-3.35zM326.6 334.2h3.35v3.66h-3.35zM329.8 334.2h3.35v3.66h-3.35zM336.0 330.8h3.35v3.66h-3.35zM342.3 330.8h3.35v3.66h-3.35zM345.4 330.8h3.35v3.66h-3.35zM332.9 334.2h3.35v3.66h-3.35zM345.4 334.2h3.35v3.66h-3.35zM373.6 330.8h3.35v3.66h-3.35zM379.9 323.9h3.35v3.66h-3.35zM383.0 323.9h3.35v3.66h-3.35zM392.4 323.9h3.35v3.66h-3.35zM389.2 327.3h3.35v3.66h-3.35zM392.4 327.3h3.35v3.66h-3.35zM379.9 330.8h3.35v3.66h-3.35zM386.1 330.8h3.35v3.66h-3.35zM392.4 330.8h3.35v3.66h-3.35zM379.9 334.2h3.35v3.66h-3.35zM383.0 334.2h3.35v3.66h-3.35zM392.4 334.2h3.35v3.66h-3.35zM395.5 317.0h3.35v3.66h-3.35zM398.6 317.0h3.35v3.66h-3.35zM408.0 317.0h3.35v3.66h-3.35zM404.9 320.4h3.35v3.66h-3.35zM401.8 323.9h3.35v3.66h-3.35zM398.6 334.2h3.35v3.66h-3.35zM401.8 334.2h3.35v3.66h-3.35zM414.3 320.4h3.35v3.66h-3.35zM411.1 330.8h3.35v3.66h-3.35zM311.0 337.7h3.35v3.66h-3.35zM320.4 337.7h3.35v3.66h-3.35zM323.5 337.7h3.35v3.66h-3.35zM317.2 344.6h3.35v3.66h-3.35zM323.5 344.6h3.35v3.66h-3.35zM326.6 348.0h3.35v3.66h-3.35zM326.6 351.4h3.35v3.66h-3.35zM329.8 351.4h3.35v3.66h-3.35zM332.9 337.7h3.35v3.66h-3.35zM339.2 337.7h3.35v3.66h-3.35zM342.3 337.7h3.35v3.66h-3.35zM345.4 337.7h3.35v3.66h-3.35zM339.2 341.1h3.35v3.66h-3.35zM342.3 341.1h3.35v3.66h-3.35zM345.4 341.1h3.35v3.66h-3.35zM336.0 344.6h3.35v3.66h-3.35zM339.2 344.6h3.35v3.66h-3.35zM332.9 348.0h3.35v3.66h-3.35zM339.2 348.0h3.35v3.66h-3.35zM339.2 351.4h3.35v3.66h-3.35zM332.9 354.9h3.35v3.66h-3.35zM361.1 341.1h3.35v3.66h-3.35zM351.7 348.0h3.35v3.66h-3.35zM357.9 348.0h3.35v3.66h-3.35zM361.1 354.9h3.35v3.66h-3.35zM367.3 337.7h3.35v3.66h-3.35z"/><path fill="#f46c1c" d="M307.9 227.4h3.35v3.66h-3.35zM342.3 227.4h3.35v3.66h-3.35zM348.6 217.1h3.35v3.66h-3.35zM348.6 227.4h3.35v3.66h-3.35zM373.6 230.9h3.35v3.66h-3.35zM389.2 224.0h3.35v3.66h-3.35zM386.1 227.4h3.35v3.66h-3.35zM383.0 230.9h3.35v3.66h-3.35zM392.4 230.9h3.35v3.66h-3.35zM292.2 237.8h3.35v3.66h-3.35zM285.9 244.7h3.35v3.66h-3.35zM311.0 248.1h3.35v3.66h-3.35zM320.4 234.3h3.35v3.66h-3.35zM323.5 237.8h3.35v3.66h-3.35zM376.7 237.8h3.35v3.66h-3.35zM392.4 234.3h3.35v3.66h-3.35zM392.4 237.8h3.35v3.66h-3.35zM289.1 255.0h3.35v3.66h-3.35zM289.1 261.9h3.35v3.66h-3.35zM292.2 261.9h3.35v3.66h-3.35zM285.9 265.3h3.35v3.66h-3.35zM285.9 272.2h3.35v3.66h-3.35zM314.1 261.9h3.35v3.66h-3.35zM311.0 265.3h3.35v3.66h-3.35zM307.9 272.2h3.35v3.66h-3.35zM314.1 272.2h3.35v3.66h-3.35zM423.7 261.9h3.35v3.66h-3.35zM304.7 282.6h3.35v3.66h-3.35zM301.6 289.4h3.35v3.66h-3.35zM411.1 279.1h3.35v3.66h-3.35zM414.3 279.1h3.35v3.66h-3.35zM423.7 282.6h3.35v3.66h-3.35zM285.9 299.8h3.35v3.66h-3.35zM285.9 303.2h3.35v3.66h-3.35zM289.1 306.7h3.35v3.66h-3.35zM311.0 303.2h3.35v3.66h-3.35zM392.4 310.1h3.35v3.66h-3.35zM408.0 296.3h3.35v3.66h-3.35zM395.5 306.7h3.35v3.66h-3.35zM420.5 310.1h3.35v3.66h-3.35zM423.7 310.1h3.35v3.66h-3.35zM317.2 317.0h3.35v3.66h-3.35zM320.4 317.0h3.35v3.66h-3.35zM361.1 330.8h3.35v3.66h-3.35zM373.6 337.7h3.35v3.66h-3.35zM376.7 337.7h3.35v3.66h-3.35zM370.5 348.0h3.35v3.66h-3.35zM364.2 351.4h3.35v3.66h-3.35zM367.3 351.4h3.35v3.66h-3.35zM379.9 337.7h3.35v3.66h-3.35zM383.0 337.7h3.35v3.66h-3.35zM386.1 337.7h3.35v3.66h-3.35zM379.9 341.1h3.35v3.66h-3.35zM386.1 344.6h3.35v3.66h-3.35z"/><path fill="#f4641c" d="M301.6 230.9h3.35v3.66h-3.35zM348.6 213.7h3.35v3.66h-3.35zM348.6 224.0h3.35v3.66h-3.35zM351.7 224.0h3.35v3.66h-3.35zM367.3 213.7h3.35v3.66h-3.35zM364.2 230.9h3.35v3.66h-3.35zM370.5 230.9h3.35v3.66h-3.35zM389.2 213.7h3.35v3.66h-3.35zM392.4 227.4h3.35v3.66h-3.35zM389.2 230.9h3.35v3.66h-3.35zM289.1 241.2h3.35v3.66h-3.35zM289.1 244.7h3.35v3.66h-3.35zM285.9 248.1h3.35v3.66h-3.35zM320.4 237.8h3.35v3.66h-3.35zM389.2 234.3h3.35v3.66h-3.35zM404.9 265.3h3.35v3.66h-3.35zM420.5 258.4h3.35v3.66h-3.35zM414.3 261.9h3.35v3.66h-3.35zM285.9 275.7h3.35v3.66h-3.35zM304.7 289.4h3.35v3.66h-3.35zM420.5 279.1h3.35v3.66h-3.35zM311.0 310.1h3.35v3.66h-3.35zM392.4 313.6h3.35v3.66h-3.35zM408.0 310.1h3.35v3.66h-3.35zM420.5 313.6h3.35v3.66h-3.35zM423.7 313.6h3.35v3.66h-3.35zM351.7 334.2h3.35v3.66h-3.35zM376.7 323.9h3.35v3.66h-3.35zM376.7 327.3h3.35v3.66h-3.35zM370.5 334.2h3.35v3.66h-3.35zM345.4 351.4h3.35v3.66h-3.35zM376.7 341.1h3.35v3.66h-3.35zM370.5 344.6h3.35v3.66h-3.35zM364.2 348.0h3.35v3.66h-3.35zM367.3 348.0h3.35v3.66h-3.35zM373.6 348.0h3.35v3.66h-3.35zM389.2 341.1h3.35v3.66h-3.35zM379.9 344.6h3.35v3.66h-3.35z"/><path fill="#f43c14" d="M311.0 230.9h3.35v3.66h-3.35zM329.8 213.7h3.35v3.66h-3.35zM320.4 227.4h3.35v3.66h-3.35zM332.9 213.7h3.35v3.66h-3.35zM339.2 224.0h3.35v3.66h-3.35zM373.6 213.7h3.35v3.66h-3.35zM386.1 217.1h3.35v3.66h-3.35zM379.9 220.6h3.35v3.66h-3.35zM298.5 241.2h3.35v3.66h-3.35zM295.3 244.7h3.35v3.66h-3.35zM292.2 251.6h3.35v3.66h-3.35zM304.7 234.3h3.35v3.66h-3.35zM314.1 237.8h3.35v3.66h-3.35zM301.6 244.7h3.35v3.66h-3.35zM304.7 244.7h3.35v3.66h-3.35zM298.5 258.4h3.35v3.66h-3.35zM292.2 272.2h3.35v3.66h-3.35zM301.6 261.9h3.35v3.66h-3.35zM289.1 275.7h3.35v3.66h-3.35zM292.2 275.7h3.35v3.66h-3.35zM298.5 275.7h3.35v3.66h-3.35zM292.2 279.1h3.35v3.66h-3.35zM295.3 279.1h3.35v3.66h-3.35zM285.9 289.4h3.35v3.66h-3.35zM301.6 279.1h3.35v3.66h-3.35zM307.9 279.1h3.35v3.66h-3.35zM295.3 296.3h3.35v3.66h-3.35zM298.5 296.3h3.35v3.66h-3.35zM292.2 306.7h3.35v3.66h-3.35zM298.5 310.1h3.35v3.66h-3.35zM298.5 313.6h3.35v3.66h-3.35zM301.6 299.8h3.35v3.66h-3.35zM301.6 303.2h3.35v3.66h-3.35zM408.0 303.2h3.35v3.66h-3.35zM398.6 310.1h3.35v3.66h-3.35zM401.8 310.1h3.35v3.66h-3.35zM417.4 296.3h3.35v3.66h-3.35zM420.5 296.3h3.35v3.66h-3.35zM423.7 296.3h3.35v3.66h-3.35zM423.7 299.8h3.35v3.66h-3.35zM417.4 303.2h3.35v3.66h-3.35zM423.7 306.7h3.35v3.66h-3.35zM307.9 320.4h3.35v3.66h-3.35zM311.0 320.4h3.35v3.66h-3.35zM311.0 327.3h3.35v3.66h-3.35zM301.6 334.2h3.35v3.66h-3.35zM320.4 323.9h3.35v3.66h-3.35zM320.4 327.3h3.35v3.66h-3.35zM317.2 330.8h3.35v3.66h-3.35zM323.5 330.8h3.35v3.66h-3.35zM332.9 330.8h3.35v3.66h-3.35zM395.5 320.4h3.35v3.66h-3.35zM395.5 330.8h3.35v3.66h-3.35zM395.5 334.2h3.35v3.66h-3.35zM414.3 317.0h3.35v3.66h-3.35zM417.4 317.0h3.35v3.66h-3.35zM411.1 320.4h3.35v3.66h-3.35zM311.0 341.1h3.35v3.66h-3.35zM317.2 341.1h3.35v3.66h-3.35zM323.5 341.1h3.35v3.66h-3.35zM329.8 341.1h3.35v3.66h-3.35zM320.4 348.0h3.35v3.66h-3.35zM336.0 348.0h3.35v3.66h-3.35zM354.8 348.0h3.35v3.66h-3.35zM361.1 348.0h3.35v3.66h-3.35zM348.6 354.9h3.35v3.66h-3.35zM357.9 354.9h3.35v3.66h-3.35z"/><path fill="#f43414" d="M314.1 230.9h3.35v3.66h-3.35zM320.4 217.1h3.35v3.66h-3.35zM329.8 220.6h3.35v3.66h-3.35zM317.2 227.4h3.35v3.66h-3.35zM342.3 217.1h3.35v3.66h-3.35zM332.9 224.0h3.35v3.66h-3.35zM332.9 227.4h3.35v3.66h-3.35zM336.0 227.4h3.35v3.66h-3.35zM376.7 217.1h3.35v3.66h-3.35zM376.7 224.0h3.35v3.66h-3.35zM386.1 213.7h3.35v3.66h-3.35zM307.9 234.3h3.35v3.66h-3.35zM314.1 234.3h3.35v3.66h-3.35zM304.7 237.8h3.35v3.66h-3.35zM295.3 255.0h3.35v3.66h-3.35zM298.5 255.0h3.35v3.66h-3.35zM292.2 268.8h3.35v3.66h-3.35zM301.6 258.4h3.35v3.66h-3.35zM304.7 258.4h3.35v3.66h-3.35zM304.7 265.3h3.35v3.66h-3.35zM289.1 279.1h3.35v3.66h-3.35zM298.5 282.6h3.35v3.66h-3.35zM292.2 286.0h3.35v3.66h-3.35zM298.5 289.4h3.35v3.66h-3.35zM295.3 292.9h3.35v3.66h-3.35zM304.7 275.7h3.35v3.66h-3.35zM289.1 296.3h3.35v3.66h-3.35zM298.5 299.8h3.35v3.66h-3.35zM295.3 303.2h3.35v3.66h-3.35zM301.6 306.7h3.35v3.66h-3.35zM304.7 313.6h3.35v3.66h-3.35zM404.9 303.2h3.35v3.66h-3.35zM411.1 310.1h3.35v3.66h-3.35zM414.3 310.1h3.35v3.66h-3.35zM307.9 317.0h3.35v3.66h-3.35zM304.7 327.3h3.35v3.66h-3.35zM317.2 334.2h3.35v3.66h-3.35zM376.7 330.8h3.35v3.66h-3.35zM386.1 323.9h3.35v3.66h-3.35zM383.0 327.3h3.35v3.66h-3.35zM389.2 330.8h3.35v3.66h-3.35zM398.6 320.4h3.35v3.66h-3.35zM398.6 323.9h3.35v3.66h-3.35zM408.0 323.9h3.35v3.66h-3.35zM398.6 330.8h3.35v3.66h-3.35zM411.1 317.0h3.35v3.66h-3.35zM326.6 337.7h3.35v3.66h-3.35zM329.8 337.7h3.35v3.66h-3.35zM348.6 344.6h3.35v3.66h-3.35zM348.6 351.4h3.35v3.66h-3.35zM354.8 351.4h3.35v3.66h-3.35zM351.7 354.9h3.35v3.66h-3.35zM354.8 354.9h3.35v3.66h-3.35zM367.3 341.1h3.35v3.66h-3.35z"/><path fill="#f42c14" d="M326.6 217.1h3.35v3.66h-3.35zM323.5 220.6h3.35v3.66h-3.35zM317.2 224.0h3.35v3.66h-3.35zM345.4 217.1h3.35v3.66h-3.35zM336.0 220.6h3.35v3.66h-3.35zM361.1 224.0h3.35v3.66h-3.35zM376.7 213.7h3.35v3.66h-3.35zM295.3 234.3h3.35v3.66h-3.35zM298.5 248.1h3.35v3.66h-3.35zM289.1 251.6h3.35v3.66h-3.35zM295.3 251.6h3.35v3.66h-3.35zM311.0 234.3h3.35v3.66h-3.35zM304.7 241.2h3.35v3.66h-3.35zM295.3 265.3h3.35v3.66h-3.35zM307.9 255.0h3.35v3.66h-3.35zM285.9 282.6h3.35v3.66h-3.35zM292.2 289.4h3.35v3.66h-3.35zM292.2 292.9h3.35v3.66h-3.35zM298.5 303.2h3.35v3.66h-3.35zM295.3 306.7h3.35v3.66h-3.35zM292.2 310.1h3.35v3.66h-3.35zM301.6 296.3h3.35v3.66h-3.35zM395.5 313.6h3.35v3.66h-3.35zM414.3 296.3h3.35v3.66h-3.35zM417.4 299.8h3.35v3.66h-3.35zM414.3 306.7h3.35v3.66h-3.35zM420.5 306.7h3.35v3.66h-3.35zM411.1 313.6h3.35v3.66h-3.35zM417.4 313.6h3.35v3.66h-3.35zM304.7 320.4h3.35v3.66h-3.35zM314.1 330.8h3.35v3.66h-3.35zM317.2 327.3h3.35v3.66h-3.35zM320.4 330.8h3.35v3.66h-3.35zM326.6 330.8h3.35v3.66h-3.35zM342.3 334.2h3.35v3.66h-3.35zM404.9 323.9h3.35v3.66h-3.35zM401.8 327.3h3.35v3.66h-3.35zM417.4 320.4h3.35v3.66h-3.35zM411.1 334.2h3.35v3.66h-3.35zM314.1 341.1h3.35v3.66h-3.35zM317.2 337.7h3.35v3.66h-3.35zM326.6 344.6h3.35v3.66h-3.35zM329.8 344.6h3.35v3.66h-3.35zM323.5 348.0h3.35v3.66h-3.35zM345.4 344.6h3.35v3.66h-3.35zM336.0 351.4h3.35v3.66h-3.35zM361.1 344.6h3.35v3.66h-3.35zM351.7 351.4h3.35v3.66h-3.35zM364.2 337.7h3.35v3.66h-3.35zM370.5 341.1h3.35v3.66h-3.35z"/><path fill="#f42414" d="M329.8 217.1h3.35v3.66h-3.35zM320.4 224.0h3.35v3.66h-3.35zM323.5 227.4h3.35v3.66h-3.35zM329.8 227.4h3.35v3.66h-3.35zM329.8 230.9h3.35v3.66h-3.35zM336.0 213.7h3.35v3.66h-3.35zM339.2 213.7h3.35v3.66h-3.35zM342.3 213.7h3.35v3.66h-3.35zM336.0 217.1h3.35v3.66h-3.35zM373.6 220.6h3.35v3.66h-3.35zM298.5 234.3h3.35v3.66h-3.35zM298.5 244.7h3.35v3.66h-3.35zM307.9 244.7h3.35v3.66h-3.35zM304.7 248.1h3.35v3.66h-3.35zM301.6 251.6h3.35v3.66h-3.35zM289.1 268.8h3.35v3.66h-3.35zM298.5 268.8h3.35v3.66h-3.35zM307.9 258.4h3.35v3.66h-3.35zM304.7 261.9h3.35v3.66h-3.35zM285.9 279.1h3.35v3.66h-3.35zM289.1 282.6h3.35v3.66h-3.35zM295.3 286.0h3.35v3.66h-3.35zM295.3 289.4h3.35v3.66h-3.35zM301.6 275.7h3.35v3.66h-3.35zM295.3 313.6h3.35v3.66h-3.35zM304.7 296.3h3.35v3.66h-3.35zM304.7 303.2h3.35v3.66h-3.35zM304.7 306.7h3.35v3.66h-3.35zM404.9 306.7h3.35v3.66h-3.35zM408.0 306.7h3.35v3.66h-3.35zM401.8 313.6h3.35v3.66h-3.35zM411.1 299.8h3.35v3.66h-3.35zM417.4 310.1h3.35v3.66h-3.35zM298.5 317.0h3.35v3.66h-3.35zM304.7 317.0h3.35v3.66h-3.35zM314.1 320.4h3.35v3.66h-3.35zM311.0 323.9h3.35v3.66h-3.35zM301.6 330.8h3.35v3.66h-3.35zM317.2 323.9h3.35v3.66h-3.35zM323.5 323.9h3.35v3.66h-3.35zM320.4 334.2h3.35v3.66h-3.35zM336.0 334.2h3.35v3.66h-3.35zM339.2 334.2h3.35v3.66h-3.35zM379.9 327.3h3.35v3.66h-3.35zM383.0 330.8h3.35v3.66h-3.35zM386.1 334.2h3.35v3.66h-3.35zM404.9 317.0h3.35v3.66h-3.35zM320.4 341.1h3.35v3.66h-3.35zM332.9 341.1h3.35v3.66h-3.35zM342.3 348.0h3.35v3.66h-3.35zM332.9 351.4h3.35v3.66h-3.35zM357.9 337.7h3.35v3.66h-3.35zM351.7 344.6h3.35v3.66h-3.35zM354.8 344.6h3.35v3.66h-3.35zM370.5 337.7h3.35v3.66h-3.35zM364.2 341.1h3.35v3.66h-3.35z"/><path fill="#f41c14" d="M326.6 224.0h3.35v3.66h-3.35zM329.8 224.0h3.35v3.66h-3.35zM326.6 227.4h3.35v3.66h-3.35zM326.6 230.9h3.35v3.66h-3.35zM339.2 217.1h3.35v3.66h-3.35zM339.2 227.4h3.35v3.66h-3.35zM339.2 230.9h3.35v3.66h-3.35zM357.9 220.6h3.35v3.66h-3.35zM373.6 217.1h3.35v3.66h-3.35zM376.7 220.6h3.35v3.66h-3.35zM383.0 213.7h3.35v3.66h-3.35zM383.0 224.0h3.35v3.66h-3.35zM295.3 237.8h3.35v3.66h-3.35zM292.2 244.7h3.35v3.66h-3.35zM289.1 248.1h3.35v3.66h-3.35zM301.6 237.8h3.35v3.66h-3.35zM307.9 241.2h3.35v3.66h-3.35zM301.6 248.1h3.35v3.66h-3.35zM307.9 248.1h3.35v3.66h-3.35zM295.3 261.9h3.35v3.66h-3.35zM298.5 261.9h3.35v3.66h-3.35zM301.6 255.0h3.35v3.66h-3.35zM301.6 265.3h3.35v3.66h-3.35zM307.9 265.3h3.35v3.66h-3.35zM285.9 286.0h3.35v3.66h-3.35zM289.1 286.0h3.35v3.66h-3.35zM298.5 286.0h3.35v3.66h-3.35zM289.1 289.4h3.35v3.66h-3.35zM304.7 279.1h3.35v3.66h-3.35zM292.2 303.2h3.35v3.66h-3.35zM298.5 306.7h3.35v3.66h-3.35zM307.9 303.2h3.35v3.66h-3.35zM301.6 310.1h3.35v3.66h-3.35zM307.9 310.1h3.35v3.66h-3.35zM398.6 313.6h3.35v3.66h-3.35zM414.3 299.8h3.35v3.66h-3.35zM298.5 323.9h3.35v3.66h-3.35zM311.0 317.0h3.35v3.66h-3.35zM314.1 317.0h3.35v3.66h-3.35zM314.1 327.3h3.35v3.66h-3.35zM307.9 330.8h3.35v3.66h-3.35zM304.7 334.2h3.35v3.66h-3.35zM339.2 330.8h3.35v3.66h-3.35zM373.6 334.2h3.35v3.66h-3.35zM376.7 334.2h3.35v3.66h-3.35zM386.1 327.3h3.35v3.66h-3.35zM389.2 334.2h3.35v3.66h-3.35zM401.8 317.0h3.35v3.66h-3.35zM401.8 320.4h3.35v3.66h-3.35zM408.0 320.4h3.35v3.66h-3.35zM395.5 323.9h3.35v3.66h-3.35zM398.6 327.3h3.35v3.66h-3.35zM404.9 327.3h3.35v3.66h-3.35zM408.0 327.3h3.35v3.66h-3.35zM401.8 330.8h3.35v3.66h-3.35zM414.3 330.8h3.35v3.66h-3.35zM326.6 341.1h3.35v3.66h-3.35zM320.4 344.6h3.35v3.66h-3.35zM332.9 344.6h3.35v3.66h-3.35zM342.3 344.6h3.35v3.66h-3.35zM345.4 348.0h3.35v3.66h-3.35zM339.2 354.9h3.35v3.66h-3.35zM361.1 337.7h3.35v3.66h-3.35zM357.9 344.6h3.35v3.66h-3.35zM348.6 348.0h3.35v3.66h-3.35zM357.9 351.4h3.35v3.66h-3.35zM361.1 351.4h3.35v3.66h-3.35z"/><path fill="#f44414" d="M317.2 230.9h3.35v3.66h-3.35zM383.0 220.6h3.35v3.66h-3.35zM292.2 241.2h3.35v3.66h-3.35zM307.9 261.9h3.35v3.66h-3.35zM292.2 282.6h3.35v3.66h-3.35zM289.1 303.2h3.35v3.66h-3.35zM417.4 306.7h3.35v3.66h-3.35zM298.5 320.4h3.35v3.66h-3.35zM307.9 323.9h3.35v3.66h-3.35zM311.0 330.8h3.35v3.66h-3.35zM389.2 323.9h3.35v3.66h-3.35zM395.5 327.3h3.35v3.66h-3.35zM314.1 337.7h3.35v3.66h-3.35zM329.8 348.0h3.35v3.66h-3.35zM336.0 337.7h3.35v3.66h-3.35zM336.0 341.1h3.35v3.66h-3.35zM336.0 354.9h3.35v3.66h-3.35zM357.9 341.1h3.35v3.66h-3.35z"/><path fill="#f47c1c" d="M342.3 220.6h3.35v3.66h-3.35zM354.8 213.7h3.35v3.66h-3.35zM351.7 217.1h3.35v3.66h-3.35zM351.7 220.6h3.35v3.66h-3.35zM367.3 220.6h3.35v3.66h-3.35zM367.3 224.0h3.35v3.66h-3.35zM364.2 227.4h3.35v3.66h-3.35zM373.6 227.4h3.35v3.66h-3.35zM389.2 220.6h3.35v3.66h-3.35zM379.9 227.4h3.35v3.66h-3.35zM386.1 230.9h3.35v3.66h-3.35zM311.0 251.6h3.35v3.66h-3.35zM317.2 237.8h3.35v3.66h-3.35zM389.2 237.8h3.35v3.66h-3.35zM289.1 265.3h3.35v3.66h-3.35zM304.7 268.8h3.35v3.66h-3.35zM420.5 255.0h3.35v3.66h-3.35zM411.1 261.9h3.35v3.66h-3.35zM417.4 261.9h3.35v3.66h-3.35zM414.3 265.3h3.35v3.66h-3.35zM417.4 265.3h3.35v3.66h-3.35zM307.9 282.6h3.35v3.66h-3.35zM307.9 286.0h3.35v3.66h-3.35zM420.5 275.7h3.35v3.66h-3.35zM423.7 275.7h3.35v3.66h-3.35zM417.4 279.1h3.35v3.66h-3.35zM423.7 286.0h3.35v3.66h-3.35zM285.9 296.3h3.35v3.66h-3.35zM289.1 313.6h3.35v3.66h-3.35zM389.2 310.1h3.35v3.66h-3.35zM404.9 296.3h3.35v3.66h-3.35zM323.5 317.0h3.35v3.66h-3.35zM357.9 334.2h3.35v3.66h-3.35zM367.3 344.6h3.35v3.66h-3.35zM370.5 351.4h3.35v3.66h-3.35zM383.0 348.0h3.35v3.66h-3.35zM395.5 337.7h3.35v3.66h-3.35zM398.6 341.1h3.35v3.66h-3.35z"/><path fill="#f4741c" d="M345.4 230.9h3.35v3.66h-3.35zM357.9 213.7h3.35v3.66h-3.35zM361.1 213.7h3.35v3.66h-3.35zM351.7 230.9h3.35v3.66h-3.35zM370.5 213.7h3.35v3.66h-3.35zM370.5 217.1h3.35v3.66h-3.35zM364.2 224.0h3.35v3.66h-3.35zM392.4 220.6h3.35v3.66h-3.35zM314.1 244.7h3.35v3.66h-3.35zM314.1 248.1h3.35v3.66h-3.35zM317.2 234.3h3.35v3.66h-3.35zM326.6 234.3h3.35v3.66h-3.35zM376.7 234.3h3.35v3.66h-3.35zM386.1 234.3h3.35v3.66h-3.35zM379.9 237.8h3.35v3.66h-3.35zM420.5 261.9h3.35v3.66h-3.35zM282.8 289.4h3.35v3.66h-3.35zM304.7 286.0h3.35v3.66h-3.35zM304.7 292.9h3.35v3.66h-3.35zM411.1 275.7h3.35v3.66h-3.35zM423.7 279.1h3.35v3.66h-3.35zM420.5 282.6h3.35v3.66h-3.35zM311.0 296.3h3.35v3.66h-3.35zM314.1 313.6h3.35v3.66h-3.35zM389.2 313.6h3.35v3.66h-3.35zM398.6 303.2h3.35v3.66h-3.35zM408.0 313.6h3.35v3.66h-3.35zM348.6 334.2h3.35v3.66h-3.35zM348.6 337.7h3.35v3.66h-3.35zM386.1 341.1h3.35v3.66h-3.35zM392.4 341.1h3.35v3.66h-3.35zM398.6 337.7h3.35v3.66h-3.35zM401.8 341.1h3.35v3.66h-3.35zM357.9 358.3h3.35v3.66h-3.35z"/><path fill="#f4f424" d="M357.9 227.4h3.35v3.66h-3.35zM398.6 227.4h3.35v3.66h-3.35zM317.2 241.2h3.35v3.66h-3.35zM320.4 251.6h3.35v3.66h-3.35zM386.1 241.2h3.35v3.66h-3.35zM408.0 251.6h3.35v3.66h-3.35zM311.0 255.0h3.35v3.66h-3.35zM411.1 268.8h3.35v3.66h-3.35zM423.7 268.8h3.35v3.66h-3.35zM314.1 279.1h3.35v3.66h-3.35zM423.7 289.4h3.35v3.66h-3.35zM411.1 292.9h3.35v3.66h-3.35zM317.2 303.2h3.35v3.66h-3.35zM323.5 310.1h3.35v3.66h-3.35zM389.2 303.2h3.35v3.66h-3.35zM392.4 306.7h3.35v3.66h-3.35zM379.9 310.1h3.35v3.66h-3.35zM395.5 296.3h3.35v3.66h-3.35zM336.0 317.0h3.35v3.66h-3.35zM351.7 327.3h3.35v3.66h-3.35zM354.8 327.3h3.35v3.66h-3.35zM420.5 320.4h3.35v3.66h-3.35zM404.9 337.7h3.35v3.66h-3.35zM404.9 341.1h3.35v3.66h-3.35z"/><path fill="#f4e424" d="M395.5 230.9h3.35v3.66h-3.35zM401.8 230.9h3.35v3.66h-3.35zM323.5 248.1h3.35v3.66h-3.35zM336.0 237.8h3.35v3.66h-3.35zM311.0 258.4h3.35v3.66h-3.35zM408.0 272.2h3.35v3.66h-3.35zM417.4 268.8h3.35v3.66h-3.35zM423.7 272.2h3.35v3.66h-3.35zM320.4 310.1h3.35v3.66h-3.35zM317.2 313.6h3.35v3.66h-3.35zM401.8 299.8h3.35v3.66h-3.35zM345.4 327.3h3.35v3.66h-3.35zM348.6 323.9h3.35v3.66h-3.35zM357.9 323.9h3.35v3.66h-3.35zM364.2 317.0h3.35v3.66h-3.35zM386.1 317.0h3.35v3.66h-3.35zM386.1 320.4h3.35v3.66h-3.35zM373.6 351.4h3.35v3.66h-3.35zM379.9 354.9h3.35v3.66h-3.35zM348.6 358.3h3.35v3.66h-3.35z"/><path fill="#e4ec24" d="M317.2 244.7h3.35v3.66h-3.35zM320.4 244.7h3.35v3.66h-3.35zM332.9 234.3h3.35v3.66h-3.35zM336.0 234.3h3.35v3.66h-3.35zM367.3 234.3h3.35v3.66h-3.35zM370.5 234.3h3.35v3.66h-3.35zM383.0 241.2h3.35v3.66h-3.35zM417.4 251.6h3.35v3.66h-3.35zM323.5 255.0h3.35v3.66h-3.35zM320.4 258.4h3.35v3.66h-3.35zM408.0 268.8h3.35v3.66h-3.35zM411.1 255.0h3.35v3.66h-3.35zM411.1 258.4h3.35v3.66h-3.35zM411.1 272.2h3.35v3.66h-3.35zM314.1 275.7h3.35v3.66h-3.35zM311.0 286.0h3.35v3.66h-3.35zM314.1 286.0h3.35v3.66h-3.35zM411.1 282.6h3.35v3.66h-3.35zM417.4 282.6h3.35v3.66h-3.35zM411.1 286.0h3.35v3.66h-3.35zM411.1 289.4h3.35v3.66h-3.35zM414.3 289.4h3.35v3.66h-3.35zM383.0 310.1h3.35v3.66h-3.35zM383.0 313.6h3.35v3.66h-3.35zM386.1 313.6h3.35v3.66h-3.35zM398.6 296.3h3.35v3.66h-3.35zM426.8 303.2h3.35v3.66h-3.35zM426.8 310.1h3.35v3.66h-3.35zM361.1 323.9h3.35v3.66h-3.35zM367.3 317.0h3.35v3.66h-3.35zM373.6 317.0h3.35v3.66h-3.35zM367.3 320.4h3.35v3.66h-3.35zM373.6 320.4h3.35v3.66h-3.35zM376.7 320.4h3.35v3.66h-3.35zM364.2 327.3h3.35v3.66h-3.35zM379.9 317.0h3.35v3.66h-3.35zM408.0 330.8h3.35v3.66h-3.35z"/><path fill="#f4d424" d="M317.2 248.1h3.35v3.66h-3.35zM367.3 237.8h3.35v3.66h-3.35zM411.1 248.1h3.35v3.66h-3.35zM285.9 255.0h3.35v3.66h-3.35zM414.3 258.4h3.35v3.66h-3.35zM311.0 275.7h3.35v3.66h-3.35zM408.0 279.1h3.35v3.66h-3.35zM420.5 292.9h3.35v3.66h-3.35zM429.9 279.1h3.35v3.66h-3.35zM317.2 306.7h3.35v3.66h-3.35zM339.2 317.0h3.35v3.66h-3.35zM336.0 320.4h3.35v3.66h-3.35zM354.8 323.9h3.35v3.66h-3.35zM370.5 323.9h3.35v3.66h-3.35zM379.9 320.4h3.35v3.66h-3.35zM423.7 317.0h3.35v3.66h-3.35zM373.6 354.9h3.35v3.66h-3.35z"/><path fill="#2cec1c" d="M332.9 241.2h3.35v3.66h-3.35zM345.4 244.7h3.35v3.66h-3.35zM354.8 248.1h3.35v3.66h-3.35zM367.3 248.1h3.35v3.66h-3.35zM364.2 251.6h3.35v3.66h-3.35zM373.6 251.6h3.35v3.66h-3.35zM392.4 251.6h3.35v3.66h-3.35zM423.7 248.1h3.35v3.66h-3.35zM326.6 268.8h3.35v3.66h-3.35zM332.9 255.0h3.35v3.66h-3.35zM336.0 255.0h3.35v3.66h-3.35zM332.9 265.3h3.35v3.66h-3.35zM345.4 272.2h3.35v3.66h-3.35zM348.6 272.2h3.35v3.66h-3.35zM351.7 272.2h3.35v3.66h-3.35zM367.3 265.3h3.35v3.66h-3.35zM370.5 268.8h3.35v3.66h-3.35zM367.3 272.2h3.35v3.66h-3.35zM376.7 272.2h3.35v3.66h-3.35zM379.9 255.0h3.35v3.66h-3.35zM379.9 258.4h3.35v3.66h-3.35zM386.1 268.8h3.35v3.66h-3.35zM386.1 272.2h3.35v3.66h-3.35zM317.2 292.9h3.35v3.66h-3.35zM339.2 282.6h3.35v3.66h-3.35zM345.4 286.0h3.35v3.66h-3.35zM357.9 279.1h3.35v3.66h-3.35zM357.9 289.4h3.35v3.66h-3.35zM364.2 279.1h3.35v3.66h-3.35zM376.7 292.9h3.35v3.66h-3.35zM386.1 279.1h3.35v3.66h-3.35zM389.2 279.1h3.35v3.66h-3.35zM389.2 286.0h3.35v3.66h-3.35zM379.9 289.4h3.35v3.66h-3.35zM386.1 289.4h3.35v3.66h-3.35zM392.4 289.4h3.35v3.66h-3.35zM395.5 292.9h3.35v3.66h-3.35zM342.3 306.7h3.35v3.66h-3.35zM354.8 310.1h3.35v3.66h-3.35zM354.8 313.6h3.35v3.66h-3.35zM367.3 299.8h3.35v3.66h-3.35zM373.6 299.8h3.35v3.66h-3.35zM367.3 306.7h3.35v3.66h-3.35zM383.0 299.8h3.35v3.66h-3.35z"/><path fill="#4cec1c" d="M339.2 241.2h3.35v3.66h-3.35zM342.3 244.7h3.35v3.66h-3.35zM336.0 248.1h3.35v3.66h-3.35zM339.2 248.1h3.35v3.66h-3.35zM345.4 248.1h3.35v3.66h-3.35zM351.7 248.1h3.35v3.66h-3.35zM357.9 248.1h3.35v3.66h-3.35zM348.6 251.6h3.35v3.66h-3.35zM354.8 251.6h3.35v3.66h-3.35zM373.6 248.1h3.35v3.66h-3.35zM420.5 248.1h3.35v3.66h-3.35zM342.3 261.9h3.35v3.66h-3.35zM345.4 265.3h3.35v3.66h-3.35zM361.1 255.0h3.35v3.66h-3.35zM348.6 261.9h3.35v3.66h-3.35zM364.2 255.0h3.35v3.66h-3.35zM364.2 258.4h3.35v3.66h-3.35zM367.3 261.9h3.35v3.66h-3.35zM376.7 261.9h3.35v3.66h-3.35zM370.5 265.3h3.35v3.66h-3.35zM376.7 265.3h3.35v3.66h-3.35zM383.0 258.4h3.35v3.66h-3.35zM386.1 261.9h3.35v3.66h-3.35zM383.0 272.2h3.35v3.66h-3.35zM392.4 272.2h3.35v3.66h-3.35zM329.8 282.6h3.35v3.66h-3.35zM320.4 289.4h3.35v3.66h-3.35zM329.8 289.4h3.35v3.66h-3.35zM323.5 292.9h3.35v3.66h-3.35zM336.0 275.7h3.35v3.66h-3.35zM332.9 279.1h3.35v3.66h-3.35zM345.4 279.1h3.35v3.66h-3.35zM336.0 282.6h3.35v3.66h-3.35zM336.0 289.4h3.35v3.66h-3.35zM345.4 289.4h3.35v3.66h-3.35zM357.9 292.9h3.35v3.66h-3.35zM383.0 286.0h3.35v3.66h-3.35zM386.1 286.0h3.35v3.66h-3.35zM383.0 292.9h3.35v3.66h-3.35zM345.4 306.7h3.35v3.66h-3.35zM332.9 310.1h3.35v3.66h-3.35zM336.0 310.1h3.35v3.66h-3.35zM361.1 296.3h3.35v3.66h-3.35zM354.8 306.7h3.35v3.66h-3.35zM361.1 306.7h3.35v3.66h-3.35zM370.5 306.7h3.35v3.66h-3.35zM373.6 306.7h3.35v3.66h-3.35zM376.7 306.7h3.35v3.66h-3.35zM364.2 313.6h3.35v3.66h-3.35zM367.3 313.6h3.35v3.66h-3.35zM379.9 299.8h3.35v3.66h-3.35z"/><path fill="#34ec1c" d="M332.9 244.7h3.35v3.66h-3.35zM342.3 248.1h3.35v3.66h-3.35zM342.3 251.6h3.35v3.66h-3.35zM361.1 241.2h3.35v3.66h-3.35zM361.1 244.7h3.35v3.66h-3.35zM348.6 248.1h3.35v3.66h-3.35zM351.7 251.6h3.35v3.66h-3.35zM389.2 248.1h3.35v3.66h-3.35zM329.8 272.2h3.35v3.66h-3.35zM336.0 258.4h3.35v3.66h-3.35zM339.2 261.9h3.35v3.66h-3.35zM339.2 265.3h3.35v3.66h-3.35zM339.2 268.8h3.35v3.66h-3.35zM345.4 268.8h3.35v3.66h-3.35zM332.9 272.2h3.35v3.66h-3.35zM336.0 272.2h3.35v3.66h-3.35zM348.6 255.0h3.35v3.66h-3.35zM361.1 258.4h3.35v3.66h-3.35zM351.7 261.9h3.35v3.66h-3.35zM348.6 268.8h3.35v3.66h-3.35zM351.7 268.8h3.35v3.66h-3.35zM354.8 268.8h3.35v3.66h-3.35zM354.8 272.2h3.35v3.66h-3.35zM373.6 258.4h3.35v3.66h-3.35zM376.7 258.4h3.35v3.66h-3.35zM370.5 261.9h3.35v3.66h-3.35zM364.2 272.2h3.35v3.66h-3.35zM386.1 258.4h3.35v3.66h-3.35zM389.2 261.9h3.35v3.66h-3.35zM392.4 261.9h3.35v3.66h-3.35zM383.0 265.3h3.35v3.66h-3.35zM386.1 265.3h3.35v3.66h-3.35zM389.2 265.3h3.35v3.66h-3.35zM389.2 268.8h3.35v3.66h-3.35zM336.0 279.1h3.35v3.66h-3.35zM339.2 279.1h3.35v3.66h-3.35zM342.3 279.1h3.35v3.66h-3.35zM342.3 286.0h3.35v3.66h-3.35zM339.2 289.4h3.35v3.66h-3.35zM370.5 275.7h3.35v3.66h-3.35zM373.6 282.6h3.35v3.66h-3.35zM367.3 286.0h3.35v3.66h-3.35zM373.6 286.0h3.35v3.66h-3.35zM392.4 275.7h3.35v3.66h-3.35zM383.0 282.6h3.35v3.66h-3.35zM386.1 292.9h3.35v3.66h-3.35zM339.2 299.8h3.35v3.66h-3.35zM345.4 299.8h3.35v3.66h-3.35zM342.3 303.2h3.35v3.66h-3.35zM332.9 313.6h3.35v3.66h-3.35zM348.6 306.7h3.35v3.66h-3.35zM351.7 310.1h3.35v3.66h-3.35zM348.6 313.6h3.35v3.66h-3.35zM351.7 313.6h3.35v3.66h-3.35zM357.9 313.6h3.35v3.66h-3.35zM364.2 296.3h3.35v3.66h-3.35zM373.6 303.2h3.35v3.66h-3.35zM379.9 296.3h3.35v3.66h-3.35zM389.2 299.8h3.35v3.66h-3.35z"/><path fill="#f4dc24" d="M364.2 234.3h3.35v3.66h-3.35zM383.0 244.7h3.35v3.66h-3.35zM414.3 248.1h3.35v3.66h-3.35zM417.4 248.1h3.35v3.66h-3.35zM411.1 251.6h3.35v3.66h-3.35zM314.1 255.0h3.35v3.66h-3.35zM323.5 258.4h3.35v3.66h-3.35zM414.3 268.8h3.35v3.66h-3.35zM414.3 272.2h3.35v3.66h-3.35zM311.0 279.1h3.35v3.66h-3.35zM408.0 289.4h3.35v3.66h-3.35zM408.0 292.9h3.35v3.66h-3.35zM414.3 282.6h3.35v3.66h-3.35zM426.8 279.1h3.35v3.66h-3.35zM323.5 303.2h3.35v3.66h-3.35zM429.9 296.3h3.35v3.66h-3.35zM426.8 299.8h3.35v3.66h-3.35zM429.9 303.2h3.35v3.66h-3.35zM342.3 323.9h3.35v3.66h-3.35zM370.5 317.0h3.35v3.66h-3.35zM370.5 320.4h3.35v3.66h-3.35zM367.3 323.9h3.35v3.66h-3.35zM367.3 327.3h3.35v3.66h-3.35zM383.0 320.4h3.35v3.66h-3.35zM379.9 351.4h3.35v3.66h-3.35zM386.1 351.4h3.35v3.66h-3.35zM408.0 337.7h3.35v3.66h-3.35zM351.7 358.3h3.35v3.66h-3.35z"/><path fill="#e4f424" d="M379.9 241.2h3.35v3.66h-3.35zM398.6 299.8h3.35v3.66h-3.35zM332.9 320.4h3.35v3.66h-3.35z"/><path fill="#d4ec24" d="M408.0 255.0h3.35v3.66h-3.35zM282.8 282.6h3.35v3.66h-3.35zM311.0 282.6h3.35v3.66h-3.35zM404.9 275.7h3.35v3.66h-3.35zM426.8 275.7h3.35v3.66h-3.35zM426.8 296.3h3.35v3.66h-3.35z"/><path fill="#54ec1c" d="M361.1 275.7h3.35v3.66h-3.35zM357.9 296.3h3.35v3.66h-3.35zM348.6 303.2h3.35v3.66h-3.35z"/><path clip-path="url(#wc23)" stroke="#ffffff" stroke-opacity="0.28" stroke-width="0.4" fill="none" d="M270.30 193.0V379.0M273.43 193.0V379.0M276.56 193.0V379.0M279.69 193.0V379.0M282.82 193.0V379.0M285.95 193.0V379.0M289.08 193.0V379.0M292.21 193.0V379.0M295.34 193.0V379.0M298.47 193.0V379.0M301.60 193.0V379.0M304.73 193.0V379.0M307.86 193.0V379.0M310.99 193.0V379.0M314.12 193.0V379.0M317.25 193.0V379.0M320.38 193.0V379.0M323.51 193.0V379.0M326.64 193.0V379.0M329.77 193.0V379.0M332.90 193.0V379.0M336.03 193.0V379.0M339.16 193.0V379.0M342.29 193.0V379.0M345.42 193.0V379.0M348.55 193.0V379.0M351.68 193.0V379.0M354.81 193.0V379.0M357.94 193.0V379.0M361.07 193.0V379.0M364.20 193.0V379.0M367.33 193.0V379.0M370.46 193.0V379.0M373.59 193.0V379.0M376.72 193.0V379.0M379.85 193.0V379.0M382.98 193.0V379.0M386.11 193.0V379.0M389.24 193.0V379.0M392.37 193.0V379.0M395.50 193.0V379.0M398.63 193.0V379.0M401.76 193.0V379.0M404.89 193.0V379.0M408.02 193.0V379.0M411.15 193.0V379.0M414.28 193.0V379.0M417.41 193.0V379.0M420.54 193.0V379.0M423.67 193.0V379.0M426.80 193.0V379.0M429.93 193.0V379.0M433.06 193.0V379.0M436.19 193.0V379.0M439.32 193.0V379.0M442.45 193.0V379.0M270.3 193.00H442.5M270.3 196.44H442.5M270.3 199.89H442.5M270.3 203.33H442.5M270.3 206.78H442.5M270.3 210.22H442.5M270.3 213.67H442.5M270.3 217.11H442.5M270.3 220.56H442.5M270.3 224.00H442.5M270.3 227.44H442.5M270.3 230.89H442.5M270.3 234.33H442.5M270.3 237.78H442.5M270.3 241.22H442.5M270.3 244.67H442.5M270.3 248.11H442.5M270.3 251.56H442.5M270.3 255.00H442.5M270.3 258.45H442.5M270.3 261.89H442.5M270.3 265.33H442.5M270.3 268.78H442.5M270.3 272.22H442.5M270.3 275.67H442.5M270.3 279.11H442.5M270.3 282.56H442.5M270.3 286.00H442.5M270.3 289.45H442.5M270.3 292.89H442.5M270.3 296.34H442.5M270.3 299.78H442.5M270.3 303.22H442.5M270.3 306.67H442.5M270.3 310.11H442.5M270.3 313.56H442.5M270.3 317.00H442.5M270.3 320.45H442.5M270.3 323.89H442.5M270.3 327.34H442.5M270.3 330.78H442.5M270.3 334.22H442.5M270.3 337.67H442.5M270.3 341.11H442.5M270.3 344.56H442.5M270.3 348.00H442.5M270.3 351.45H442.5M270.3 354.89H442.5M270.3 358.34H442.5M270.3 361.78H442.5M270.3 365.23H442.5M270.3 368.67H442.5M270.3 372.11H442.5M270.3 375.56H442.5M270.3 379.00H442.5"/><g fill="none" stroke="#4c4c4c" stroke-width="0.95"><rect x="317.25" y="193.00" width="15.65" height="20.67"/><rect x="332.90" y="193.00" width="15.65" height="20.67"/><rect x="348.55" y="193.00" width="15.65" height="20.67"/><rect x="364.20" y="193.00" width="15.65" height="20.67"/><rect x="379.85" y="193.00" width="15.65" height="20.67"/><rect x="285.95" y="213.67" width="15.65" height="20.67"/><rect x="301.60" y="213.67" width="15.65" height="20.67"/><rect x="317.25" y="213.67" width="15.65" height="20.67"/><rect x="332.90" y="213.67" width="15.65" height="20.67"/><rect x="348.55" y="213.67" width="15.65" height="20.67"/><rect x="364.20" y="213.67" width="15.65" height="20.67"/><rect x="379.85" y="213.67" width="15.65" height="20.67"/><rect x="395.50" y="213.67" width="15.65" height="20.67"/><rect x="411.15" y="213.67" width="15.65" height="20.67"/><rect x="285.95" y="234.33" width="15.65" height="20.67"/><rect x="301.60" y="234.33" width="15.65" height="20.67"/><rect x="317.25" y="234.33" width="15.65" height="20.67"/><rect x="332.90" y="234.33" width="15.65" height="20.67"/><rect x="348.55" y="234.33" width="15.65" height="20.67"/><rect x="364.20" y="234.33" width="15.65" height="20.67"/><rect x="379.85" y="234.33" width="15.65" height="20.67"/><rect x="395.50" y="234.33" width="15.65" height="20.67"/><rect x="411.15" y="234.33" width="15.65" height="20.67"/><rect x="426.80" y="234.33" width="15.65" height="20.67"/><rect x="270.30" y="255.00" width="15.65" height="20.67"/><rect x="285.95" y="255.00" width="15.65" height="20.67"/><rect x="301.60" y="255.00" width="15.65" height="20.67"/><rect x="317.25" y="255.00" width="15.65" height="20.67"/><rect x="332.90" y="255.00" width="15.65" height="20.67"/><rect x="348.55" y="255.00" width="15.65" height="20.67"/><rect x="364.20" y="255.00" width="15.65" height="20.67"/><rect x="379.85" y="255.00" width="15.65" height="20.67"/><rect x="395.50" y="255.00" width="15.65" height="20.67"/><rect x="411.15" y="255.00" width="15.65" height="20.67"/><rect x="426.80" y="255.00" width="15.65" height="20.67"/><rect x="270.30" y="275.67" width="15.65" height="20.67"/><rect x="285.95" y="275.67" width="15.65" height="20.67"/><rect x="301.60" y="275.67" width="15.65" height="20.67"/><rect x="317.25" y="275.67" width="15.65" height="20.67"/><rect x="332.90" y="275.67" width="15.65" height="20.67"/><rect x="348.55" y="275.67" width="15.65" height="20.67"/><rect x="364.20" y="275.67" width="15.65" height="20.67"/><rect x="379.85" y="275.67" width="15.65" height="20.67"/><rect x="395.50" y="275.67" width="15.65" height="20.67"/><rect x="411.15" y="275.67" width="15.65" height="20.67"/><rect x="426.80" y="275.67" width="15.65" height="20.67"/><rect x="270.30" y="296.34" width="15.65" height="20.67"/><rect x="285.95" y="296.34" width="15.65" height="20.67"/><rect x="301.60" y="296.34" width="15.65" height="20.67"/><rect x="317.25" y="296.34" width="15.65" height="20.67"/><rect x="332.90" y="296.34" width="15.65" height="20.67"/><rect x="348.55" y="296.34" width="15.65" height="20.67"/><rect x="364.20" y="296.34" width="15.65" height="20.67"/><rect x="379.85" y="296.34" width="15.65" height="20.67"/><rect x="395.50" y="296.34" width="15.65" height="20.67"/><rect x="411.15" y="296.34" width="15.65" height="20.67"/><rect x="426.80" y="296.34" width="15.65" height="20.67"/><rect x="285.95" y="317.00" width="15.65" height="20.67"/><rect x="301.60" y="317.00" width="15.65" height="20.67"/><rect x="317.25" y="317.00" width="15.65" height="20.67"/><rect x="332.90" y="317.00" width="15.65" height="20.67"/><rect x="348.55" y="317.00" width="15.65" height="20.67"/><rect x="364.20" y="317.00" width="15.65" height="20.67"/><rect x="379.85" y="317.00" width="15.65" height="20.67"/><rect x="395.50" y="317.00" width="15.65" height="20.67"/><rect x="411.15" y="317.00" width="15.65" height="20.67"/><rect x="426.80" y="317.00" width="15.65" height="20.67"/><rect x="301.60" y="337.67" width="15.65" height="20.67"/><rect x="317.25" y="337.67" width="15.65" height="20.67"/><rect x="332.90" y="337.67" width="15.65" height="20.67"/><rect x="348.55" y="337.67" width="15.65" height="20.67"/><rect x="364.20" y="337.67" width="15.65" height="20.67"/><rect x="379.85" y="337.67" width="15.65" height="20.67"/><rect x="395.50" y="337.67" width="15.65" height="20.67"/><rect x="411.15" y="337.67" width="15.65" height="20.67"/><rect x="332.90" y="358.34" width="15.65" height="20.67"/><rect x="348.55" y="358.34" width="15.65" height="20.67"/><rect x="364.20" y="358.34" width="15.65" height="20.67"/><rect x="379.85" y="358.34" width="15.65" height="20.67"/></g><circle cx="359.50" cy="284.30" r="82.4" fill="none" stroke="#4a4a4a" stroke-width="1"/><path d="M351.00 371.8 L358.70 366.4 L366.40 371.8 Z" fill="#444"/><rect x="463" y="249.6" width="3.8" height="130.8" fill="url(#cb)"/><rect x="466.8" y="249.6" width="3.6" height="1.6" fill="#f01010"/><rect x="466.8" y="378.8" width="3.6" height="1.6" fill="#1ee81a"/><text x="475" y="252.9" font-size="9.2" fill="#6a6a6a" font-family="Liberation Sans, sans-serif">0.9745</text><rect x="466.8" y="281.8" width="2.6" height="1" fill="#f37a1a" opacity="0.8"/><text x="475" y="285.6" font-size="9.2" fill="#6a6a6a" font-family="Liberation Sans, sans-serif">0.9129</text><rect x="466.8" y="314.5" width="2.6" height="1" fill="#f0ee1e" opacity="0.8"/><text x="475" y="318.3" font-size="9.2" fill="#6a6a6a" font-family="Liberation Sans, sans-serif">0.8247</text><rect x="466.8" y="347.2" width="2.6" height="1" fill="#a6ee22" opacity="0.8"/><text x="475" y="351.0" font-size="9.2" fill="#6a6a6a" font-family="Liberation Sans, sans-serif">0.7536</text><text x="475" y="383.7" font-size="9.2" fill="#6a6a6a" font-family="Liberation Sans, sans-serif">0.7071</text><text x="11.1" y="131" font-family="Liberation Sans, sans-serif" font-size="11.6" fill="#222" stroke="#222" stroke-width="0.45" textLength="57.6" lengthAdjust="spacingAndGlyphs">Wafer Map</text><text x="581.2" y="131.7" font-family="Liberation Sans, sans-serif" font-size="11.6" fill="#2a2a2a" stroke="#2a2a2a" stroke-width="0.45" textLength="109" lengthAdjust="spacingAndGlyphs">CDFPlot by StationId</text><rect x="596.7" y="139.7" width="279.1" height="290" fill="#fff" stroke="#dcdcdc" stroke-width="1"/><line x1="596.7" y1="152.5" x2="875.8" y2="152.5" stroke="#ececec" stroke-width="1"/><rect x="706" y="139.5" width="62" height="11" fill="#e6e6e6" filter="url(#bl2)"/><rect x="712" y="142" width="20" height="6" fill="#d8d8d8" filter="url(#bl2)"/><rect x="738" y="142" width="24" height="6" fill="#d8d8d8" filter="url(#bl2)"/><path d="M682.0 155V409M707.5 155V409M733.0 155V409M758.5 155V409M809.6 155V409M835.1 155V409M640 160.9H844M640 181.5H844M640 206.3H844M640 228.9H844M640 240.6H844M640 255.0H844M640 265.4H844M640 274.2H844M640 282.4H844M640 290.6H844M640 299.4H844M640 309.8H844M640 324.2H844M640 335.9H844M640 358.5H844M640 383.3H844M640 403.9H844" stroke="#f6f6f6" stroke-width="1" fill="none"/><path d="M639.1 155V409.6H844.2V155" stroke="#8a8a8a" stroke-width="1.1" fill="none"/><path d="M635.8 161.0H639M635.8 181.5H639M635.8 206.5H639M635.8 228.7H639M635.8 240.6H639M635.8 254.9H639M635.8 265.3H639M635.8 274.1H639M635.8 282.4H639M635.8 290.7H639M635.8 299.5H639M635.8 309.9H639M635.8 324.2H639M635.8 336.1H639M635.8 358.3H639M635.8 383.3H639M635.8 403.8H639M844.2 160.9H847.6M844.2 181.5H847.6M844.2 206.3H847.6M844.2 228.9H847.6M844.2 240.6H847.6M844.2 255.0H847.6M844.2 265.4H847.6M844.2 274.2H847.6M844.2 282.4H847.6M844.2 290.6H847.6M844.2 299.4H847.6M844.2 309.8H847.6M844.2 324.2H847.6M844.2 335.9H847.6M844.2 358.5H847.6M844.2 383.3H847.6M844.2 403.9H847.6M656.5 409.6V412.3M682.0 409.6V412.3M707.5 409.6V412.3M733.0 409.6V412.3M758.5 409.6V412.3M784.1 409.6V412.3M809.6 409.6V412.3M835.1 409.6V412.3" stroke="#8a8a8a" stroke-width="1" fill="none"/><g font-family="Liberation Sans, sans-serif" font-size="10.1" fill="#3c3c3c" stroke="#3c3c3c" stroke-width="0.25"><text x="635.4" y="164.4" text-anchor="end">99.99%</text><text x="635.4" y="184.9" text-anchor="end">99.9%</text><text x="635.4" y="209.9" text-anchor="end">99%</text><text x="635.4" y="232.1" text-anchor="end">95%</text><text x="635.4" y="244.0" text-anchor="end">90%</text><text x="635.4" y="258.3" text-anchor="end">80%</text><text x="635.4" y="268.7" text-anchor="end">70%</text><text x="635.4" y="277.5" text-anchor="end">60%</text><text x="635.4" y="285.8" text-anchor="end">50%</text><text x="635.4" y="294.1" text-anchor="end">40%</text><text x="635.4" y="302.9" text-anchor="end">30%</text><text x="635.4" y="313.3" text-anchor="end">20%</text><text x="635.4" y="327.6" text-anchor="end">10%</text><text x="635.4" y="339.5" text-anchor="end">5%</text><text x="635.4" y="361.7" text-anchor="end">1%</text><text x="635.4" y="386.7" text-anchor="end">0.1%</text><text x="635.4" y="407.2" text-anchor="end">0.01%</text><text x="848.2" y="164.3">3.72</text><text x="848.2" y="184.9">3.09</text><text x="848.2" y="209.7">2.33</text><text x="848.2" y="232.3">1.64</text><text x="848.2" y="244.0">1.28</text><text x="848.2" y="258.4">0.84</text><text x="848.2" y="268.8">0.52</text><text x="848.2" y="277.6">0.25</text><text x="848.2" y="285.8">0.00</text><text x="848.2" y="294.0">-0.25</text><text x="848.2" y="302.8">-0.52</text><text x="848.2" y="313.2">-0.84</text><text x="848.2" y="327.6">-1.28</text><text x="848.2" y="339.3">-1.64</text><text x="848.2" y="361.9">-2.33</text><text x="848.2" y="386.7">-3.09</text><text x="848.2" y="407.3">-3.72</text><text x="656.5" y="424.9" text-anchor="middle">0.6</text><text x="682.0" y="424.9" text-anchor="middle">0.7</text><text x="707.5" y="424.9" text-anchor="middle">0.8</text><text x="733.0" y="424.9" text-anchor="middle">0.9</text><text x="758.5" y="424.9" text-anchor="middle">1</text><text x="784.1" y="424.9" text-anchor="middle">1.1</text><text x="809.6" y="424.9" text-anchor="middle">1.2</text><text x="835.1" y="424.9" text-anchor="middle">1.3</text></g><line x1="656.5" y1="155.3" x2="656.5" y2="409" stroke="#2f66cc" stroke-width="1.6" stroke-dasharray="6.2 5.52" stroke-dashoffset="1.4"/><line x1="784.2" y1="155.3" x2="784.2" y2="409" stroke="#2f66cc" stroke-width="1.6" stroke-dasharray="6.2 5.52" stroke-dashoffset="1.4"/><text transform="translate(650.7,233.4) rotate(-90)" font-family="Liberation Sans, sans-serif" font-size="12" textLength="75" lengthAdjust="spacingAndGlyphs" fill="#3a7bd6">SpecLow : 0.6</text><polyline points="668.7,370.1 668.9,369.3 669.2,368.1 669.5,366.7 669.9,365.2 670.3,363.7 670.6,362.3 670.9,361.0 671.2,359.7 671.5,358.4 671.8,357.1 672.1,355.8 672.5,354.5 672.9,353.2 673.3,351.9 673.7,350.5 674.1,349.2 674.6,347.9 675.0,346.7 675.4,345.6 675.8,344.6 676.3,343.7 676.7,342.6 677.2,341.5 677.8,340.0 678.5,338.2 679.3,336.1 680.1,333.9 681.0,331.5 681.8,329.3 682.5,327.2 683.1,325.2 683.7,323.2 684.3,321.3 684.8,319.5 685.2,317.9 685.7,316.4 686.1,315.2 686.5,314.2 686.8,313.4 687.1,312.7 687.5,311.9 687.9,311.1 688.4,310.2 688.9,309.3 689.4,308.4 689.9,307.5 690.5,306.6 691.1,305.7 691.7,304.8 692.3,303.9 693.0,303.0 693.7,302.1 694.3,301.2 695.0,300.4 695.7,299.6 696.3,298.9 697.0,298.2 697.7,297.4 698.4,296.7 699.0,296.0 699.6,295.3 700.1,294.5 700.6,293.8 701.1,293.1 701.7,292.3 702.5,291.4 703.4,290.4 704.5,289.4 705.6,288.3 706.8,287.2 708.0,286.1 709.3,285.0 710.6,283.9 711.9,282.9 713.3,281.8 714.7,280.7 716.1,279.7 717.6,278.6 719.2,277.5 720.8,276.4 722.5,275.4 724.2,274.3 725.8,273.2 727.3,272.1 728.7,271.0 730.1,270.0 731.4,268.9 732.7,267.8 733.9,266.8 735.0,265.7 736.0,264.6 736.9,263.6 737.8,262.5 738.6,261.4 739.3,260.4 740.1,259.3 740.8,258.3 741.5,257.3 742.1,256.3 742.7,255.2 743.3,254.1 744.0,252.9 744.7,251.6 745.5,250.1 746.3,248.6 747.2,247.0 747.9,245.5 748.7,244.1 749.4,242.8 750.0,241.6 750.6,240.5 751.2,239.3 751.9,238.0 752.7,236.4 753.6,234.6 754.7,232.5 755.7,230.3 756.9,228.1 758.0,225.8 759.1,223.6 760.2,221.4 761.4,219.1 762.5,216.7 763.6,214.5 764.7,212.5 765.6,210.7 766.4,209.2 767.1,207.9 767.8,206.8 768.4,205.9 768.8,205.2 769.2,204.6" fill="none" stroke="#d4213b" stroke-width="5.2" stroke-linejoin="round" stroke-linecap="square"/><polyline points="667.6,386.2 667.8,375.6 668.7,370.1" fill="none" stroke="#d4213b" stroke-width="1.3"/><rect x="665.5" y="384.1" width="4.2" height="4.2" fill="#d4213b"/><rect x="665.7" y="373.5" width="4.2" height="4.2" fill="#d4213b"/><rect x="666.6" y="368.0" width="4.2" height="4.2" fill="#d4213b"/><polyline points="680.9,372.3 681.0,371.8 681.2,371.3 681.4,370.5 681.7,369.7 682.0,368.8 682.3,367.8 682.6,366.7 683.0,365.5 683.4,364.2 683.8,362.8 684.2,361.4 684.7,360.0 685.2,358.6 685.7,357.0 686.2,355.5 686.8,353.9 687.3,352.5 687.8,351.1 688.3,349.9 688.8,348.7 689.3,347.7 689.8,346.6 690.2,345.6 690.6,344.5 690.9,343.4 691.1,342.3 691.3,341.1 691.5,340.0 691.8,338.9 692.2,337.9 692.8,336.9 693.5,336.0 694.3,335.1 695.1,334.2 695.8,333.4 696.4,332.5 696.8,331.6 697.1,330.7 697.4,329.8 697.6,329.0 697.8,328.1 698.0,327.2 698.3,326.3 698.6,325.4 698.9,324.5 699.1,323.6 699.4,322.7 699.7,321.8 700.0,320.9 700.2,320.0 700.5,319.1 700.7,318.2 701.0,317.3 701.3,316.4 701.6,315.5 701.9,314.6 702.3,313.8 702.6,312.9 703.0,312.0 703.4,311.1 703.8,310.2 704.2,309.3 704.6,308.4 705.1,307.5 705.6,306.6 706.1,305.7 706.7,304.8 707.4,303.9 708.1,303.1 708.8,302.2 709.6,301.3 710.4,300.4 711.2,299.5 712.1,298.5 713.1,297.6 714.0,296.7 714.9,295.8 715.7,295.0 716.3,294.3 716.8,293.8 717.3,293.3 717.8,292.7 718.5,292.1 719.6,291.4 721.1,290.5 722.9,289.5 725.0,288.4 727.1,287.2 729.2,286.1 731.1,285.0 732.9,283.9 734.6,282.9 736.3,281.8 738.0,280.7 739.7,279.7 741.4,278.6 743.1,277.5 744.9,276.4 746.7,275.4 748.5,274.3 750.1,273.2 751.7,272.1 753.2,271.0 754.6,270.0 755.9,268.9 757.1,267.8 758.3,266.8 759.4,265.7 760.4,264.6 761.4,263.6 762.2,262.5 763.1,261.4 763.8,260.4 764.6,259.3 765.3,258.3 766.0,257.2 766.6,256.2 767.3,255.1 767.8,254.1 768.4,252.9 768.9,251.7 769.4,250.4 769.9,249.1 770.3,247.7 770.8,246.4 771.2,245.0 771.6,243.6 772.0,242.2 772.4,240.8 772.8,239.3 773.3,237.9 773.9,236.4 774.6,234.9 775.5,233.4 776.5,231.8 777.4,230.3 778.3,228.8 779.1,227.4 779.7,226.0 780.3,224.7 780.8,223.4 781.3,222.1 781.8,220.9 782.3,219.7 782.9,218.5 783.5,217.4 784.2,216.3 784.9,215.3 785.5,214.3 786.1,213.3 786.7,212.4 787.2,211.6 787.7,210.8 788.2,210.0 788.8,209.1 789.3,208.1 789.8,207.0 790.4,205.7 790.9,204.4 791.5,203.1 792.1,201.7 792.6,200.4 793.1,199.1 793.7,197.8 794.2,196.4 794.8,195.1 795.3,193.9 795.8,192.7 796.3,191.6 796.9,190.5 797.4,189.5 798.0,188.5 798.4,187.8 798.7,187.2" fill="none" stroke="#1f5fd8" stroke-width="5" stroke-linejoin="round" stroke-linecap="round"/><polyline points="676.7,387.9 679.8,377.3 680.9,372.3" fill="none" stroke="#1f5fd8" stroke-width="1.3"/><polyline points="798.7,187.2 826.6,176.7" fill="none" stroke="#1f5fd8" stroke-width="1.3"/><circle cx="676.7" cy="387.9" r="2.2" fill="#1f5fd8"/><circle cx="679.8" cy="377.3" r="2.2" fill="#1f5fd8"/><circle cx="680.9" cy="372.3" r="2.2" fill="#1f5fd8"/><circle cx="682.3" cy="367.8" r="2.2" fill="#1f5fd8"/><circle cx="798.7" cy="187.2" r="2.2" fill="#1f5fd8"/><circle cx="826.6" cy="176.7" r="2.2" fill="#1f5fd8"/><text transform="translate(777.8,237.2) rotate(-90)" font-family="Liberation Sans, sans-serif" font-size="12" textLength="79.5" lengthAdjust="spacingAndGlyphs" fill="#3a7bd6" fill-opacity="0.8">SpecHigh : 1.1</text><g font-family="Liberation Sans, sans-serif" font-size="11.8" fill="#333"><text x="744.6" y="348.0" text-anchor="end">Max</text><text x="744.6" y="348.0" xml:space="preserve"> = <tspan fill="#3a7ed8">1.265</tspan> | <tspan fill="#d2475f">1.068</tspan></text><text x="744.6" y="361.7" text-anchor="end">Q3</text><text x="744.6" y="361.7" xml:space="preserve"> = <tspan fill="#3a7ed8">1.016</tspan> | <tspan fill="#d2475f">0.9256</tspan></text><text x="744.6" y="374.9" text-anchor="end">Median</text><text x="744.6" y="374.9" xml:space="preserve"> = <tspan fill="#3a7ed8">0.9083</tspan> | <tspan fill="#d2475f">0.8247</tspan></text><text x="744.6" y="388.2" text-anchor="end">Q1</text><text x="744.6" y="388.2" xml:space="preserve"> = <tspan fill="#3a7ed8">0.8047</tspan> | <tspan fill="#d2475f">0.7412</tspan></text><text x="744.6" y="401.0" text-anchor="end">Min</text><text x="744.6" y="401.0" xml:space="preserve"> = <tspan fill="#3a7ed8">0.6807</tspan> | <tspan fill="#d2475f">0.6446</tspan></text></g><text transform="translate(587.4,286.2) rotate(-90)" text-anchor="middle" font-family="Liberation Sans, sans-serif" font-size="10.4" fill="#444">Qnorm</text><text x="715" y="448.1" text-anchor="middle" font-family="Liberation Sans, sans-serif" font-size="10.6" fill="#444">Result</text><text x="889.7" y="154.7" font-family="Liberation Sans, sans-serif" font-size="10.4" font-weight="bold" textLength="51" lengthAdjust="spacingAndGlyphs" fill="#3a3a3a">STATIONID</text><circle cx="895.7" cy="171.2" r="4.8" fill="#1f5fd8"/><rect x="891" y="183.2" width="9.5" height="9" fill="#d4213b"/><text x="905.2" y="174.6" font-family="Liberation Sans, sans-serif" font-size="9.4" textLength="24.2" lengthAdjust="spacingAndGlyphs" fill="#555">TEL08</text><text x="905.2" y="190.8" font-family="Liberation Sans, sans-serif" font-size="9.4" textLength="24.2" lengthAdjust="spacingAndGlyphs" fill="#555">TEL12</text></svg>
</div></body></html>
